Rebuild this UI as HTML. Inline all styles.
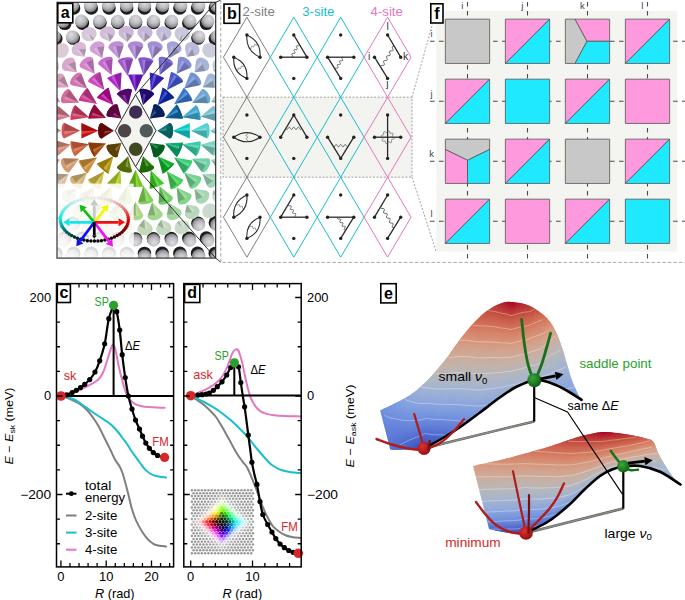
<!DOCTYPE html>
<html><head><meta charset="utf-8"><style>
html,body{margin:0;padding:0;background:#fff;width:685px;height:600px;overflow:hidden}
svg{display:block}
text{font-family:"Liberation Sans",sans-serif}
</style></head><body>
<svg width="685" height="600" viewBox="0 0 685 600">
<defs><clipPath id="clipA"><rect x="57" y="2.3" width="158.7" height="255.8"/></clipPath></defs>
<defs><radialGradient id="gfar" cx="0.5" cy="0.3" r="0.78"><stop offset="0" stop-color="#dedee2"/><stop offset="0.5" stop-color="#b9b9bf"/><stop offset="0.8" stop-color="#858589"/><stop offset="1" stop-color="#303032"/></radialGradient></defs>
<g clip-path="url(#clipA)">
<rect x="57" y="2.3" width="158.7" height="255.8" fill="#fff"/>
<circle cx="47.09" cy="268.68" r="6.7" fill="#1c1c1c"/>
<circle cx="45.68" cy="270.87" r="6.6" fill="url(#gfar)" transform="rotate(-147.32 45.68 270.87)"/>
<circle cx="224.11" cy="268.68" r="6.7" fill="#1c1c1c"/>
<circle cx="225.52" cy="270.87" r="6.6" fill="url(#gfar)" transform="rotate(-212.68 225.52 270.87)"/>
<circle cx="47.09" cy="-7.28" r="6.7" fill="#1c1c1c"/>
<circle cx="45.68" cy="-9.47" r="6.6" fill="url(#gfar)" transform="rotate(-32.68 45.68 -9.47)"/>
<circle cx="224.11" cy="-7.28" r="6.7" fill="#1c1c1c"/>
<circle cx="225.52" cy="-9.47" r="6.6" fill="url(#gfar)" transform="rotate(32.68 225.52 -9.47)"/>
<circle cx="64.79" cy="268.67" r="6.7" fill="#1c1c1c"/>
<circle cx="63.61" cy="270.98" r="6.6" fill="url(#gfar)" transform="rotate(-152.83 63.61 270.98)"/>
<circle cx="206.41" cy="268.67" r="6.7" fill="#1c1c1c"/>
<circle cx="207.59" cy="270.98" r="6.6" fill="url(#gfar)" transform="rotate(-207.17 207.59 270.98)"/>
<circle cx="64.79" cy="-7.27" r="6.7" fill="#1c1c1c"/>
<circle cx="63.61" cy="-9.58" r="6.6" fill="url(#gfar)" transform="rotate(-27.17 63.61 -9.58)"/>
<circle cx="206.41" cy="-7.27" r="6.7" fill="#1c1c1c"/>
<circle cx="207.59" cy="-9.58" r="6.6" fill="url(#gfar)" transform="rotate(27.17 207.59 -9.58)"/>
<circle cx="82.5" cy="-7.26" r="6.7" fill="#1c1c1c"/>
<circle cx="81.56" cy="-9.69" r="6.6" fill="url(#gfar)" transform="rotate(-21.05 81.56 -9.69)"/>
<circle cx="188.7" cy="-7.26" r="6.7" fill="#1c1c1c"/>
<circle cx="189.64" cy="-9.69" r="6.6" fill="url(#gfar)" transform="rotate(21.05 189.64 -9.69)"/>
<circle cx="55.95" cy="253.33" r="6.7" fill="#1c1c1c"/>
<circle cx="54.53" cy="255.51" r="6.6" fill="url(#gfar)" transform="rotate(-147 54.53 255.51)"/>
<circle cx="215.25" cy="253.33" r="6.7" fill="#1c1c1c"/>
<circle cx="216.67" cy="255.51" r="6.6" fill="url(#gfar)" transform="rotate(-213 216.67 255.51)"/>
<circle cx="55.95" cy="8.07" r="6.7" fill="#1c1c1c"/>
<circle cx="54.53" cy="5.89" r="6.6" fill="url(#gfar)" transform="rotate(-33 54.53 5.89)"/>
<circle cx="215.25" cy="8.07" r="6.7" fill="#1c1c1c"/>
<circle cx="216.67" cy="5.89" r="6.6" fill="url(#gfar)" transform="rotate(33 216.67 5.89)"/>
<circle cx="100.2" cy="-7.26" r="6.7" fill="#1c1c1c"/>
<circle cx="99.55" cy="-9.78" r="6.6" fill="url(#gfar)" transform="rotate(-14.39 99.55 -9.78)"/>
<circle cx="171" cy="-7.26" r="6.7" fill="#1c1c1c"/>
<circle cx="171.65" cy="-9.78" r="6.6" fill="url(#gfar)" transform="rotate(14.39 171.65 -9.78)"/>
<circle cx="47.1" cy="238" r="6.7" fill="#1c1c1c"/>
<circle cx="45.45" cy="240" r="6.6" fill="url(#gfar)" transform="rotate(-140.48 45.45 240)"/>
<circle cx="224.1" cy="238" r="6.7" fill="#1c1c1c"/>
<circle cx="225.75" cy="240" r="6.6" fill="url(#gfar)" transform="rotate(-219.52 225.75 240)"/>
<circle cx="47.1" cy="23.4" r="6.7" fill="#1c1c1c"/>
<circle cx="45.45" cy="21.4" r="6.6" fill="url(#gfar)" transform="rotate(-39.52 45.45 21.4)"/>
<circle cx="224.1" cy="23.4" r="6.7" fill="#1c1c1c"/>
<circle cx="225.75" cy="21.4" r="6.6" fill="url(#gfar)" transform="rotate(39.52 225.75 21.4)"/>
<circle cx="117.9" cy="-7.26" r="6.7" fill="#1c1c1c"/>
<circle cx="117.57" cy="-9.83" r="6.6" fill="url(#gfar)" transform="rotate(-7.31 117.57 -9.83)"/>
<circle cx="153.3" cy="-7.26" r="6.7" fill="#1c1c1c"/>
<circle cx="153.63" cy="-9.83" r="6.6" fill="url(#gfar)" transform="rotate(7.31 153.63 -9.83)"/>
<circle cx="135.6" cy="-7.25" r="6.7" fill="#1c1c1c"/>
<circle cx="135.6" cy="-9.85" r="6.6" fill="url(#gfar)" transform="rotate(0 135.6 -9.85)"/>
<circle cx="73.65" cy="253.32" r="6.7" fill="#1c1c1c"/>
<circle cx="72.48" cy="255.65" r="6.6" fill="url(#gfar)" transform="rotate(-153.2 72.48 255.65)"/>
<circle cx="197.55" cy="253.32" r="6.7" fill="#1c1c1c"/>
<circle cx="198.72" cy="255.65" r="6.6" fill="url(#gfar)" transform="rotate(-206.8 198.72 255.65)"/>
<circle cx="73.65" cy="8.08" r="6.7" fill="#1c1c1c"/>
<circle cx="72.48" cy="5.75" r="6.6" fill="url(#gfar)" transform="rotate(-26.8 72.48 5.75)"/>
<circle cx="197.55" cy="8.08" r="6.7" fill="#1c1c1c"/>
<circle cx="198.72" cy="5.75" r="6.6" fill="url(#gfar)" transform="rotate(26.8 198.72 5.75)"/>
<circle cx="91.35" cy="253.32" r="6.7" fill="#1c1c1c"/>
<circle cx="90.47" cy="255.76" r="6.6" fill="url(#gfar)" transform="rotate(-160.16 90.47 255.76)"/>
<circle cx="179.85" cy="253.32" r="6.7" fill="#1c1c1c"/>
<circle cx="180.73" cy="255.76" r="6.6" fill="url(#gfar)" transform="rotate(-199.84 180.73 255.76)"/>
<circle cx="91.35" cy="8.08" r="6.7" fill="#1c1c1c"/>
<circle cx="90.47" cy="5.64" r="6.6" fill="url(#gfar)" transform="rotate(-19.84 90.47 5.64)"/>
<circle cx="179.85" cy="8.08" r="6.7" fill="#1c1c1c"/>
<circle cx="180.73" cy="5.64" r="6.6" fill="url(#gfar)" transform="rotate(19.84 180.73 5.64)"/>
<circle cx="64.81" cy="237.99" r="6.7" fill="#1c1c1c"/>
<circle cx="63.38" cy="240.16" r="6.6" fill="url(#gfar)" transform="rotate(-146.58 63.38 240.16)"/>
<circle cx="206.39" cy="237.99" r="6.7" fill="#1c1c1c"/>
<circle cx="207.82" cy="240.16" r="6.6" fill="url(#gfar)" transform="rotate(-213.42 207.82 240.16)"/>
<circle cx="64.81" cy="23.41" r="6.7" fill="#1c1c1c"/>
<circle cx="63.38" cy="21.24" r="6.6" fill="url(#gfar)" transform="rotate(-33.42 63.38 21.24)"/>
<circle cx="206.39" cy="23.41" r="6.7" fill="#1c1c1c"/>
<circle cx="207.82" cy="21.24" r="6.6" fill="url(#gfar)" transform="rotate(33.42 207.82 21.24)"/>
<circle cx="109.05" cy="253.31" r="6.7" fill="#1c1c1c"/>
<circle cx="108.5" cy="255.85" r="6.6" fill="url(#gfar)" transform="rotate(-167.78 108.5 255.85)"/>
<circle cx="162.15" cy="253.31" r="6.7" fill="#1c1c1c"/>
<circle cx="162.7" cy="255.85" r="6.6" fill="url(#gfar)" transform="rotate(-192.22 162.7 255.85)"/>
<circle cx="109.05" cy="8.09" r="6.7" fill="#1c1c1c"/>
<circle cx="108.5" cy="5.55" r="6.6" fill="url(#gfar)" transform="rotate(-12.22 108.5 5.55)"/>
<circle cx="162.15" cy="8.09" r="6.7" fill="#1c1c1c"/>
<circle cx="162.7" cy="5.55" r="6.6" fill="url(#gfar)" transform="rotate(12.22 162.7 5.55)"/>
<circle cx="126.75" cy="253.36" r="6.7" fill="#1c1c1c"/>
<circle cx="126.57" cy="255.87" r="6.6" fill="url(#gfar)" transform="rotate(-175.87 126.57 255.87)"/>
<circle cx="144.45" cy="253.36" r="6.7" fill="#1c1c1c"/>
<circle cx="144.63" cy="255.87" r="6.6" fill="url(#gfar)" transform="rotate(-184.13 144.63 255.87)"/>
<circle cx="126.75" cy="8.04" r="6.7" fill="#1c1c1c"/>
<circle cx="126.57" cy="5.53" r="6.6" fill="url(#gfar)" transform="rotate(-4.13 126.57 5.53)"/>
<circle cx="144.45" cy="8.04" r="6.7" fill="#1c1c1c"/>
<circle cx="144.63" cy="5.53" r="6.6" fill="url(#gfar)" transform="rotate(4.13 144.63 5.53)"/>
<circle cx="55.88" cy="222.75" r="6.7" fill="#1c1c1c"/>
<circle cx="54.32" cy="224.56" r="6.6" fill="url(#gfar)" transform="rotate(-139.11 54.32 224.56)"/>
<circle cx="215.32" cy="222.75" r="6.7" fill="#1c1c1c"/>
<circle cx="216.88" cy="224.56" r="6.6" fill="url(#gfar)" transform="rotate(-220.89 216.88 224.56)"/>
<circle cx="55.88" cy="38.65" r="6.7" fill="#1c1c1c"/>
<circle cx="54.32" cy="36.84" r="6.6" fill="url(#gfar)" transform="rotate(-40.89 54.32 36.84)"/>
<circle cx="215.32" cy="38.65" r="6.7" fill="#1c1c1c"/>
<circle cx="216.88" cy="36.84" r="6.6" fill="url(#gfar)" transform="rotate(40.89 216.88 36.84)"/>
<circle cx="82.41" cy="238.18" r="6.7" fill="#1c1c1c"/>
<circle cx="81.43" cy="240.17" r="6.6" fill="url(#gfar)" transform="rotate(-153.67 81.43 240.17)"/>
<circle cx="188.79" cy="238.18" r="6.7" fill="#1c1c1c"/>
<circle cx="189.77" cy="240.17" r="6.6" fill="url(#gfar)" transform="rotate(-206.33 189.77 240.17)"/>
<circle cx="82.41" cy="23.22" r="6.7" fill="#1c1c1c"/>
<circle cx="81.43" cy="21.23" r="6.6" fill="url(#gfar)" transform="rotate(-26.33 81.43 21.23)"/>
<circle cx="188.79" cy="23.22" r="6.7" fill="#1c1c1c"/>
<circle cx="189.77" cy="21.23" r="6.6" fill="url(#gfar)" transform="rotate(26.33 189.77 21.23)"/>
<circle cx="46.84" cy="207.57" r="6.7" fill="#1c1c1c"/>
<circle cx="45.34" cy="208.86" r="6.6" fill="url(#gfar)" transform="rotate(-130.89 45.34 208.86)"/>
<circle cx="224.36" cy="207.57" r="6.7" fill="#1c1c1c"/>
<circle cx="225.86" cy="208.86" r="6.6" fill="url(#gfar)" transform="rotate(-229.11 225.86 208.86)"/>
<circle cx="46.84" cy="53.83" r="6.7" fill="#1c1c1c"/>
<circle cx="45.34" cy="52.54" r="6.6" fill="url(#gfar)" transform="rotate(-49.11 45.34 52.54)"/>
<circle cx="224.36" cy="53.83" r="6.7" fill="#1c1c1c"/>
<circle cx="225.86" cy="52.54" r="6.6" fill="url(#gfar)" transform="rotate(49.11 225.86 52.54)"/>
<circle cx="100.02" cy="238.54" r="6.7" fill="#1c1c1c"/>
<circle cx="99.52" cy="240.06" r="6.6" fill="url(#gfar)" transform="rotate(-161.74 99.52 240.06)"/>
<circle cx="171.18" cy="238.54" r="6.7" fill="#1c1c1c"/>
<circle cx="171.68" cy="240.06" r="6.6" fill="url(#gfar)" transform="rotate(-198.26 171.68 240.06)"/>
<circle cx="100.02" cy="22.86" r="6.7" fill="#1c1c1c"/>
<circle cx="99.52" cy="21.34" r="6.6" fill="url(#gfar)" transform="rotate(-18.26 99.52 21.34)"/>
<circle cx="171.18" cy="22.86" r="6.7" fill="#1c1c1c"/>
<circle cx="171.68" cy="21.34" r="6.6" fill="url(#gfar)" transform="rotate(18.26 171.68 21.34)"/>
<circle cx="73.27" cy="223.24" r="6.7" fill="#1c1c1c"/>
<circle cx="72.48" cy="224.4" r="6.6" fill="url(#gfar)" transform="rotate(-146.04 72.48 224.4)"/>
<circle cx="197.93" cy="223.24" r="6.7" fill="#1c1c1c"/>
<circle cx="198.72" cy="224.4" r="6.6" fill="url(#gfar)" transform="rotate(-213.96 198.72 224.4)"/>
<circle cx="73.27" cy="38.16" r="6.7" fill="#1c1c1c"/>
<circle cx="72.48" cy="37" r="6.6" fill="url(#gfar)" transform="rotate(-33.96 72.48 37)"/>
<circle cx="197.93" cy="38.16" r="6.7" fill="#1c1c1c"/>
<circle cx="198.72" cy="37" r="6.6" fill="url(#gfar)" transform="rotate(33.96 198.72 37)"/>
<circle cx="117.77" cy="238.78" r="6.7" fill="#1c1c1c"/>
<circle cx="117.57" cy="239.98" r="6.6" fill="url(#gfar)" transform="rotate(-170.63 117.57 239.98)"/>
<circle cx="153.43" cy="238.78" r="6.7" fill="#1c1c1c"/>
<circle cx="153.63" cy="239.98" r="6.6" fill="url(#gfar)" transform="rotate(-189.37 153.63 239.98)"/>
<circle cx="117.77" cy="22.62" r="6.7" fill="#1c1c1c"/>
<circle cx="117.57" cy="21.42" r="6.6" fill="url(#gfar)" transform="rotate(-9.37 117.57 21.42)"/>
<circle cx="153.43" cy="22.62" r="6.7" fill="#1c1c1c"/>
<circle cx="153.63" cy="21.42" r="6.6" fill="url(#gfar)" transform="rotate(9.37 153.63 21.42)"/>
<circle cx="135.6" cy="238.87" r="6.7" fill="#1c1c1c"/>
<circle cx="135.6" cy="239.95" r="6.6" fill="url(#gfar)" transform="rotate(-180 135.6 239.95)"/>
<circle cx="135.6" cy="22.53" r="6.7" fill="#1c1c1c"/>
<circle cx="135.6" cy="21.45" r="6.6" fill="url(#gfar)" transform="rotate(0 135.6 21.45)"/>
<ellipse cx="61.51" cy="210.91" rx="7.7" ry="7.08" transform="rotate(42.73 61.51 210.91)" fill="#dad7cb"/>
<ellipse cx="209.69" cy="210.91" rx="7.7" ry="7.08" transform="rotate(-42.73 209.69 210.91)" fill="#cbdace"/>
<ellipse cx="61.51" cy="50.49" rx="7.7" ry="7.08" transform="rotate(137.27 61.51 50.49)" fill="#dacbd7"/>
<ellipse cx="209.69" cy="50.49" rx="7.7" ry="7.08" transform="rotate(-137.27 209.69 50.49)" fill="#cbceda"/>
<path d="M94.24,222.57L92.29,220.72L89.62,220.34A7.7,6.94 25.69 1 0 94.24,222.57Z" fill="#d8dac7"/>
<path d="M92.29,220.72L89.62,220.34L89.1,227.35Z" fill="#61625a" opacity="0.35"/>
<path d="M92.29,220.72L92.22,228.86L89.44,227.52Z" fill="#fff" opacity="0.22"/>
<path d="M181.58,220.34L178.91,220.72L176.96,222.57A7.7,6.94 -25.69 1 0 181.58,220.34Z" fill="#c9dac7"/>
<path d="M178.91,220.72L176.96,222.57L182.1,227.35Z" fill="#5a625a" opacity="0.35"/>
<path d="M178.91,220.72L185.23,225.85L182.45,227.19Z" fill="#fff" opacity="0.22"/>
<path d="M89.62,41.06L92.29,40.68L94.24,38.83A7.7,6.94 154.31 1 0 89.62,41.06Z" fill="#d8c7da"/>
<path d="M92.29,40.68L94.24,38.83L89.1,34.05Z" fill="#615a62" opacity="0.35"/>
<path d="M92.29,40.68L85.97,35.55L88.75,34.21Z" fill="#fff" opacity="0.22"/>
<path d="M176.96,38.83L178.91,40.68L181.58,41.06A7.7,6.94 -154.31 1 0 176.96,38.83Z" fill="#c9c7da"/>
<path d="M178.91,40.68L181.58,41.06L182.1,34.05Z" fill="#5a5a62" opacity="0.35"/>
<path d="M178.91,40.68L178.98,32.54L181.76,33.88Z" fill="#fff" opacity="0.22"/>
<path d="M58.67,194.56L57.84,190.56L54.19,188.73A7.7,6.84 52.41 1 0 58.67,194.56Z" fill="#d9d2c5"/>
<path d="M57.84,190.56L54.19,188.73L51.66,195.31Z" fill="#625e59" opacity="0.35"/>
<path d="M57.84,190.56L53.78,198.06L51.9,195.62Z" fill="#fff" opacity="0.22"/>
<path d="M217.01,188.73L213.36,190.56L212.53,194.56A7.7,6.84 -52.41 1 0 217.01,188.73Z" fill="#c5d9cc"/>
<path d="M213.36,190.56L212.53,194.56L219.54,195.31Z" fill="#59625c" opacity="0.35"/>
<path d="M213.36,190.56L221.65,192.57L219.77,195.01Z" fill="#fff" opacity="0.22"/>
<path d="M54.19,72.67L57.84,70.84L58.67,66.84A7.7,6.84 127.59 1 0 54.19,72.67Z" fill="#d9c5d2"/>
<path d="M57.84,70.84L58.67,66.84L51.66,66.09Z" fill="#62595e" opacity="0.35"/>
<path d="M57.84,70.84L49.55,68.83L51.43,66.39Z" fill="#fff" opacity="0.22"/>
<path d="M212.53,66.84L213.36,70.84L217.01,72.67A7.7,6.84 -127.59 1 0 212.53,66.84Z" fill="#c5ccd9"/>
<path d="M213.36,70.84L217.01,72.67L219.54,66.09Z" fill="#595c62" opacity="0.35"/>
<path d="M213.36,70.84L217.42,63.34L219.3,65.78Z" fill="#fff" opacity="0.22"/>
<path d="M49.21,180.16L49.31,175.54L45.46,172.96A7.7,6.8 62.54 1 0 49.21,180.16Z" fill="#d9cdc3"/>
<path d="M49.31,175.54L45.46,172.96L42.21,179.23Z" fill="#625c58" opacity="0.35"/>
<path d="M49.31,175.54L43.81,182.3L42.39,179.57Z" fill="#fff" opacity="0.22"/>
<path d="M225.74,172.96L221.89,175.54L221.99,180.16A7.7,6.8 -62.54 1 0 225.74,172.96Z" fill="#c3d9cf"/>
<path d="M221.89,175.54L221.99,180.16L228.99,179.23Z" fill="#58625d" opacity="0.35"/>
<path d="M221.89,175.54L230.59,176.15L229.17,178.89Z" fill="#fff" opacity="0.22"/>
<path d="M45.46,88.44L49.31,85.86L49.21,81.24A7.7,6.8 117.46 1 0 45.46,88.44Z" fill="#d9c3cd"/>
<path d="M49.31,85.86L49.21,81.24L42.21,82.17Z" fill="#62585c" opacity="0.35"/>
<path d="M49.31,85.86L40.61,85.25L42.03,82.51Z" fill="#fff" opacity="0.22"/>
<path d="M221.99,81.24L221.89,85.86L225.74,88.44A7.7,6.8 -117.46 1 0 221.99,81.24Z" fill="#c3cfd9"/>
<path d="M221.89,85.86L225.74,88.44L228.99,82.17Z" fill="#585d62" opacity="0.35"/>
<path d="M221.89,85.86L227.39,79.1L228.81,81.83Z" fill="#fff" opacity="0.22"/>
<path d="M113.77,225.29L109.87,219.82L103.67,222.37A7.7,6.54 16.1 1 0 113.77,225.29Z" fill="#d2d9bd"/>
<path d="M109.87,219.82L103.67,222.37L107.39,228.42Z" fill="#5f6255" opacity="0.35"/>
<path d="M109.87,219.82L110.72,229.38L107.76,228.53Z" fill="#fff" opacity="0.22"/>
<path d="M167.53,222.37L161.33,219.82L157.43,225.29A7.7,6.54 -16.1 1 0 167.53,222.37Z" fill="#c3d9bd"/>
<path d="M161.33,219.82L157.43,225.29L163.81,228.42Z" fill="#586255" opacity="0.35"/>
<path d="M161.33,219.82L167.14,227.46L164.18,228.32Z" fill="#fff" opacity="0.22"/>
<path d="M103.67,39.03L109.87,41.58L113.77,36.11A7.7,6.54 163.9 1 0 103.67,39.03Z" fill="#d2bdd9"/>
<path d="M109.87,41.58L113.77,36.11L107.39,32.98Z" fill="#5f5562" opacity="0.35"/>
<path d="M109.87,41.58L104.06,33.94L107.02,33.08Z" fill="#fff" opacity="0.22"/>
<path d="M157.43,36.11L161.33,41.58L167.53,39.03A7.7,6.54 -163.9 1 0 157.43,36.11Z" fill="#c3bdd9"/>
<path d="M161.33,41.58L167.53,39.03L163.81,32.98Z" fill="#585562" opacity="0.35"/>
<path d="M161.33,41.58L160.48,32.02L163.44,32.87Z" fill="#fff" opacity="0.22"/>
<path d="M86.07,212.19L84.34,204.68L76.71,205.7A7.7,6.39 34.72 1 0 86.07,212.19Z" fill="#d8d6b9"/>
<path d="M84.34,204.68L76.71,205.7L78.94,212.48Z" fill="#616053" opacity="0.35"/>
<path d="M84.34,204.68L81.79,214.45L79.26,212.7Z" fill="#fff" opacity="0.22"/>
<path d="M194.49,205.7L186.86,204.68L185.13,212.19A7.7,6.39 -34.72 1 0 194.49,205.7Z" fill="#b9d8bb"/>
<path d="M186.86,204.68L185.13,212.19L192.26,212.48Z" fill="#536154" opacity="0.35"/>
<path d="M186.86,204.68L195.11,210.51L192.58,212.26Z" fill="#fff" opacity="0.22"/>
<path d="M76.71,55.7L84.34,56.72L86.07,49.21A7.7,6.39 145.28 1 0 76.71,55.7Z" fill="#d8b9d6"/>
<path d="M84.34,56.72L86.07,49.21L78.94,48.92Z" fill="#615360" opacity="0.35"/>
<path d="M84.34,56.72L76.09,50.89L78.62,49.14Z" fill="#fff" opacity="0.22"/>
<path d="M185.13,49.21L186.86,56.72L194.49,55.7A7.7,6.39 -145.28 1 0 185.13,49.21Z" fill="#b9bbd8"/>
<path d="M186.86,56.72L194.49,55.7L192.26,48.92Z" fill="#535461" opacity="0.35"/>
<path d="M186.86,56.72L189.41,46.95L191.94,48.7Z" fill="#fff" opacity="0.22"/>
<path d="M132.33,225.4L127.07,219.36L120.76,224.28A7.7,6.34 5.5 1 0 132.33,225.4Z" fill="#cbd8b7"/>
<path d="M127.07,219.36L120.76,224.28L126.14,228.98Z" fill="#5b6153" opacity="0.35"/>
<path d="M127.07,219.36L129.59,229.31L126.53,229.01Z" fill="#fff" opacity="0.22"/>
<path d="M150.44,224.28L144.13,219.36L138.87,225.4A7.7,6.34 -5.5 1 0 150.44,224.28Z" fill="#c5d8b7"/>
<path d="M144.13,219.36L138.87,225.4L145.06,228.98Z" fill="#596153" opacity="0.35"/>
<path d="M144.13,219.36L148.51,228.64L145.44,228.94Z" fill="#fff" opacity="0.22"/>
<path d="M120.76,37.12L127.07,42.04L132.33,36A7.7,6.34 174.5 1 0 120.76,37.12Z" fill="#cbb7d8"/>
<path d="M127.07,42.04L132.33,36L126.14,32.42Z" fill="#5b5361" opacity="0.35"/>
<path d="M127.07,42.04L122.69,32.76L125.76,32.46Z" fill="#fff" opacity="0.22"/>
<path d="M138.87,36L144.13,42.04L150.44,37.12A7.7,6.34 -174.5 1 0 138.87,36Z" fill="#c5b7d8"/>
<path d="M144.13,42.04L150.44,37.12L145.06,32.42Z" fill="#595361" opacity="0.35"/>
<path d="M144.13,42.04L141.61,32.09L144.67,32.39Z" fill="#fff" opacity="0.22"/>
<path d="M44.96,152.78L50.79,145.39L42.82,140.39A7.7,6.06 80.17 1 0 44.96,152.78Z" fill="#d8b7b0"/>
<path d="M50.79,145.39L42.82,140.39L40.45,147.18Z" fill="#61524f" opacity="0.35"/>
<path d="M50.79,145.39L41.04,150.59L40.51,147.56Z" fill="#fff" opacity="0.22"/>
<path d="M228.38,140.39L220.41,145.39L226.24,152.78A7.7,6.06 -80.17 1 0 228.38,140.39Z" fill="#b0d8d1"/>
<path d="M220.41,145.39L226.24,152.78L230.75,147.18Z" fill="#4f615e" opacity="0.35"/>
<path d="M220.41,145.39L231.34,143.77L230.82,146.8Z" fill="#fff" opacity="0.22"/>
<path d="M42.82,121.01L50.79,116.01L44.96,108.62A7.7,6.06 99.83 1 0 42.82,121.01Z" fill="#d8b0b7"/>
<path d="M50.79,116.01L44.96,108.62L40.45,114.22Z" fill="#614f52" opacity="0.35"/>
<path d="M50.79,116.01L39.86,117.63L40.38,114.6Z" fill="#fff" opacity="0.22"/>
<path d="M226.24,108.62L220.41,116.01L228.38,121.01A7.7,6.06 -99.83 1 0 226.24,108.62Z" fill="#b0d1d8"/>
<path d="M220.41,116.01L228.38,121.01L230.75,114.22Z" fill="#4f5e61" opacity="0.35"/>
<path d="M220.41,116.01L230.16,110.81L230.69,113.84Z" fill="#fff" opacity="0.22"/>
<path d="M75.31,199.71L76.6,189.09L65.98,190.28A7.7,5.75 45.3 1 0 75.31,199.71Z" fill="#d7cba8"/>
<path d="M76.6,189.09L65.98,190.28L68.57,197.05Z" fill="#615b4c" opacity="0.35"/>
<path d="M76.6,189.09L71,199.51L68.84,197.32Z" fill="#fff" opacity="0.22"/>
<path d="M205.22,190.28L194.6,189.09L195.89,199.71A7.7,5.75 -45.3 1 0 205.22,190.28Z" fill="#a8d7b4"/>
<path d="M194.6,189.09L195.89,199.71L202.63,197.05Z" fill="#4c6151" opacity="0.35"/>
<path d="M194.6,189.09L205.07,194.58L202.91,196.77Z" fill="#fff" opacity="0.22"/>
<path d="M65.98,71.12L76.6,72.31L75.31,61.69A7.7,5.75 134.7 1 0 65.98,71.12Z" fill="#d7a8cb"/>
<path d="M76.6,72.31L75.31,61.69L68.57,64.35Z" fill="#614c5b" opacity="0.35"/>
<path d="M76.6,72.31L66.13,66.82L68.29,64.63Z" fill="#fff" opacity="0.22"/>
<path d="M195.89,61.69L194.6,72.31L205.22,71.12A7.7,5.75 -134.7 1 0 195.89,61.69Z" fill="#a8b4d7"/>
<path d="M194.6,72.31L205.22,71.12L202.63,64.35Z" fill="#4c5161" opacity="0.35"/>
<path d="M194.6,72.31L200.2,61.89L202.36,64.08Z" fill="#fff" opacity="0.22"/>
<path d="M53.91,169.43L60.07,159.77L49.02,156.74A7.7,5.54 68.95 1 0 53.91,169.43Z" fill="#d7b5a2"/>
<path d="M60.07,159.77L49.02,156.74L49.04,164.02Z" fill="#615149" opacity="0.35"/>
<path d="M60.07,159.77L50.29,167.25L49.18,164.38Z" fill="#fff" opacity="0.22"/>
<path d="M222.18,156.74L211.13,159.77L217.29,169.43A7.7,5.54 -68.95 1 0 222.18,156.74Z" fill="#a2d7c4"/>
<path d="M211.13,159.77L217.29,169.43L222.16,164.02Z" fill="#496158" opacity="0.35"/>
<path d="M211.13,159.77L223.4,160.78L222.3,163.66Z" fill="#fff" opacity="0.22"/>
<path d="M49.02,104.66L60.07,101.63L53.91,91.97A7.7,5.54 111.05 1 0 49.02,104.66Z" fill="#d7a2b5"/>
<path d="M60.07,101.63L53.91,91.97L49.04,97.38Z" fill="#614951" opacity="0.35"/>
<path d="M60.07,101.63L47.8,100.62L48.9,97.74Z" fill="#fff" opacity="0.22"/>
<path d="M217.29,91.97L211.13,101.63L222.18,104.66A7.7,5.54 -111.05 1 0 217.29,91.97Z" fill="#a2c4d7"/>
<path d="M211.13,101.63L222.18,104.66L222.16,97.38Z" fill="#495861" opacity="0.35"/>
<path d="M211.13,101.63L220.91,94.15L222.02,97.02Z" fill="#fff" opacity="0.22"/>
<path d="M104.31,214.83L102.1,203.23L91.83,209.07A7.7,5.43 24.79 1 0 104.31,214.83Z" fill="#d2d6a0"/>
<path d="M102.1,203.23L91.83,209.07L97.05,214.17Z" fill="#5e6148" opacity="0.35"/>
<path d="M102.1,203.23L100.19,215.62L97.4,214.33Z" fill="#fff" opacity="0.22"/>
<path d="M179.37,209.07L169.1,203.23L166.89,214.83A7.7,5.43 -24.79 1 0 179.37,209.07Z" fill="#a4d6a0"/>
<path d="M169.1,203.23L166.89,214.83L174.15,214.17Z" fill="#4a6148" opacity="0.35"/>
<path d="M169.1,203.23L177.3,212.72L174.5,214.01Z" fill="#fff" opacity="0.22"/>
<path d="M64.29,185.21L68.6,174.22L56.8,173.69A7.7,5.43 57 1 0 64.29,185.21Z" fill="#d6bea0"/>
<path d="M68.6,174.22L56.8,173.69L58.49,180.78Z" fill="#615548" opacity="0.35"/>
<path d="M68.6,174.22L60.38,183.69L58.7,181.11Z" fill="#fff" opacity="0.22"/>
<path d="M214.4,173.69L202.6,174.22L206.91,185.21A7.7,5.43 -57 1 0 214.4,173.69Z" fill="#a0d6b8"/>
<path d="M202.6,174.22L206.91,185.21L212.71,180.78Z" fill="#486153" opacity="0.35"/>
<path d="M202.6,174.22L214.6,177.88L212.92,180.46Z" fill="#fff" opacity="0.22"/>
<path d="M56.8,87.71L68.6,87.18L64.29,76.19A7.7,5.43 123 1 0 56.8,87.71Z" fill="#d6a0be"/>
<path d="M68.6,87.18L64.29,76.19L58.49,80.62Z" fill="#614855" opacity="0.35"/>
<path d="M68.6,87.18L56.6,83.52L58.28,80.94Z" fill="#fff" opacity="0.22"/>
<path d="M206.91,76.19L202.6,87.18L214.4,87.71A7.7,5.43 -123 1 0 206.91,76.19Z" fill="#a0b8d6"/>
<path d="M202.6,87.18L214.4,87.71L212.71,80.62Z" fill="#485361" opacity="0.35"/>
<path d="M202.6,87.18L210.82,77.71L212.5,80.29Z" fill="#fff" opacity="0.22"/>
<path d="M91.83,52.33L102.1,58.17L104.31,46.57A7.7,5.43 155.21 1 0 91.83,52.33Z" fill="#d2a0d6"/>
<path d="M102.1,58.17L104.31,46.57L97.05,47.23Z" fill="#5e4861" opacity="0.35"/>
<path d="M102.1,58.17L93.9,48.68L96.7,47.39Z" fill="#fff" opacity="0.22"/>
<path d="M166.89,46.57L169.1,58.17L179.37,52.33A7.7,5.43 -155.21 1 0 166.89,46.57Z" fill="#a4a0d6"/>
<path d="M169.1,58.17L179.37,52.33L174.15,47.23Z" fill="#4a4861" opacity="0.35"/>
<path d="M169.1,58.17L171.01,45.78L173.8,47.07Z" fill="#fff" opacity="0.22"/>
<path d="M49.69,137.85L61.04,130.7L49.69,123.55A7.7,4.88 90 1 0 49.69,137.85Z" fill="#d59191"/>
<path d="M61.04,130.7L49.69,123.55L47.88,130.7Z" fill="#604141" opacity="0.35"/>
<path d="M61.04,130.7L47.88,134.16L47.88,131.08Z" fill="#fff" opacity="0.22"/>
<path d="M221.51,123.55L210.16,130.7L221.51,137.85A7.7,4.88 -90 1 0 221.51,123.55Z" fill="#91d5d5"/>
<path d="M210.16,130.7L221.51,137.85L223.32,130.7Z" fill="#416060" opacity="0.35"/>
<path d="M210.16,130.7L223.32,127.23L223.32,130.31Z" fill="#fff" opacity="0.22"/>
<path d="M123.45,215.27L119.07,202.29L109.43,212.03A7.7,4.76 13 1 0 123.45,215.27Z" fill="#c1d58e"/>
<path d="M119.07,202.29L109.43,212.03L116.06,215.3Z" fill="#576040" opacity="0.35"/>
<path d="M119.07,202.29L119.44,216.08L116.44,215.39Z" fill="#fff" opacity="0.22"/>
<path d="M161.77,212.03L152.13,202.29L147.75,215.27A7.7,4.76 -13 1 0 161.77,212.03Z" fill="#a2d58e"/>
<path d="M152.13,202.29L147.75,215.27L155.14,215.3Z" fill="#496040" opacity="0.35"/>
<path d="M152.13,202.29L158.51,214.52L155.51,215.22Z" fill="#fff" opacity="0.22"/>
<path d="M109.43,49.37L119.07,59.11L123.45,46.13A7.7,4.76 167 1 0 109.43,49.37Z" fill="#c18ed5"/>
<path d="M119.07,59.11L123.45,46.13L116.06,46.1Z" fill="#574060" opacity="0.35"/>
<path d="M119.07,59.11L112.69,46.88L115.69,46.18Z" fill="#fff" opacity="0.22"/>
<path d="M147.75,46.13L152.13,59.11L161.77,49.37A7.7,4.76 -167 1 0 147.75,46.13Z" fill="#a28ed5"/>
<path d="M152.13,59.11L161.77,49.37L155.14,46.1Z" fill="#494060" opacity="0.35"/>
<path d="M152.13,59.11L151.76,45.32L154.76,46.01Z" fill="#fff" opacity="0.22"/>
<path d="M142.87,214.21L135.6,201.95L128.33,214.21A7.7,4.53 0 1 0 142.87,214.21Z" fill="#aed588"/>
<path d="M135.6,201.95L128.33,214.21L135.6,215.7Z" fill="#4e603d" opacity="0.35"/>
<path d="M135.6,201.95L139.06,215.7L135.98,215.7Z" fill="#fff" opacity="0.22"/>
<path d="M128.33,47.19L135.6,59.45L142.87,47.19A7.7,4.53 -180 1 0 128.33,47.19Z" fill="#ae88d5"/>
<path d="M135.6,59.45L142.87,47.19L135.6,45.7Z" fill="#4e3d60" opacity="0.35"/>
<path d="M135.6,59.45L132.13,45.7L135.22,45.7Z" fill="#fff" opacity="0.22"/>
<path d="M93.14,202.02L94.56,187.57L81.29,193.47A7.7,4.4 35.82 1 0 93.14,202.02Z" fill="#d4cd84"/>
<path d="M94.56,187.57L81.29,193.47L86.4,198.87Z" fill="#605c3c" opacity="0.35"/>
<path d="M94.56,187.57L89.21,200.9L86.71,199.1Z" fill="#fff" opacity="0.22"/>
<path d="M189.91,193.47L176.64,187.57L178.06,202.02A7.7,4.4 -35.82 1 0 189.91,193.47Z" fill="#84d48c"/>
<path d="M176.64,187.57L178.06,202.02L184.8,198.87Z" fill="#3c603f" opacity="0.35"/>
<path d="M176.64,187.57L187.61,196.85L185.11,198.65Z" fill="#fff" opacity="0.22"/>
<path d="M81.29,67.93L94.56,73.83L93.14,59.38A7.7,4.4 144.18 1 0 81.29,67.93Z" fill="#d484cd"/>
<path d="M94.56,73.83L93.14,59.38L86.4,62.53Z" fill="#603c5c" opacity="0.35"/>
<path d="M94.56,73.83L83.59,64.55L86.09,62.75Z" fill="#fff" opacity="0.22"/>
<path d="M178.06,59.38L176.64,73.83L189.91,67.93A7.7,4.4 -144.18 1 0 178.06,59.38Z" fill="#848cd4"/>
<path d="M176.64,73.83L189.91,67.93L184.8,62.53Z" fill="#3c3f60" opacity="0.35"/>
<path d="M176.64,73.83L181.99,60.5L184.49,62.3Z" fill="#fff" opacity="0.22"/>
<path d="M58.9,154.88L70.45,144.81L55.77,140.41A7.7,4.01 77.78 1 0 58.9,154.88Z" fill="#d38c7a"/>
<path d="M70.45,144.81L55.77,140.41L56.26,147.88Z" fill="#5f3f37" opacity="0.35"/>
<path d="M70.45,144.81L56.99,151.26L56.34,148.25Z" fill="#fff" opacity="0.22"/>
<path d="M215.43,140.41L200.75,144.81L212.3,154.88A7.7,4.01 -77.78 1 0 215.43,140.41Z" fill="#7ad3c1"/>
<path d="M200.75,144.81L212.3,154.88L214.94,147.88Z" fill="#375f57" opacity="0.35"/>
<path d="M200.75,144.81L215.68,144.49L215.02,147.5Z" fill="#fff" opacity="0.22"/>
<path d="M55.77,120.99L70.45,116.59L58.9,106.52A7.7,4.01 102.22 1 0 55.77,120.99Z" fill="#d37a8c"/>
<path d="M70.45,116.59L58.9,106.52L56.26,113.52Z" fill="#5f373f" opacity="0.35"/>
<path d="M70.45,116.59L55.52,116.91L56.18,113.9Z" fill="#fff" opacity="0.22"/>
<path d="M212.3,106.52L200.75,116.59L215.43,120.99A7.7,4.01 -102.22 1 0 212.3,106.52Z" fill="#7ac1d3"/>
<path d="M200.75,116.59L215.43,120.99L214.94,113.52Z" fill="#37575f" opacity="0.35"/>
<path d="M200.75,116.59L214.21,110.14L214.86,113.15Z" fill="#fff" opacity="0.22"/>
<path d="M81.35,187.54L87,172.79L71.59,176.27A7.7,3.73 49.11 1 0 81.35,187.54Z" fill="#d3b473"/>
<path d="M87,172.79L71.59,176.27L75.76,182.52Z" fill="#5f5134" opacity="0.35"/>
<path d="M87,172.79L78.03,185.14L76.01,182.81Z" fill="#fff" opacity="0.22"/>
<path d="M199.61,176.27L184.2,172.79L189.85,187.54A7.7,3.73 -49.11 1 0 199.61,176.27Z" fill="#73d391"/>
<path d="M184.2,172.79L189.85,187.54L195.44,182.52Z" fill="#345f41" opacity="0.35"/>
<path d="M184.2,172.79L197.71,179.9L195.69,182.23Z" fill="#fff" opacity="0.22"/>
<path d="M71.59,85.13L87,88.61L81.35,73.86A7.7,3.73 130.89 1 0 71.59,85.13Z" fill="#d373b4"/>
<path d="M87,88.61L81.35,73.86L75.76,78.88Z" fill="#5f3451" opacity="0.35"/>
<path d="M87,88.61L73.49,81.5L75.51,79.17Z" fill="#fff" opacity="0.22"/>
<path d="M189.85,73.86L184.2,88.61L199.61,85.13A7.7,3.73 -130.89 1 0 189.85,73.86Z" fill="#7391d3"/>
<path d="M184.2,88.61L199.61,85.13L195.44,78.88Z" fill="#34415f" opacity="0.35"/>
<path d="M184.2,88.61L193.17,76.26L195.19,78.59Z" fill="#fff" opacity="0.22"/>
<path d="M69.67,171.67L79.06,158.68L63.04,158.27A7.7,3.59 63.67 1 0 69.67,171.67Z" fill="#d39b6f"/>
<path d="M79.06,158.68L63.04,158.27L65.59,165.35Z" fill="#5f4632" opacity="0.35"/>
<path d="M79.06,158.68L67.12,168.45L65.76,165.69Z" fill="#fff" opacity="0.22"/>
<path d="M208.16,158.27L192.14,158.68L201.53,171.67A7.7,3.59 -63.67 1 0 208.16,158.27Z" fill="#6fd3a7"/>
<path d="M192.14,158.68L201.53,171.67L205.61,165.35Z" fill="#325f4b" opacity="0.35"/>
<path d="M192.14,158.68L207.15,162.24L205.78,165Z" fill="#fff" opacity="0.22"/>
<path d="M63.04,103.13L79.06,102.72L69.67,89.73A7.7,3.59 116.33 1 0 63.04,103.13Z" fill="#d36f9b"/>
<path d="M79.06,102.72L69.67,89.73L65.59,96.05Z" fill="#5f3246" opacity="0.35"/>
<path d="M79.06,102.72L64.05,99.16L65.42,96.4Z" fill="#fff" opacity="0.22"/>
<path d="M201.53,89.73L192.14,102.72L208.16,103.13A7.7,3.59 -116.33 1 0 201.53,89.73Z" fill="#6fa7d3"/>
<path d="M192.14,102.72L208.16,103.13L205.61,96.05Z" fill="#324b5f" opacity="0.35"/>
<path d="M192.14,102.72L204.08,92.95L205.44,95.71Z" fill="#fff" opacity="0.22"/>
<path d="M112.6,202.75L111.51,186.32L98.79,196.77A7.7,3.3 23.41 1 0 112.6,202.75Z" fill="#c6d267"/>
<path d="M111.51,186.32L98.79,196.77L105.41,200.41Z" fill="#595e2f" opacity="0.35"/>
<path d="M111.51,186.32L108.59,201.79L105.77,200.57Z" fill="#fff" opacity="0.22"/>
<path d="M172.41,196.77L159.69,186.32L158.6,202.75A7.7,3.3 -23.41 1 0 172.41,196.77Z" fill="#73d267"/>
<path d="M159.69,186.32L158.6,202.75L165.79,200.41Z" fill="#345e2f" opacity="0.35"/>
<path d="M159.69,186.32L168.97,199.04L166.14,200.26Z" fill="#fff" opacity="0.22"/>
<path d="M98.79,64.63L111.51,75.08L112.6,58.65A7.7,3.3 156.59 1 0 98.79,64.63Z" fill="#c667d2"/>
<path d="M111.51,75.08L112.6,58.65L105.41,60.99Z" fill="#592f5e" opacity="0.35"/>
<path d="M111.51,75.08L102.23,62.36L105.06,61.14Z" fill="#fff" opacity="0.22"/>
<path d="M158.6,58.65L159.69,75.08L172.41,64.63A7.7,3.3 -156.59 1 0 158.6,58.65Z" fill="#7367d2"/>
<path d="M159.69,75.08L172.41,64.63L165.79,60.99Z" fill="#342f5e" opacity="0.35"/>
<path d="M159.69,75.08L162.61,59.61L165.43,60.83Z" fill="#fff" opacity="0.22"/>
<path d="M132.98,201.98L127.68,185.59L117.96,199.81A7.7,2.69 8.21 1 0 132.98,201.98Z" fill="#a5d157"/>
<path d="M127.68,185.59L117.96,199.81L125.4,201.35Z" fill="#4a5e27" opacity="0.35"/>
<path d="M127.68,185.59L128.83,201.85L125.78,201.41Z" fill="#fff" opacity="0.22"/>
<path d="M153.24,199.81L143.52,185.59L138.22,201.98A7.7,2.69 -8.21 1 0 153.24,199.81Z" fill="#83d157"/>
<path d="M143.52,185.59L138.22,201.98L145.8,201.35Z" fill="#3b5e27" opacity="0.35"/>
<path d="M143.52,185.59L149.23,200.86L146.18,201.3Z" fill="#fff" opacity="0.22"/>
<path d="M64.67,138.29L80.14,130.7L64.67,123.11A7.7,2.69 90 1 0 64.67,138.29Z" fill="#d15757"/>
<path d="M80.14,130.7L64.67,123.11L64.22,130.7Z" fill="#5e2727" opacity="0.35"/>
<path d="M80.14,130.7L64.22,134.16L64.22,131.08Z" fill="#fff" opacity="0.22"/>
<path d="M206.53,123.11L191.06,130.7L206.53,138.29A7.7,2.69 -90 1 0 206.53,123.11Z" fill="#57d1d1"/>
<path d="M191.06,130.7L206.53,138.29L206.98,130.7Z" fill="#275e5e" opacity="0.35"/>
<path d="M191.06,130.7L206.98,127.23L206.98,130.31Z" fill="#fff" opacity="0.22"/>
<path d="M117.96,61.59L127.68,75.81L132.98,59.42A7.7,2.69 171.79 1 0 117.96,61.59Z" fill="#a557d1"/>
<path d="M127.68,75.81L132.98,59.42L125.4,60.05Z" fill="#4a275e" opacity="0.35"/>
<path d="M127.68,75.81L121.97,60.54L125.02,60.1Z" fill="#fff" opacity="0.22"/>
<path d="M138.22,59.42L143.52,75.81L153.24,61.59A7.7,2.69 -171.79 1 0 138.22,59.42Z" fill="#8357d1"/>
<path d="M143.52,75.81L153.24,61.59L145.8,60.05Z" fill="#3b275e" opacity="0.35"/>
<path d="M143.52,75.81L142.37,59.55L145.42,59.99Z" fill="#fff" opacity="0.22"/>
<path d="M100.54,188.76L104.29,171.37L88.44,179.45A7.7,2.12 37.59 1 0 100.54,188.76Z" fill="#cfbe48"/>
<path d="M104.29,171.37L88.44,179.45L94.32,184.32Z" fill="#5d5620" opacity="0.35"/>
<path d="M104.29,171.37L97.07,186.44L94.63,184.56Z" fill="#fff" opacity="0.22"/>
<path d="M182.76,179.45L166.91,171.37L170.66,188.76A7.7,2.12 -37.59 1 0 182.76,179.45Z" fill="#48cf59"/>
<path d="M166.91,171.37L170.66,188.76L176.88,184.32Z" fill="#205d28" opacity="0.35"/>
<path d="M166.91,171.37L179.63,182.21L177.18,184.09Z" fill="#fff" opacity="0.22"/>
<path d="M88.44,81.95L104.29,90.03L100.54,72.64A7.7,2.12 142.41 1 0 88.44,81.95Z" fill="#cf48be"/>
<path d="M104.29,90.03L100.54,72.64L94.32,77.08Z" fill="#5d2056" opacity="0.35"/>
<path d="M104.29,90.03L91.57,79.19L94.02,77.31Z" fill="#fff" opacity="0.22"/>
<path d="M170.66,72.64L166.91,90.03L182.76,81.95A7.7,2.12 -142.41 1 0 170.66,72.64Z" fill="#4859cf"/>
<path d="M166.91,90.03L182.76,81.95L176.88,77.08Z" fill="#20285d" opacity="0.35"/>
<path d="M166.91,90.03L174.13,74.96L176.57,76.84Z" fill="#fff" opacity="0.22"/>
<path d="M75.42,156.04L89.06,144.14L71.18,141.33A7.7,1.71 73.9 1 0 75.42,156.04Z" fill="#ce643d"/>
<path d="M89.06,144.14L71.18,141.33L73.13,148.73Z" fill="#5d2d1c" opacity="0.35"/>
<path d="M89.06,144.14L74.09,152.06L73.24,149.1Z" fill="#fff" opacity="0.22"/>
<path d="M200.02,141.33L182.14,144.14L195.78,156.04A7.7,1.71 -73.9 1 0 200.02,141.33Z" fill="#3dcea8"/>
<path d="M182.14,144.14L195.78,156.04L198.07,148.73Z" fill="#1c5d4b" opacity="0.35"/>
<path d="M182.14,144.14L199.03,145.4L198.18,148.36Z" fill="#fff" opacity="0.22"/>
<path d="M71.18,120.07L89.06,117.26L75.42,105.36A7.7,1.71 106.1 1 0 71.18,120.07Z" fill="#ce3d64"/>
<path d="M89.06,117.26L75.42,105.36L73.13,112.67Z" fill="#5d1c2d" opacity="0.35"/>
<path d="M89.06,117.26L72.17,116L73.02,113.04Z" fill="#fff" opacity="0.22"/>
<path d="M195.78,105.36L182.14,117.26L200.02,120.07A7.7,1.71 -106.1 1 0 195.78,105.36Z" fill="#3da8ce"/>
<path d="M182.14,117.26L200.02,120.07L198.07,112.67Z" fill="#1c4b5d" opacity="0.35"/>
<path d="M182.14,117.26L197.11,109.34L197.96,112.3Z" fill="#fff" opacity="0.22"/>
<path d="M87.77,173.17L97,157.44L79.04,160.56A7.7,1.49 55.28 1 0 87.77,173.17Z" fill="#ce8f38"/>
<path d="M97,157.44L79.04,160.56L83.3,166.94Z" fill="#5d4019" opacity="0.35"/>
<path d="M97,157.44L85.27,169.79L83.51,167.25Z" fill="#fff" opacity="0.22"/>
<path d="M192.16,160.56L174.2,157.44L183.43,173.17A7.7,1.49 -55.28 1 0 192.16,160.56Z" fill="#38ce77"/>
<path d="M174.2,157.44L183.43,173.17L187.9,166.94Z" fill="#195d36" opacity="0.35"/>
<path d="M174.2,157.44L189.88,164.09L188.12,166.62Z" fill="#fff" opacity="0.22"/>
<path d="M79.04,100.84L97,103.96L87.77,88.23A7.7,1.49 124.72 1 0 79.04,100.84Z" fill="#ce388f"/>
<path d="M97,103.96L87.77,88.23L83.3,94.46Z" fill="#5d1940" opacity="0.35"/>
<path d="M97,103.96L81.32,97.31L83.08,94.78Z" fill="#fff" opacity="0.22"/>
<path d="M183.43,88.23L174.2,103.96L192.16,100.84A7.7,1.49 -124.72 1 0 183.43,88.23Z" fill="#3877ce"/>
<path d="M174.2,103.96L192.16,100.84L187.9,94.46Z" fill="#19365d" opacity="0.35"/>
<path d="M174.2,103.96L185.93,91.61L187.69,94.15Z" fill="#fff" opacity="0.22"/>
<path d="M121.53,188.66L120.41,170.15L107.17,183.14A7.7,0.79 21.05 1 0 121.53,188.66Z" fill="#b4cd25"/>
<path d="M120.41,170.15L107.17,183.14L114.34,185.94Z" fill="#515c11" opacity="0.35"/>
<path d="M120.41,170.15L117.57,187.18L114.7,186.07Z" fill="#fff" opacity="0.22"/>
<path d="M164.03,183.14L150.79,170.15L149.67,188.66A7.7,0.79 -21.05 1 0 164.03,183.14Z" fill="#3ecd25"/>
<path d="M150.79,170.15L149.67,188.66L156.86,185.94Z" fill="#1c5c11" opacity="0.35"/>
<path d="M150.79,170.15L160.09,184.69L157.22,185.8Z" fill="#fff" opacity="0.22"/>
<path d="M107.17,78.26L120.41,91.25L121.53,72.74A7.7,0.79 158.95 1 0 107.17,78.26Z" fill="#b425cd"/>
<path d="M120.41,91.25L121.53,72.74L114.34,75.46Z" fill="#51115c" opacity="0.35"/>
<path d="M120.41,91.25L111.11,76.71L113.98,75.6Z" fill="#fff" opacity="0.22"/>
<path d="M149.67,72.74L150.79,91.25L164.03,78.26A7.7,0.79 -158.95 1 0 149.67,72.74Z" fill="#3e25cd"/>
<path d="M150.79,91.25L164.03,78.26L156.86,75.46Z" fill="#1c115c" opacity="0.35"/>
<path d="M150.79,91.25L153.63,74.22L156.5,75.33Z" fill="#fff" opacity="0.22"/>
<path d="M143.3,186.63L135.6,169.64L127.9,186.63A7.7,0.27 0 1 0 143.3,186.63Z" fill="#72cb18"/>
<path d="M135.6,169.64L127.9,186.63L135.6,186.63Z" fill="#335c0b" opacity="0.35"/>
<path d="M135.6,169.64L139.06,186.63L135.98,186.63Z" fill="#fff" opacity="0.22"/>
<path d="M127.9,74.77L135.6,91.76L143.3,74.77A7.7,0.27 -180 1 0 127.9,74.77Z" fill="#7218cb"/>
<path d="M135.6,91.76L143.3,74.77L135.6,74.77Z" fill="#330b5c" opacity="0.35"/>
<path d="M135.6,91.76L132.13,74.77L135.22,74.77Z" fill="#fff" opacity="0.22"/>
<path d="M81.4,138.4L98.4,130.7L81.4,123A7.7,0.01 90 1 0 81.4,138.4Z" fill="#cb1010"/>
<path d="M98.4,130.7L81.4,123L81.4,130.7Z" fill="#5b0707" opacity="0.35"/>
<path d="M98.4,130.7L81.4,134.16L81.4,131.08Z" fill="#fff" opacity="0.22"/>
<path d="M189.8,123L172.8,130.7L189.8,138.4A7.7,0.01 -90 1 0 189.8,123Z" fill="#10cbcb"/>
<path d="M172.8,130.7L189.8,138.4L189.8,130.7Z" fill="#075b5b" opacity="0.35"/>
<path d="M172.8,130.7L189.8,127.23L189.8,130.31Z" fill="#fff" opacity="0.22"/>
<path d="M108.67,173.54L113.38,156.36L97.04,163.48A7.7,0.8 40.89 1 0 108.67,173.54Z" fill="#b6970f"/>
<path d="M113.38,156.36L97.04,163.48L102.83,168.54Z" fill="#524407" opacity="0.35"/>
<path d="M113.38,156.36L105.45,170.81L103.12,168.79Z" fill="#fff" opacity="0.22"/>
<ellipse cx="102.83" cy="168.54" rx="7.7" ry="0.8" transform="rotate(40.89 102.83 168.54)" fill="#91790c"/>
<path d="M174.16,163.48L157.82,156.36L162.53,173.54A7.7,0.8 -40.89 1 0 174.16,163.48Z" fill="#0fb62d"/>
<path d="M157.82,156.36L162.53,173.54L168.37,168.54Z" fill="#075214" opacity="0.35"/>
<path d="M157.82,156.36L170.99,166.27L168.66,168.29Z" fill="#fff" opacity="0.22"/>
<ellipse cx="168.37" cy="168.54" rx="7.7" ry="0.8" transform="rotate(-40.89 168.37 168.54)" fill="#0c9124"/>
<path d="M97.04,97.92L113.38,105.04L108.67,87.86A7.7,0.8 139.11 1 0 97.04,97.92Z" fill="#b60f97"/>
<path d="M113.38,105.04L108.67,87.86L102.83,92.86Z" fill="#520744" opacity="0.35"/>
<path d="M113.38,105.04L100.21,95.13L102.54,93.11Z" fill="#fff" opacity="0.22"/>
<ellipse cx="102.83" cy="92.86" rx="7.7" ry="0.8" transform="rotate(139.11 102.83 92.86)" fill="#910c79"/>
<path d="M162.53,87.86L157.82,105.04L174.16,97.92A7.7,0.8 -139.11 1 0 162.53,87.86Z" fill="#0f2db6"/>
<path d="M157.82,105.04L174.16,97.92L168.37,92.86Z" fill="#071452" opacity="0.35"/>
<path d="M157.82,105.04L165.75,90.59L168.08,92.61Z" fill="#fff" opacity="0.22"/>
<ellipse cx="168.37" cy="92.86" rx="7.7" ry="0.8" transform="rotate(-139.11 168.37 92.86)" fill="#0c2491"/>
<path d="M94.87,156.7L106.02,143.51L88.77,142.61A7.7,1.23 66.59 1 0 94.87,156.7Z" fill="#aa4b0e"/>
<path d="M106.02,143.51L88.77,142.61L91.73,149.7Z" fill="#4d2206" opacity="0.35"/>
<path d="M106.02,143.51L93.11,152.88L91.88,150.05Z" fill="#fff" opacity="0.22"/>
<ellipse cx="91.73" cy="149.7" rx="7.7" ry="1.23" transform="rotate(66.59 91.73 149.7)" fill="#883c0b"/>
<path d="M182.43,142.61L165.18,143.51L176.33,156.7A7.7,1.23 -66.59 1 0 182.43,142.61Z" fill="#0eaa6d"/>
<path d="M165.18,143.51L176.33,156.7L179.47,149.7Z" fill="#064d31" opacity="0.35"/>
<path d="M165.18,143.51L180.85,146.52L179.62,149.34Z" fill="#fff" opacity="0.22"/>
<ellipse cx="179.47" cy="149.7" rx="7.7" ry="1.23" transform="rotate(-66.59 179.47 149.7)" fill="#0b8857"/>
<path d="M88.77,118.79L106.02,117.89L94.87,104.7A7.7,1.23 113.41 1 0 88.77,118.79Z" fill="#aa0e4b"/>
<path d="M106.02,117.89L94.87,104.7L91.73,111.7Z" fill="#4d0622" opacity="0.35"/>
<path d="M106.02,117.89L90.35,114.88L91.58,112.06Z" fill="#fff" opacity="0.22"/>
<ellipse cx="91.73" cy="111.7" rx="7.7" ry="1.23" transform="rotate(113.41 91.73 111.7)" fill="#880b3c"/>
<path d="M176.33,104.7L165.18,117.89L182.43,118.79A7.7,1.23 -113.41 1 0 176.33,104.7Z" fill="#0e6daa"/>
<path d="M165.18,117.89L182.43,118.79L179.47,111.7Z" fill="#06314d" opacity="0.35"/>
<path d="M165.18,117.89L178.09,108.52L179.32,111.35Z" fill="#fff" opacity="0.22"/>
<ellipse cx="179.47" cy="111.7" rx="7.7" ry="1.23" transform="rotate(-113.41 179.47 111.7)" fill="#0b5788"/>
<path d="M131.89,170.73L128.21,156.31L117.4,166.55A7.7,2.71 16.1 1 0 131.89,170.73Z" fill="#67830b"/>
<path d="M128.21,156.31L117.4,166.55L124.5,169.17Z" fill="#2f3b05" opacity="0.35"/>
<path d="M128.21,156.31L127.82,170.13L124.87,169.27Z" fill="#fff" opacity="0.22"/>
<ellipse cx="124.5" cy="169.17" rx="7.7" ry="2.71" transform="rotate(16.1 124.5 169.17)" fill="#536909"/>
<path d="M153.8,166.55L142.99,156.31L139.31,170.73A7.7,2.71 -16.1 1 0 153.8,166.55Z" fill="#27830b"/>
<path d="M142.99,156.31L139.31,170.73L146.7,169.17Z" fill="#113b05" opacity="0.35"/>
<path d="M142.99,156.31L150.03,168.21L147.07,169.06Z" fill="#fff" opacity="0.22"/>
<ellipse cx="146.7" cy="169.17" rx="7.7" ry="2.71" transform="rotate(-16.1 146.7 169.17)" fill="#1f6909"/>
<path d="M117.4,94.85L128.21,105.09L131.89,90.67A7.7,2.71 163.9 1 0 117.4,94.85Z" fill="#670b83"/>
<path d="M128.21,105.09L131.89,90.67L124.5,92.23Z" fill="#2f053b" opacity="0.35"/>
<path d="M128.21,105.09L121.17,93.19L124.13,92.34Z" fill="#fff" opacity="0.22"/>
<ellipse cx="124.5" cy="92.23" rx="7.7" ry="2.71" transform="rotate(163.9 124.5 92.23)" fill="#530969"/>
<path d="M139.31,90.67L142.99,105.09L153.8,94.85A7.7,2.71 -163.9 1 0 139.31,90.67Z" fill="#270b83"/>
<path d="M142.99,105.09L153.8,94.85L146.7,92.23Z" fill="#11053b" opacity="0.35"/>
<path d="M142.99,105.09L143.38,91.27L146.33,92.13Z" fill="#fff" opacity="0.22"/>
<ellipse cx="146.7" cy="92.23" rx="7.7" ry="2.71" transform="rotate(-163.9 146.7 92.23)" fill="#1f0969"/>
<path d="M102.19,138.14L113.88,130.7L102.19,123.26A7.7,3.23 90 1 0 102.19,138.14Z" fill="#760a0a"/>
<path d="M113.88,130.7L102.19,123.26L101.36,130.7Z" fill="#350404" opacity="0.35"/>
<path d="M113.88,130.7L101.36,134.16L101.36,131.08Z" fill="#fff" opacity="0.22"/>
<ellipse cx="101.36" cy="130.7" rx="7.7" ry="3.23" transform="rotate(90 101.36 130.7)" fill="#5e0808"/>
<path d="M169.01,123.26L157.32,130.7L169.01,138.14A7.7,3.23 -90 1 0 169.01,123.26Z" fill="#0a7676"/>
<path d="M157.32,130.7L169.01,138.14L169.84,130.7Z" fill="#043535" opacity="0.35"/>
<path d="M157.32,130.7L169.84,127.23L169.84,130.31Z" fill="#fff" opacity="0.22"/>
<ellipse cx="169.84" cy="130.7" rx="7.7" ry="3.23" transform="rotate(-90 169.84 130.7)" fill="#085e5e"/>
<path d="M117.8,155.89L121.42,142.98L108.13,144.72A7.7,3.44 49.11 1 0 117.8,155.89Z" fill="#704f09"/>
<path d="M121.42,142.98L108.13,144.72L112.23,150.94Z" fill="#332404" opacity="0.35"/>
<path d="M121.42,142.98L114.5,153.56L112.48,151.23Z" fill="#fff" opacity="0.22"/>
<ellipse cx="112.23" cy="150.94" rx="7.7" ry="3.44" transform="rotate(49.11 112.23 150.94)" fill="#5a4007"/>
<path d="M163.07,144.72L149.78,142.98L153.4,155.89A7.7,3.44 -49.11 1 0 163.07,144.72Z" fill="#09702a"/>
<path d="M149.78,142.98L153.4,155.89L158.97,150.94Z" fill="#043313" opacity="0.35"/>
<path d="M149.78,142.98L161.24,148.32L159.22,150.65Z" fill="#fff" opacity="0.22"/>
<ellipse cx="158.97" cy="150.94" rx="7.7" ry="3.44" transform="rotate(-49.11 158.97 150.94)" fill="#075a22"/>
<path d="M108.13,116.68L121.42,118.42L117.8,105.51A7.7,3.44 130.89 1 0 108.13,116.68Z" fill="#70094f"/>
<path d="M121.42,118.42L117.8,105.51L112.23,110.46Z" fill="#330424" opacity="0.35"/>
<path d="M121.42,118.42L109.96,113.08L111.98,110.75Z" fill="#fff" opacity="0.22"/>
<ellipse cx="112.23" cy="110.46" rx="7.7" ry="3.44" transform="rotate(130.89 112.23 110.46)" fill="#5a0740"/>
<path d="M153.4,105.51L149.78,118.42L163.07,116.68A7.7,3.44 -130.89 1 0 153.4,105.51Z" fill="#092a70"/>
<path d="M149.78,118.42L163.07,116.68L158.97,110.46Z" fill="#041333" opacity="0.35"/>
<path d="M149.78,118.42L156.7,107.84L158.72,110.17Z" fill="#fff" opacity="0.22"/>
<ellipse cx="158.97" cy="110.46" rx="7.7" ry="3.44" transform="rotate(-130.89 158.97 110.46)" fill="#07225a"/>
<path d="M135.6,94.7L156,130.7L135.6,166.7L115.2,130.7Z" fill="#f3f3ef" stroke="#1a1a1a" stroke-width="0.9"/>
<circle cx="135.7" cy="112.1" r="6.7" fill="#3f2c52"/>
<circle cx="124.6" cy="130.7" r="6.7" fill="#4d4548"/>
<circle cx="146.3" cy="130.7" r="6.7" fill="#4e5a5c"/>
<circle cx="135.7" cy="149.3" r="6.7" fill="#404a22"/>
<path d="M135.6,94.7L215.7,2.3M135.6,166.7L215.7,258.1" stroke="#1a1a1a" stroke-width="0.9" fill="none"/>
<rect x="57" y="183.6" width="76.8" height="75" fill="#fff" opacity="0.84"/>
<circle cx="128.4" cy="219.5" r="1.75" fill="#eb0000"/>
<circle cx="128.21" cy="217.24" r="1.75" fill="#eb1919"/>
<circle cx="127.66" cy="215.01" r="1.75" fill="#eb3131"/>
<circle cx="126.74" cy="212.83" r="1.75" fill="#eb4848"/>
<circle cx="125.46" cy="210.71" r="1.75" fill="#eb5f5f"/>
<circle cx="123.84" cy="208.7" r="1.75" fill="#eb7575"/>
<circle cx="121.91" cy="206.8" r="1.75" fill="#eb8a8a"/>
<circle cx="119.67" cy="205.05" r="1.75" fill="#eb9d9d"/>
<circle cx="117.15" cy="203.45" r="1.75" fill="#ebaeae"/>
<circle cx="114.38" cy="202.03" r="1.75" fill="#ebbebe"/>
<circle cx="111.4" cy="200.79" r="1.75" fill="#ebcbcb"/>
<circle cx="108.23" cy="199.77" r="1.75" fill="#ebd6d6"/>
<circle cx="104.91" cy="198.96" r="1.75" fill="#ebdfdf"/>
<circle cx="101.47" cy="198.37" r="1.75" fill="#ebe5e5"/>
<circle cx="97.95" cy="198.02" r="1.75" fill="#ebe9e9"/>
<circle cx="94.4" cy="197.9" r="1.75" fill="#ebebeb"/>
<circle cx="90.85" cy="198.02" r="1.75" fill="#e9ebeb"/>
<circle cx="87.33" cy="198.37" r="1.75" fill="#e5ebeb"/>
<circle cx="83.89" cy="198.96" r="1.75" fill="#dfebeb"/>
<circle cx="80.57" cy="199.77" r="1.75" fill="#d6ebeb"/>
<circle cx="77.4" cy="200.79" r="1.75" fill="#cbebeb"/>
<circle cx="74.42" cy="202.03" r="1.75" fill="#beebeb"/>
<circle cx="71.65" cy="203.45" r="1.75" fill="#aeebeb"/>
<circle cx="69.13" cy="205.05" r="1.75" fill="#9debeb"/>
<circle cx="66.89" cy="206.8" r="1.75" fill="#8aebeb"/>
<circle cx="64.96" cy="208.7" r="1.75" fill="#75ebeb"/>
<circle cx="63.34" cy="210.71" r="1.75" fill="#5febeb"/>
<circle cx="62.06" cy="212.83" r="1.75" fill="#48ebeb"/>
<circle cx="61.14" cy="215.01" r="1.75" fill="#31ebeb"/>
<circle cx="60.59" cy="217.24" r="1.75" fill="#19ebeb"/>
<circle cx="60.4" cy="219.5" r="1.75" fill="#00ebeb"/>
<circle cx="60.59" cy="221.76" r="1.75" fill="#00d2d2"/>
<circle cx="61.14" cy="223.99" r="1.75" fill="#00baba"/>
<circle cx="62.06" cy="226.17" r="1.75" fill="#00a2a2"/>
<circle cx="63.34" cy="228.29" r="1.75" fill="#008b8b"/>
<circle cx="64.96" cy="230.3" r="1.75" fill="#007575"/>
<circle cx="66.89" cy="232.2" r="1.75" fill="#006161"/>
<circle cx="69.13" cy="233.95" r="1.75" fill="#004e4e"/>
<circle cx="71.65" cy="235.55" r="1.75" fill="#003c3c"/>
<circle cx="74.42" cy="236.97" r="1.75" fill="#002d2d"/>
<circle cx="77.4" cy="238.21" r="1.75" fill="#001f1f"/>
<circle cx="80.57" cy="239.23" r="1.75" fill="#001414"/>
<circle cx="83.89" cy="240.04" r="1.75" fill="#000b0b"/>
<circle cx="87.33" cy="240.63" r="1.75" fill="#000505"/>
<circle cx="90.85" cy="240.98" r="1.75" fill="#000101"/>
<circle cx="94.4" cy="241.1" r="1.75" fill="#000000"/>
<circle cx="97.95" cy="240.98" r="1.75" fill="#010000"/>
<circle cx="101.47" cy="240.63" r="1.75" fill="#050000"/>
<circle cx="104.91" cy="240.04" r="1.75" fill="#0b0000"/>
<circle cx="108.23" cy="239.23" r="1.75" fill="#140000"/>
<circle cx="111.4" cy="238.21" r="1.75" fill="#1f0000"/>
<circle cx="114.38" cy="236.97" r="1.75" fill="#2d0000"/>
<circle cx="117.15" cy="235.55" r="1.75" fill="#3c0000"/>
<circle cx="119.67" cy="233.95" r="1.75" fill="#4e0000"/>
<circle cx="121.91" cy="232.2" r="1.75" fill="#610000"/>
<circle cx="123.84" cy="230.3" r="1.75" fill="#750000"/>
<circle cx="125.46" cy="228.29" r="1.75" fill="#8b0000"/>
<circle cx="126.74" cy="226.17" r="1.75" fill="#a20000"/>
<circle cx="127.66" cy="223.99" r="1.75" fill="#ba0000"/>
<circle cx="128.21" cy="221.76" r="1.75" fill="#d20000"/>
<path d="M94.3,222.3L94.3,205.5" stroke="#c8c8c8" stroke-width="2.7"/>
<path d="M94.3,199L98.3,205.5L90.3,205.5Z" fill="#c8c8c8"/>
<path d="M94.3,222.3L104.32,209.86" stroke="#f5f500" stroke-width="2.7"/>
<path d="M108.4,204.8L107.44,212.37L101.21,207.35Z" fill="#f5f500"/>
<path d="M94.3,222.3L83.78,209.78" stroke="#10c010" stroke-width="2.7"/>
<path d="M79.6,204.8L86.84,207.2L80.72,212.35Z" fill="#10c010"/>
<path d="M94.3,222.3L118.5,222.3" stroke="#f01010" stroke-width="2.7"/>
<path d="M125,222.3L118.5,226.3L118.5,218.3Z" fill="#f01010"/>
<path d="M94.3,222.3L69.5,222.3" stroke="#10e8e8" stroke-width="2.7"/>
<path d="M63,222.3L69.5,218.3L69.5,226.3Z" fill="#10e8e8"/>
<path d="M94.3,222.3L80.21,241.01" stroke="#1010f0" stroke-width="2.7"/>
<path d="M76.3,246.2L77.02,238.6L83.41,243.41Z" fill="#1010f0"/>
<path d="M94.3,222.3L109.06,241.63" stroke="#f010f0" stroke-width="2.7"/>
<path d="M113,246.8L105.88,244.06L112.24,239.21Z" fill="#f010f0"/>
<path d="M94.3,222.3L94.3,235.6" stroke="#000000" stroke-width="2.7"/>
<path d="M94.3,238.6L91.9,235.6L96.7,235.6Z" fill="#000000"/>
</g>
<rect x="57" y="2.3" width="158.7" height="255.8" fill="none" stroke="#222" stroke-width="1.1"/>
<path d="M215.7,2.3L220.8,0M215.7,258.1L220.8,262.2" stroke="#222" stroke-width="0.9" fill="none"/>
<rect x="57.8" y="3.4" width="15" height="19.4" fill="#fff" stroke="#000" stroke-width="1.6"/>
<text x="65.3" y="18.4" font-size="16" fill="#000" text-anchor="middle" font-weight="bold">a</text>
<path d="M220.8,0V262.4H685" stroke="#a8a8a8" stroke-width="1" fill="none" stroke-dasharray="3.5 2"/>
<rect x="223" y="97.2" width="189" height="80" fill="#f3f3ef" stroke="#8a8a8a" stroke-width="0.8" stroke-dasharray="2 1.6"/>
<path d="M412,97.2L432.5,24M412,177.2L436.2,251.6" stroke="#8a8a8a" stroke-width="0.8" stroke-dasharray="2 1.6" fill="none"/>
<path d="M246.9,17.2L270.35,57.2L246.9,97.2L223.45,57.2Z" fill="none" stroke="#808080" stroke-width="1"/>
<path d="M246.9,97.2L270.35,137.2L246.9,177.2L223.45,137.2Z" fill="none" stroke="#808080" stroke-width="1"/>
<path d="M246.9,177.2L270.35,217.2L246.9,257.2L223.45,217.2Z" fill="none" stroke="#808080" stroke-width="1"/>
<path d="M293.8,17.2L317.25,57.2L293.8,97.2L270.35,57.2Z" fill="none" stroke="#17becf" stroke-width="1"/>
<path d="M293.8,97.2L317.25,137.2L293.8,177.2L270.35,137.2Z" fill="none" stroke="#17becf" stroke-width="1"/>
<path d="M293.8,177.2L317.25,217.2L293.8,257.2L270.35,217.2Z" fill="none" stroke="#17becf" stroke-width="1"/>
<path d="M340.7,17.2L364.15,57.2L340.7,97.2L317.25,57.2Z" fill="none" stroke="#17becf" stroke-width="1"/>
<path d="M340.7,97.2L364.15,137.2L340.7,177.2L317.25,137.2Z" fill="none" stroke="#17becf" stroke-width="1"/>
<path d="M340.7,177.2L364.15,217.2L340.7,257.2L317.25,217.2Z" fill="none" stroke="#17becf" stroke-width="1"/>
<path d="M387.6,17.2L411.05,57.2L387.6,97.2L364.15,57.2Z" fill="none" stroke="#e377c2" stroke-width="1"/>
<path d="M387.6,97.2L411.05,137.2L387.6,177.2L364.15,137.2Z" fill="none" stroke="#e377c2" stroke-width="1"/>
<path d="M387.6,177.2L411.05,217.2L387.6,257.2L364.15,217.2Z" fill="none" stroke="#e377c2" stroke-width="1"/>
<path d="M246.9,35Q245.53,50.78 260,57.2Q261.37,41.42 246.9,35" fill="none" stroke="#2a2a2a" stroke-width="1.1"/>
<polyline points="249.69,48.32 250.03,48.47 250.35,48.59 250.63,48.62 250.85,48.57 251,48.4 251.1,48.14 251.16,47.81 251.19,47.43 251.22,47.06 251.28,46.72 251.38,46.46 251.54,46.3 251.76,46.24 252.03,46.28 252.35,46.39 252.7,46.54 253.04,46.7 253.36,46.81 253.64,46.85 253.86,46.79 254.01,46.63 254.11,46.37 254.17,46.03 254.2,45.66 254.24,45.28 254.29,44.95 254.39,44.69 254.55,44.52 254.77,44.46 255.04,44.5 255.36,44.61 255.71,44.77 256.05,44.92 256.37,45.03 256.65,45.07 256.87,45.01 257.02,44.85 257.12,44.59 257.18,44.25 257.21,43.88" fill="none" stroke="#444" stroke-width="0.6"/>
<circle cx="246.9" cy="35" r="1.7" fill="#222"/>
<circle cx="260" cy="57.2" r="1.7" fill="#222"/>
<path d="M233.8,57.2Q232.52,72.64 246.9,78.4Q248.18,62.96 233.8,57.2" fill="none" stroke="#2a2a2a" stroke-width="1.1"/>
<polyline points="236.63,70.1 236.98,70.24 237.3,70.35 237.58,70.38 237.8,70.32 237.95,70.15 238.05,69.89 238.09,69.55 238.12,69.18 238.14,68.8 238.19,68.47 238.29,68.2 238.44,68.04 238.66,67.98 238.94,68.01 239.26,68.11 239.61,68.26 239.95,68.41 240.28,68.51 240.55,68.54 240.77,68.48 240.92,68.31 241.02,68.05 241.07,67.72 241.09,67.34 241.12,66.97 241.17,66.63 241.26,66.37 241.42,66.2 241.63,66.14 241.91,66.17 242.23,66.28 242.58,66.42 242.93,66.57 243.25,66.67 243.53,66.71 243.74,66.64 243.9,66.48 243.99,66.21 244.04,65.88 244.07,65.5" fill="none" stroke="#444" stroke-width="0.6"/>
<circle cx="233.8" cy="57.2" r="1.7" fill="#222"/>
<circle cx="246.9" cy="78.4" r="1.7" fill="#222"/>
<path d="M306.9,57.2L280.7,57.2" stroke="#2a2a2a" stroke-width="1.3" fill="none"/>
<path d="M306.9,57.2L293.8,35" stroke="#2a2a2a" stroke-width="1.3" fill="none"/>
<polyline points="291.18,57.2 291.92,57.19 292.49,57.08 292.8,56.81 292.8,56.36 292.56,55.77 292.2,55.11 291.88,54.47 291.77,53.96 291.94,53.61 292.41,53.44 293.1,53.39 293.86,53.39 294.52,53.33 294.95,53.14 295.08,52.77 294.93,52.23 294.6,51.59 294.25,50.93 294.03,50.35 294.08,49.93 294.43,49.69 295.03,49.6 295.78,49.59 296.5,49.57 297.05,49.44 297.31,49.14 297.27,48.67 297,48.06 296.64,47.4 296.34,46.78 296.27,46.28 296.49,45.96 296.99,45.81 297.7,45.78 298.45,45.78 299.09,45.71 299.48,45.49 299.57,45.09 299.38,44.53 299.04,43.88" fill="none" stroke="#444" stroke-width="0.8"/>
<circle cx="306.9" cy="57.2" r="1.7" fill="#222"/>
<circle cx="280.7" cy="57.2" r="1.7" fill="#222"/>
<circle cx="293.8" cy="35" r="1.7" fill="#222"/>
<circle cx="293.8" cy="78.4" r="1.7" fill="#222"/>
<path d="M327.6,57.2L353.8,57.2" stroke="#2a2a2a" stroke-width="1.3" fill="none"/>
<path d="M327.6,57.2L340.7,78.4" stroke="#2a2a2a" stroke-width="1.3" fill="none"/>
<polyline points="343.32,57.2 342.59,57.19 342.02,57.27 341.71,57.53 341.71,57.96 341.95,58.55 342.3,59.21 342.61,59.84 342.72,60.34 342.54,60.68 342.08,60.83 341.4,60.85 340.65,60.82 339.99,60.85 339.56,61.03 339.43,61.39 339.58,61.92 339.9,62.56 340.25,63.21 340.46,63.78 340.41,64.19 340.06,64.42 339.46,64.48 338.72,64.46 338,64.46 337.46,64.57 337.2,64.84 337.24,65.31 337.5,65.91 337.86,66.57 338.15,67.19 338.22,67.67 338,67.98 337.5,68.1 336.8,68.11 336.05,68.09 335.42,68.14 335.03,68.34 334.94,68.72 335.12,69.27 335.46,69.92" fill="none" stroke="#444" stroke-width="0.8"/>
<circle cx="327.6" cy="57.2" r="1.7" fill="#222"/>
<circle cx="353.8" cy="57.2" r="1.7" fill="#222"/>
<circle cx="340.7" cy="78.4" r="1.7" fill="#222"/>
<circle cx="340.7" cy="35" r="1.7" fill="#222"/>
<path d="M387.6,35L400.7,57.2" stroke="#2a2a2a" stroke-width="1.3" fill="none"/>
<path d="M374.5,57.2L387.6,78.4" stroke="#2a2a2a" stroke-width="1.3" fill="none"/>
<polyline points="394.15,46.1 393.1,46.21 392.4,46.52 392.22,47.15 392.5,48.06 392.94,49.07 393.18,49.95 392.94,50.55 392.18,50.83 391.12,50.93 390.09,51.05 389.44,51.4 389.32,52.07 389.63,53 390.07,54 390.27,54.86 389.97,55.42 389.16,55.67 388.08,55.76 387.08,55.9 386.49,56.28 386.43,56.98 386.77,57.93 387.2,58.93 387.35,59.76 386.99,60.28 386.14,60.51 385.05,60.59 384.08,60.75 383.54,61.16 383.54,61.9 383.91,62.86 384.32,63.85 384.42,64.66 384.01,65.14 383.11,65.34 382.02,65.42 381.08,65.6 380.61,66.05 380.65,66.82 381.05,67.8" fill="none" stroke="#444" stroke-width="0.8"/>
<circle cx="387.6" cy="35" r="1.7" fill="#222"/>
<circle cx="400.7" cy="57.2" r="1.7" fill="#222"/>
<circle cx="374.5" cy="57.2" r="1.7" fill="#222"/>
<circle cx="387.6" cy="78.4" r="1.7" fill="#222"/>
<path d="M233.8,137.2Q246.9,146.4 260,137.2Q246.9,128 233.8,137.2" fill="none" stroke="#2a2a2a" stroke-width="1.1"/>
<polyline points="246.9,141.57 247.21,141.35 247.47,141.13 247.64,140.91 247.7,140.7 247.64,140.48 247.47,140.26 247.21,140.04 246.9,139.82 246.59,139.6 246.33,139.38 246.16,139.17 246.1,138.95 246.16,138.73 246.33,138.51 246.59,138.29 246.9,138.07 247.21,137.86 247.47,137.64 247.64,137.42 247.7,137.2 247.64,136.98 247.47,136.76 247.21,136.54 246.9,136.33 246.59,136.11 246.33,135.89 246.16,135.67 246.1,135.45 246.16,135.23 246.33,135.01 246.59,134.8 246.9,134.58 247.21,134.36 247.47,134.14 247.64,133.92 247.7,133.7 247.64,133.49 247.47,133.27 247.21,133.05 246.9,132.83" fill="none" stroke="#444" stroke-width="0.6"/>
<circle cx="233.8" cy="137.2" r="1.7" fill="#222"/>
<circle cx="260" cy="137.2" r="1.7" fill="#222"/>
<circle cx="246.9" cy="115" r="1.7" fill="#222"/>
<circle cx="246.9" cy="158.4" r="1.7" fill="#222"/>
<path d="M293.8,115L280.7,137.2" stroke="#2a2a2a" stroke-width="1.3" fill="none"/>
<path d="M293.8,115L306.9,137.2" stroke="#2a2a2a" stroke-width="1.3" fill="none"/>
<polyline points="285.94,128.32 286.33,128.95 286.73,129.39 287.12,129.52 287.51,129.29 287.9,128.78 288.3,128.13 288.69,127.54 289.08,127.18 289.48,127.15 289.87,127.47 290.26,128.04 290.66,128.69 291.05,129.23 291.44,129.51 291.84,129.43 292.23,129.03 292.62,128.41 293.01,127.78 293.41,127.3 293.8,127.12 294.19,127.3 294.59,127.78 294.98,128.41 295.37,129.03 295.76,129.43 296.16,129.51 296.55,129.23 296.94,128.69 297.34,128.04 297.73,127.47 298.12,127.15 298.52,127.18 298.91,127.54 299.3,128.13 299.7,128.78 300.09,129.29 300.48,129.52 300.87,129.39 301.27,128.95 301.66,128.32" fill="none" stroke="#444" stroke-width="0.8"/>
<circle cx="293.8" cy="115" r="1.7" fill="#222"/>
<circle cx="280.7" cy="137.2" r="1.7" fill="#222"/>
<circle cx="306.9" cy="137.2" r="1.7" fill="#222"/>
<circle cx="293.8" cy="158.4" r="1.7" fill="#222"/>
<path d="M340.7,158.4L327.6,137.2" stroke="#2a2a2a" stroke-width="1.3" fill="none"/>
<path d="M340.7,158.4L353.8,137.2" stroke="#2a2a2a" stroke-width="1.3" fill="none"/>
<polyline points="332.84,145.68 333.23,146.31 333.63,146.75 334.02,146.88 334.41,146.65 334.8,146.14 335.2,145.49 335.59,144.9 335.98,144.54 336.38,144.51 336.77,144.83 337.16,145.4 337.56,146.05 337.95,146.59 338.34,146.87 338.74,146.79 339.13,146.39 339.52,145.77 339.91,145.14 340.31,144.66 340.7,144.48 341.09,144.66 341.49,145.14 341.88,145.77 342.27,146.39 342.66,146.79 343.06,146.87 343.45,146.59 343.84,146.05 344.24,145.4 344.63,144.83 345.02,144.51 345.42,144.54 345.81,144.9 346.2,145.49 346.6,146.14 346.99,146.65 347.38,146.88 347.77,146.75 348.17,146.31 348.56,145.68" fill="none" stroke="#444" stroke-width="0.8"/>
<circle cx="340.7" cy="158.4" r="1.7" fill="#222"/>
<circle cx="327.6" cy="137.2" r="1.7" fill="#222"/>
<circle cx="353.8" cy="137.2" r="1.7" fill="#222"/>
<circle cx="340.7" cy="115" r="1.7" fill="#222"/>
<path d="M387.6,115L387.6,158.4" stroke="#2a2a2a" stroke-width="1.3" fill="none"/>
<path d="M374.5,137.2L400.7,137.2" stroke="#2a2a2a" stroke-width="1.3" fill="none"/>
<circle cx="387.6" cy="115" r="1.7" fill="#222"/>
<circle cx="374.5" cy="137.2" r="1.7" fill="#222"/>
<circle cx="400.7" cy="137.2" r="1.7" fill="#222"/>
<circle cx="387.6" cy="158.4" r="1.7" fill="#222"/>
<polyline points="393.2,137.2 393.56,137.51 393.83,137.86 393.98,138.21 393.95,138.55 393.76,138.85 393.43,139.09 393,139.27 392.54,139.4 392.12,139.5 391.77,139.61 391.55,139.76 391.44,139.99 391.43,140.3 391.49,140.7 391.56,141.16 391.59,141.63 391.55,142.07 391.39,142.42 391.14,142.65 390.79,142.72 390.38,142.66 389.95,142.49 389.54,142.25 389.17,142.02 388.85,141.86 388.58,141.8 388.34,141.89 388.12,142.1 387.87,142.43 387.6,142.8 387.29,143.16 386.94,143.43 386.59,143.58 386.25,143.55 385.95,143.36 385.71,143.03 385.53,142.6 385.4,142.14 385.3,141.72 385.19,141.37 385.04,141.15 384.81,141.04 384.5,141.03 384.1,141.09 383.64,141.16 383.17,141.19 382.73,141.15 382.38,140.99 382.15,140.74 382.08,140.39 382.14,139.98 382.31,139.55 382.55,139.14 382.78,138.77 382.94,138.45 383,138.18 382.91,137.94 382.7,137.72 382.37,137.47 382,137.2 381.64,136.89 381.37,136.54 381.22,136.19 381.25,135.85 381.44,135.55 381.77,135.31 382.2,135.13 382.66,135 383.08,134.9 383.43,134.79 383.65,134.64 383.76,134.41 383.77,134.1 383.71,133.7 383.64,133.24 383.61,132.77 383.65,132.33 383.81,131.98 384.06,131.75 384.41,131.68 384.82,131.74 385.25,131.91 385.66,132.15 386.03,132.38 386.35,132.54 386.62,132.6 386.86,132.51 387.08,132.3 387.33,131.97 387.6,131.6 387.91,131.24 388.26,130.97 388.61,130.82 388.95,130.85 389.25,131.04 389.49,131.37 389.67,131.8 389.8,132.26 389.9,132.68 390.01,133.03 390.16,133.25 390.39,133.36 390.7,133.37 391.1,133.31 391.56,133.24 392.03,133.21 392.47,133.25 392.82,133.41 393.05,133.66 393.12,134.01 393.06,134.42 392.89,134.85 392.65,135.26 392.42,135.63 392.26,135.95 392.2,136.22 392.29,136.46 392.5,136.68 392.83,136.93 393.2,137.2" fill="none" stroke="#555" stroke-width="0.7"/>
<path d="M246.9,195Q232.43,201.42 233.8,217.2Q248.27,210.78 246.9,195" fill="none" stroke="#2a2a2a" stroke-width="1.1"/>
<polyline points="236.59,203.88 236.62,204.25 236.68,204.59 236.78,204.85 236.93,205.01 237.15,205.07 237.43,205.03 237.75,204.92 238.09,204.77 238.44,204.61 238.76,204.5 239.03,204.46 239.25,204.52 239.41,204.69 239.51,204.95 239.56,205.28 239.6,205.66 239.63,206.03 239.69,206.37 239.79,206.63 239.94,206.79 240.16,206.85 240.44,206.81 240.76,206.7 241.1,206.54 241.45,206.39 241.77,206.28 242.04,206.24 242.26,206.3 242.42,206.46 242.52,206.72 242.58,207.06 242.61,207.43 242.64,207.81 242.7,208.14 242.8,208.4 242.95,208.57 243.17,208.62 243.45,208.59 243.77,208.47 244.11,208.32" fill="none" stroke="#444" stroke-width="0.6"/>
<circle cx="246.9" cy="195" r="1.7" fill="#222"/>
<circle cx="233.8" cy="217.2" r="1.7" fill="#222"/>
<path d="M260,217.2Q245.62,222.96 246.9,238.4Q261.28,232.64 260,217.2" fill="none" stroke="#2a2a2a" stroke-width="1.1"/>
<polyline points="249.73,225.5 249.76,225.88 249.81,226.21 249.9,226.48 250.06,226.64 250.27,226.71 250.55,226.67 250.87,226.57 251.22,226.42 251.57,226.28 251.89,226.17 252.17,226.14 252.38,226.2 252.54,226.37 252.63,226.63 252.68,226.97 252.71,227.34 252.73,227.72 252.78,228.05 252.88,228.31 253.03,228.48 253.25,228.54 253.52,228.51 253.85,228.41 254.19,228.26 254.54,228.11 254.86,228.01 255.14,227.98 255.36,228.04 255.51,228.2 255.61,228.47 255.66,228.8 255.68,229.18 255.71,229.55 255.75,229.89 255.85,230.15 256,230.32 256.22,230.38 256.5,230.35 256.82,230.24 257.17,230.1" fill="none" stroke="#444" stroke-width="0.6"/>
<circle cx="260" cy="217.2" r="1.7" fill="#222"/>
<circle cx="246.9" cy="238.4" r="1.7" fill="#222"/>
<path d="M280.7,217.2L293.8,195" stroke="#2a2a2a" stroke-width="1.3" fill="none"/>
<path d="M280.7,217.2L306.9,217.2" stroke="#2a2a2a" stroke-width="1.3" fill="none"/>
<polyline points="288.56,203.88 288.22,204.53 288.03,205.09 288.12,205.49 288.51,205.71 289.15,205.78 289.9,205.78 290.61,205.81 291.11,205.96 291.33,206.28 291.26,206.78 290.96,207.4 290.6,208.06 290.33,208.67 290.29,209.14 290.55,209.44 291.1,209.57 291.82,209.59 292.57,209.6 293.17,209.69 293.52,209.93 293.57,210.35 293.35,210.93 293,211.59 292.67,212.23 292.52,212.77 292.65,213.14 293.08,213.33 293.74,213.39 294.5,213.39 295.19,213.44 295.66,213.61 295.83,213.96 295.72,214.47 295.4,215.11 295.04,215.77 294.8,216.36 294.8,216.81 295.11,217.08 295.68,217.19 296.42,217.2" fill="none" stroke="#444" stroke-width="0.8"/>
<circle cx="280.7" cy="217.2" r="1.7" fill="#222"/>
<circle cx="293.8" cy="195" r="1.7" fill="#222"/>
<circle cx="306.9" cy="217.2" r="1.7" fill="#222"/>
<circle cx="293.8" cy="238.4" r="1.7" fill="#222"/>
<path d="M353.8,217.2L327.6,217.2" stroke="#2a2a2a" stroke-width="1.3" fill="none"/>
<path d="M353.8,217.2L340.7,238.4" stroke="#2a2a2a" stroke-width="1.3" fill="none"/>
<polyline points="338.08,217.2 337.74,217.85 337.56,218.4 337.65,218.78 338.04,218.98 338.67,219.03 339.42,219.01 340.12,219.02 340.62,219.14 340.84,219.45 340.77,219.93 340.48,220.55 340.12,221.21 339.86,221.81 339.82,222.28 340.08,222.55 340.62,222.66 341.34,222.66 342.08,222.64 342.68,222.7 343.03,222.93 343.08,223.34 342.87,223.91 342.52,224.56 342.2,225.2 342.05,225.73 342.18,226.09 342.61,226.27 343.27,226.3 344.02,226.27 344.7,226.29 345.16,226.44 345.34,226.78 345.23,227.28 344.92,227.91 344.57,228.57 344.33,229.16 344.33,229.59 344.64,229.85 345.21,229.93 345.94,229.92" fill="none" stroke="#444" stroke-width="0.8"/>
<circle cx="353.8" cy="217.2" r="1.7" fill="#222"/>
<circle cx="327.6" cy="217.2" r="1.7" fill="#222"/>
<circle cx="340.7" cy="238.4" r="1.7" fill="#222"/>
<circle cx="340.7" cy="195" r="1.7" fill="#222"/>
<path d="M387.6,195L374.5,217.2" stroke="#2a2a2a" stroke-width="1.3" fill="none"/>
<path d="M400.7,217.2L387.6,238.4" stroke="#2a2a2a" stroke-width="1.3" fill="none"/>
<polyline points="381.05,206.1 380.65,207.08 380.61,207.85 381.08,208.3 382.02,208.48 383.11,208.56 384.01,208.76 384.42,209.24 384.32,210.05 383.91,211.04 383.54,212 383.54,212.74 384.08,213.15 385.05,213.31 386.14,213.39 386.99,213.62 387.35,214.14 387.2,214.97 386.77,215.97 386.43,216.92 386.49,217.62 387.08,218 388.08,218.14 389.16,218.23 389.97,218.48 390.27,219.04 390.07,219.9 389.63,220.9 389.32,221.83 389.44,222.5 390.09,222.85 391.12,222.97 392.18,223.07 392.94,223.35 393.18,223.95 392.94,224.83 392.5,225.84 392.22,226.75 392.4,227.38 393.1,227.69 394.15,227.8" fill="none" stroke="#444" stroke-width="0.8"/>
<circle cx="387.6" cy="195" r="1.7" fill="#222"/>
<circle cx="374.5" cy="217.2" r="1.7" fill="#222"/>
<circle cx="400.7" cy="217.2" r="1.7" fill="#222"/>
<circle cx="387.6" cy="238.4" r="1.7" fill="#222"/>
<text x="387.6" y="30.3" font-size="10.5" fill="#333" text-anchor="middle">l</text>
<text x="369.2" y="60.3" font-size="10.5" fill="#333" text-anchor="middle">i</text>
<text x="405.5" y="60.3" font-size="10.5" fill="#333" text-anchor="middle">k</text>
<text x="387.4" y="87.3" font-size="10.5" fill="#333" text-anchor="middle">j</text>
<text x="242.6" y="15.6" font-size="12.19" fill="#808080" textLength="32.24" lengthAdjust="spacingAndGlyphs">2-site</text>
<text x="302.2" y="15.6" font-size="12.19" fill="#17becf" textLength="32.24" lengthAdjust="spacingAndGlyphs">3-site</text>
<text x="370.6" y="15.6" font-size="12.19" fill="#e377c2" textLength="32.24" lengthAdjust="spacingAndGlyphs">4-site</text>
<rect x="224" y="4.1" width="15.6" height="19.2" fill="#fff" stroke="#000" stroke-width="1.6"/>
<text x="231.8" y="18.9" font-size="16" fill="#000" text-anchor="middle" font-weight="bold">b</text>
<rect x="436.2" y="10.8" width="241.1" height="240.8" fill="#f4f4f0"/>
<path d="M467.5,2V262M527.5,2V262M587.5,2V262M647.5,2V262M430,41.3H685M430,101.3H685M430,161.3H685M430,221.3H685" stroke="#4a4a4a" stroke-width="1.1" fill="none" stroke-dasharray="4.6 4.4"/>
<rect x="445.35" y="19.15" width="44.3" height="44.3" fill="#c8c8c8" stroke="#555" stroke-width="0.8" stroke-linejoin="round"/>
<path d="M505.35,19.15H549.65L505.35,63.45Z" fill="#ff99dd" stroke="#555" stroke-width="0.8" stroke-linejoin="round"/>
<path d="M505.35,63.45H549.65V19.15Z" fill="#1ee9ff" stroke="#555" stroke-width="0.8" stroke-linejoin="round"/>
<path d="M565.35,19.15H575.05L587,41.3L575.05,63.45H565.35Z" fill="#c8c8c8" stroke="#555" stroke-width="0.8" stroke-linejoin="round"/>
<path d="M575.05,19.15H609.65V41.3H587Z" fill="#ff99dd" stroke="#555" stroke-width="0.8" stroke-linejoin="round"/>
<path d="M587,41.3H609.65V63.45H575.05Z" fill="#1ee9ff" stroke="#555" stroke-width="0.8" stroke-linejoin="round"/>
<path d="M625.35,19.15H669.65L625.35,63.45Z" fill="#ff99dd" stroke="#555" stroke-width="0.8" stroke-linejoin="round"/>
<path d="M625.35,63.45H669.65V19.15Z" fill="#1ee9ff" stroke="#555" stroke-width="0.8" stroke-linejoin="round"/>
<path d="M445.35,79.15H489.65L445.35,123.45Z" fill="#ff99dd" stroke="#555" stroke-width="0.8" stroke-linejoin="round"/>
<path d="M445.35,123.45H489.65V79.15Z" fill="#1ee9ff" stroke="#555" stroke-width="0.8" stroke-linejoin="round"/>
<rect x="505.35" y="79.15" width="44.3" height="44.3" fill="#1ee9ff" stroke="#555" stroke-width="0.8" stroke-linejoin="round"/>
<path d="M565.35,79.15H609.65L565.35,123.45Z" fill="#ff99dd" stroke="#555" stroke-width="0.8" stroke-linejoin="round"/>
<path d="M565.35,123.45H609.65V79.15Z" fill="#1ee9ff" stroke="#555" stroke-width="0.8" stroke-linejoin="round"/>
<rect x="625.35" y="79.15" width="44.3" height="44.3" fill="#ff99dd" stroke="#555" stroke-width="0.8" stroke-linejoin="round"/>
<path d="M445.35,139.15H489.65V149.45L467.5,160.3L445.35,149.45Z" fill="#c8c8c8" stroke="#555" stroke-width="0.8" stroke-linejoin="round"/>
<path d="M445.35,149.45L467.5,160.3V183.45H445.35Z" fill="#ff99dd" stroke="#555" stroke-width="0.8" stroke-linejoin="round"/>
<path d="M467.5,160.3L489.65,149.45V183.45H467.5Z" fill="#1ee9ff" stroke="#555" stroke-width="0.8" stroke-linejoin="round"/>
<path d="M505.35,139.15H549.65L505.35,183.45Z" fill="#ff99dd" stroke="#555" stroke-width="0.8" stroke-linejoin="round"/>
<path d="M505.35,183.45H549.65V139.15Z" fill="#1ee9ff" stroke="#555" stroke-width="0.8" stroke-linejoin="round"/>
<rect x="565.35" y="139.15" width="44.3" height="44.3" fill="#c8c8c8" stroke="#555" stroke-width="0.8" stroke-linejoin="round"/>
<path d="M625.35,139.15H669.65L625.35,183.45Z" fill="#ff99dd" stroke="#555" stroke-width="0.8" stroke-linejoin="round"/>
<path d="M625.35,183.45H669.65V139.15Z" fill="#1ee9ff" stroke="#555" stroke-width="0.8" stroke-linejoin="round"/>
<path d="M445.35,199.15H489.65L445.35,243.45Z" fill="#ff99dd" stroke="#555" stroke-width="0.8" stroke-linejoin="round"/>
<path d="M445.35,243.45H489.65V199.15Z" fill="#1ee9ff" stroke="#555" stroke-width="0.8" stroke-linejoin="round"/>
<rect x="505.35" y="199.15" width="44.3" height="44.3" fill="#ff99dd" stroke="#555" stroke-width="0.8" stroke-linejoin="round"/>
<path d="M565.35,199.15H609.65L565.35,243.45Z" fill="#ff99dd" stroke="#555" stroke-width="0.8" stroke-linejoin="round"/>
<path d="M565.35,243.45H609.65V199.15Z" fill="#1ee9ff" stroke="#555" stroke-width="0.8" stroke-linejoin="round"/>
<rect x="625.35" y="199.15" width="44.3" height="44.3" fill="#1ee9ff" stroke="#555" stroke-width="0.8" stroke-linejoin="round"/>
<text x="462.3" y="9.2" font-size="9.5" fill="#444" text-anchor="middle">i</text>
<text x="431.6" y="37.1" font-size="9.5" fill="#444" text-anchor="middle">i</text>
<text x="522.3" y="9.2" font-size="9.5" fill="#444" text-anchor="middle">j</text>
<text x="431.6" y="97.1" font-size="9.5" fill="#444" text-anchor="middle">j</text>
<text x="582.3" y="9.2" font-size="9.5" fill="#444" text-anchor="middle">k</text>
<text x="431.6" y="157.1" font-size="9.5" fill="#444" text-anchor="middle">k</text>
<text x="642.3" y="9.2" font-size="9.5" fill="#444" text-anchor="middle">l</text>
<text x="431.6" y="217.1" font-size="9.5" fill="#444" text-anchor="middle">l</text>
<rect x="430.8" y="3.8" width="12.2" height="19.2" fill="#fff" stroke="#000" stroke-width="1.6"/>
<text x="436.9" y="18.6" font-size="16" fill="#000" text-anchor="middle" font-weight="bold">f</text>
<rect x="56.5" y="283.6" width="117.1" height="283.3" fill="#fff"/>
<path d="M61,396 C62.5,396.5 67,397.75 70,399 C73,400.25 76.17,401.67 79,403.5 C81.83,405.33 84.5,407.42 87,410 C89.5,412.58 92,416.17 94,419 C96,421.83 97.5,424.33 99,427 C100.5,429.67 101.67,432.33 103,435 C104.33,437.67 105.75,440.5 107,443 C108.25,445.5 109.17,447.25 110.5,450 C111.83,452.75 113.52,456.83 115,459.5 C116.48,462.17 118.15,463.75 119.4,466 C120.65,468.25 121.5,470.17 122.5,473 C123.5,475.83 124.4,479.33 125.4,483 C126.4,486.67 127.5,491 128.5,495 C129.5,499 130.32,503.17 131.4,507 C132.48,510.83 133.73,514.77 135,518 C136.27,521.23 137.67,523.9 139,526.4 C140.33,528.9 141.5,530.82 143,533 C144.5,535.18 146.33,537.75 148,539.5 C149.67,541.25 151.5,542.53 153,543.5 C154.5,544.47 154.83,544.8 157,545.3 C159.17,545.8 164.5,546.3 166,546.5" stroke="#7f7f7f" stroke-width="2" fill="none" stroke-linecap="round"/>
<path d="M61,396 C63,396.5 69.5,397.58 73,399 C76.5,400.42 79,402.5 82,404.5 C85,406.5 88,408.92 91,411 C94,413.08 97,415 100,417 C103,419 106.67,421.25 109,423 C111.33,424.75 112.5,426 114,427.5 C115.5,429 116.58,430.25 118,432 C119.42,433.75 121,436 122.5,438 C124,440 125.5,441.83 127,444 C128.5,446.17 130,448.77 131.5,451 C133,453.23 134.5,455.32 136,457.4 C137.5,459.48 139,461.5 140.5,463.5 C142,465.5 143.42,467.73 145,469.4 C146.58,471.07 148,472.35 150,473.5 C152,474.65 154.33,475.63 157,476.3 C159.67,476.97 164.5,477.3 166,477.5" stroke="#17becf" stroke-width="2" fill="none" stroke-linecap="round"/>
<path d="M61,395.5 C62.5,395.13 66.83,394.25 70,393.3 C73.17,392.35 76.72,391.18 80,389.8 C83.28,388.42 87.2,386.3 89.7,385 C92.2,383.7 93.33,383.17 95,382 C96.67,380.83 98.28,379.75 99.7,378 C101.12,376.25 102.4,373.95 103.5,371.5 C104.6,369.05 105.42,366.05 106.3,363.3 C107.18,360.55 107.98,357.55 108.8,355 C109.62,352.45 110.5,349.72 111.2,348 C111.9,346.28 112.28,344.37 113,344.7 C113.72,345.03 114.53,346.33 115.5,350 C116.47,353.67 117.55,361.15 118.8,366.7 C120.05,372.25 121.75,378.83 123,383.3 C124.25,387.77 125.13,390.8 126.3,393.5 C127.47,396.2 128.67,397.82 130,399.5 C131.33,401.18 132.47,402.52 134.3,403.6 C136.13,404.68 138.67,405.42 141,406 C143.33,406.58 144.37,406.8 148.3,407.1 C152.23,407.4 161.88,407.68 164.6,407.8" stroke="#e377c2" stroke-width="2" fill="none" stroke-linecap="round"/>
<path d="M61,396H173.6M113.6,305V396" stroke="#000" stroke-width="2" fill="none"/>
<path d="M61,396 C61.92,395.8 64.63,395.38 66.5,394.8 C68.37,394.22 70.57,393.25 72.2,392.5 C73.83,391.75 74.92,391.12 76.3,390.3 C77.68,389.48 79.1,388.6 80.5,387.6 C81.9,386.6 83.17,385.63 84.7,384.3 C86.23,382.97 87.98,381.65 89.7,379.6 C91.42,377.55 93.33,375.13 95,372 C96.67,368.87 98.08,365.5 99.7,360.8 C101.32,356.1 103.18,350.82 104.7,343.8 C106.22,336.78 107.32,325.17 108.8,318.7 C110.28,312.23 112.8,307.28 113.6,305 M113.6,305 C114.12,306.12 115.68,307.53 116.7,311.7 C117.72,315.87 118.78,322.83 119.7,330 C120.62,337.17 121.28,346.78 122.2,354.7 C123.12,362.62 124.17,370.62 125.2,377.5 C126.23,384.38 127.27,390.75 128.4,396 C129.53,401.25 130.82,405 132,409 C133.18,413 134.25,416.67 135.5,420 C136.75,423.33 138.33,426.3 139.5,429 C140.67,431.7 141.45,433.87 142.5,436.2 C143.55,438.53 144.65,440.98 145.8,443 C146.95,445.02 148.15,446.7 149.4,448.3 C150.65,449.9 151.95,451.42 153.3,452.6 C154.65,453.78 155.65,454.6 157.5,455.4 C159.35,456.2 163.25,457.07 164.4,457.4" stroke="#000" stroke-width="2.2" fill="none" stroke-linejoin="round"/>
<circle cx="66.5" cy="394.8" r="2.6" fill="#000"/>
<circle cx="72.2" cy="392.5" r="2.6" fill="#000"/>
<circle cx="76.3" cy="390.3" r="2.6" fill="#000"/>
<circle cx="80.5" cy="387.6" r="2.6" fill="#000"/>
<circle cx="84.7" cy="384.3" r="2.6" fill="#000"/>
<circle cx="89.7" cy="379.6" r="2.6" fill="#000"/>
<circle cx="95" cy="372" r="2.6" fill="#000"/>
<circle cx="99.7" cy="360.8" r="2.6" fill="#000"/>
<circle cx="104.7" cy="343.8" r="2.6" fill="#000"/>
<circle cx="108.8" cy="318.7" r="2.6" fill="#000"/>
<circle cx="116.7" cy="311.7" r="2.6" fill="#000"/>
<circle cx="119.7" cy="330" r="2.6" fill="#000"/>
<circle cx="122.2" cy="354.7" r="2.6" fill="#000"/>
<circle cx="125.2" cy="377.5" r="2.6" fill="#000"/>
<circle cx="128.4" cy="396" r="2.6" fill="#000"/>
<circle cx="132" cy="409" r="2.6" fill="#000"/>
<circle cx="135.5" cy="420" r="2.6" fill="#000"/>
<circle cx="139.5" cy="429" r="2.6" fill="#000"/>
<circle cx="142.5" cy="436.2" r="2.6" fill="#000"/>
<circle cx="145.8" cy="443" r="2.6" fill="#000"/>
<circle cx="149.4" cy="448.3" r="2.6" fill="#000"/>
<circle cx="153.3" cy="452.6" r="2.6" fill="#000"/>
<circle cx="157.5" cy="455.4" r="2.6" fill="#000"/>
<circle cx="61" cy="396" r="4.8" fill="#d62728"/>
<circle cx="164.6" cy="457.4" r="4.6" fill="#d62728"/>
<circle cx="113.6" cy="305.3" r="4.6" fill="#2ca02c"/>
<rect x="56.5" y="283.6" width="117.1" height="283.3" fill="none" stroke="#000" stroke-width="1.5"/>
<path d="M56.5,297.5h6M173.6,297.5h-6M56.5,396h6M173.6,396h-6M56.5,494.5h6M173.6,494.5h-6M56.5,322.12h3.5M173.6,322.12h-3.5M56.5,346.75h3.5M173.6,346.75h-3.5M56.5,371.38h3.5M173.6,371.38h-3.5M56.5,420.62h3.5M173.6,420.62h-3.5M56.5,445.25h3.5M173.6,445.25h-3.5M56.5,469.88h3.5M173.6,469.88h-3.5M56.5,519.12h3.5M173.6,519.12h-3.5M56.5,543.75h3.5M173.6,543.75h-3.5" stroke="#000" stroke-width="1.3" fill="none"/>
<path d="M60.9,566.9v-6.5M60.9,283.6v6.5M106.2,566.9v-6.5M106.2,283.6v6.5M151.5,566.9v-6.5M151.5,283.6v6.5M69.96,566.9v-3.8M69.96,283.6v3.8M79.02,566.9v-3.8M79.02,283.6v3.8M88.08,566.9v-3.8M88.08,283.6v3.8M97.14,566.9v-3.8M97.14,283.6v3.8M115.26,566.9v-3.8M115.26,283.6v3.8M124.32,566.9v-3.8M124.32,283.6v3.8M133.38,566.9v-3.8M133.38,283.6v3.8M142.44,566.9v-3.8M142.44,283.6v3.8M160.56,566.9v-3.8M160.56,283.6v3.8M169.62,566.9v-3.8M169.62,283.6v3.8" stroke="#000" stroke-width="1.3" fill="none"/>
<rect x="57.3" y="284.4" width="13.1" height="18.1" fill="#fff" stroke="#000" stroke-width="1.6"/>
<text x="63.85" y="298.1" font-size="16" fill="#000" text-anchor="middle" font-weight="bold">c</text>
<text x="94.6" y="306" font-size="12.19" fill="#2ca02c" textLength="14.23" lengthAdjust="spacingAndGlyphs">SP</text>
<text x="63.8" y="380" font-size="12.19" fill="#d62728" textLength="12.65" lengthAdjust="spacingAndGlyphs">sk</text>
<text x="152.3" y="445.5" font-size="12.19" fill="#d62728" textLength="16.54" lengthAdjust="spacingAndGlyphs">FM</text>
<text x="125" y="350" font-size="12.19" fill="#000" textLength="15.13" lengthAdjust="spacingAndGlyphs">&#916;<tspan font-style="italic">E</tspan></text>
<text x="51.2" y="302.3" font-size="11.98" fill="#000" text-anchor="end" textLength="21.57" lengthAdjust="spacingAndGlyphs">200</text>
<text x="51.2" y="400.3" font-size="11.98" fill="#000" text-anchor="end" textLength="7.19" lengthAdjust="spacingAndGlyphs">0</text>
<text x="51.2" y="498.5" font-size="11.98" fill="#000" text-anchor="end" textLength="31.04" lengthAdjust="spacingAndGlyphs">&#8722;200</text>
<text x="60.9" y="581" font-size="11.98" fill="#000" text-anchor="middle" textLength="7.19" lengthAdjust="spacingAndGlyphs">0</text>
<text x="106.2" y="581" font-size="11.98" fill="#000" text-anchor="middle" textLength="14.38" lengthAdjust="spacingAndGlyphs">10</text>
<text x="151.5" y="581" font-size="11.98" fill="#000" text-anchor="middle" textLength="14.38" lengthAdjust="spacingAndGlyphs">20</text>
<text x="94.9" y="598.2" font-size="12.19" fill="#000" textLength="39.7" lengthAdjust="spacingAndGlyphs"><tspan font-style="italic">R</tspan> (rad)</text>
<path d="M66,493.7h10.5" stroke="#000" stroke-width="2"/><circle cx="71.3" cy="493.7" r="2.4" fill="#000"/>
<text x="85" y="489.5" font-size="12.19" fill="#000" textLength="26.3" lengthAdjust="spacingAndGlyphs">total</text>
<text x="85" y="502.3" font-size="12.19" fill="#000" textLength="40.07" lengthAdjust="spacingAndGlyphs">energy</text>
<path d="M66,515.5h10.5" stroke="#7f7f7f" stroke-width="2"/>
<text x="85" y="519.7" font-size="12.19" fill="#000" textLength="32.24" lengthAdjust="spacingAndGlyphs">2-site</text>
<path d="M66,532.6h10.5" stroke="#17becf" stroke-width="2"/>
<text x="85" y="536.8" font-size="12.19" fill="#000" textLength="32.24" lengthAdjust="spacingAndGlyphs">3-site</text>
<path d="M66,549.7h10.5" stroke="#e377c2" stroke-width="2"/>
<text x="85" y="553.9" font-size="12.19" fill="#000" textLength="32.24" lengthAdjust="spacingAndGlyphs">4-site</text>
<text transform="translate(12.5,426) rotate(-90)" font-size="11.5" text-anchor="middle" textLength="77" lengthAdjust="spacingAndGlyphs"><tspan font-style="italic">E</tspan> &#8722; <tspan font-style="italic">E</tspan><tspan font-size="8" dy="2.5">sk</tspan><tspan dy="-2.5"> (meV)</tspan></text>
<rect x="183.8" y="283.6" width="117.4" height="283.3" fill="#fff"/>
<rect x="190.3" y="488.7" width="64.5" height="63.3" fill="#fff"/>
<g><circle cx="191.9" cy="490.3" r="1.25" fill="#999999"/><circle cx="195.2" cy="490.3" r="1.25" fill="#999999"/><circle cx="198.5" cy="490.3" r="1.25" fill="#999999"/><circle cx="201.8" cy="490.3" r="1.25" fill="#999999"/><circle cx="205.1" cy="490.3" r="1.25" fill="#999999"/><circle cx="208.4" cy="490.3" r="1.25" fill="#999999"/><circle cx="211.7" cy="490.3" r="1.25" fill="#9a9a9a"/><circle cx="215" cy="490.3" r="1.25" fill="#9a9a9a"/><circle cx="218.3" cy="490.3" r="1.25" fill="#9c9c9c"/><circle cx="221.6" cy="490.3" r="1.25" fill="#a0a0a0"/><circle cx="224.9" cy="490.3" r="1.25" fill="#9d9d9d"/><circle cx="228.2" cy="490.3" r="1.25" fill="#9b9b9b"/><circle cx="231.5" cy="490.3" r="1.25" fill="#9a9a9a"/><circle cx="234.8" cy="490.3" r="1.25" fill="#999999"/><circle cx="238.1" cy="490.3" r="1.25" fill="#999999"/><circle cx="241.4" cy="490.3" r="1.25" fill="#999999"/><circle cx="244.7" cy="490.3" r="1.25" fill="#999999"/><circle cx="248" cy="490.3" r="1.25" fill="#999999"/><circle cx="251.3" cy="490.3" r="1.25" fill="#999999"/><circle cx="193.55" cy="493.16" r="1.25" fill="#999999"/><circle cx="196.85" cy="493.16" r="1.25" fill="#999999"/><circle cx="200.15" cy="493.16" r="1.25" fill="#999999"/><circle cx="203.45" cy="493.16" r="1.25" fill="#999999"/><circle cx="206.75" cy="493.16" r="1.25" fill="#999999"/><circle cx="210.05" cy="493.16" r="1.25" fill="#9a9a9a"/><circle cx="213.35" cy="493.16" r="1.25" fill="#9b9b9b"/><circle cx="216.65" cy="493.16" r="1.25" fill="#9e9e9e"/><circle cx="219.95" cy="493.16" r="1.25" fill="#a3a3a2"/><circle cx="223.25" cy="493.16" r="1.25" fill="#a5a5a4"/><circle cx="226.55" cy="493.16" r="1.25" fill="#9e9f9e"/><circle cx="229.85" cy="493.16" r="1.25" fill="#9c9c9c"/><circle cx="233.15" cy="493.16" r="1.25" fill="#9a9a9a"/><circle cx="236.45" cy="493.16" r="1.25" fill="#9a9a9a"/><circle cx="239.75" cy="493.16" r="1.25" fill="#999999"/><circle cx="243.05" cy="493.16" r="1.25" fill="#999999"/><circle cx="246.35" cy="493.16" r="1.25" fill="#999999"/><circle cx="249.65" cy="493.16" r="1.25" fill="#999999"/><circle cx="252.95" cy="493.16" r="1.25" fill="#999999"/><circle cx="191.9" cy="496.02" r="1.25" fill="#999999"/><circle cx="195.2" cy="496.02" r="1.25" fill="#999999"/><circle cx="198.5" cy="496.02" r="1.25" fill="#999999"/><circle cx="201.8" cy="496.02" r="1.25" fill="#999999"/><circle cx="205.1" cy="496.02" r="1.25" fill="#9a9a9a"/><circle cx="208.4" cy="496.02" r="1.25" fill="#9a9a9a"/><circle cx="211.7" cy="496.02" r="1.25" fill="#9c9c9c"/><circle cx="215" cy="496.02" r="1.25" fill="#9fa09f"/><circle cx="218.3" cy="496.02" r="1.25" fill="#a7a7a6"/><circle cx="221.6" cy="496.02" r="1.25" fill="#b5b7b3"/><circle cx="224.9" cy="496.02" r="1.25" fill="#a9aaa9"/><circle cx="228.2" cy="496.02" r="1.25" fill="#a1a1a1"/><circle cx="231.5" cy="496.02" r="1.25" fill="#9d9d9d"/><circle cx="234.8" cy="496.02" r="1.25" fill="#9b9b9b"/><circle cx="238.1" cy="496.02" r="1.25" fill="#9a9a9a"/><circle cx="241.4" cy="496.02" r="1.25" fill="#999999"/><circle cx="244.7" cy="496.02" r="1.25" fill="#999999"/><circle cx="248" cy="496.02" r="1.25" fill="#999999"/><circle cx="251.3" cy="496.02" r="1.25" fill="#999999"/><circle cx="193.55" cy="498.87" r="1.25" fill="#999999"/><circle cx="196.85" cy="498.87" r="1.25" fill="#999999"/><circle cx="200.15" cy="498.87" r="1.25" fill="#999999"/><circle cx="203.45" cy="498.87" r="1.25" fill="#9a9a9a"/><circle cx="206.75" cy="498.87" r="1.25" fill="#9b9b9b"/><circle cx="210.05" cy="498.87" r="1.25" fill="#9d9d9d"/><circle cx="213.35" cy="498.87" r="1.25" fill="#a2a2a2"/><circle cx="216.65" cy="498.87" r="1.25" fill="#acadab"/><circle cx="219.95" cy="498.87" r="1.25" fill="#c0c3bb"/><circle cx="223.25" cy="498.87" r="1.25" fill="#c5ccbf"/><circle cx="226.55" cy="498.87" r="1.25" fill="#afb1ae"/><circle cx="229.85" cy="498.87" r="1.25" fill="#a4a4a4"/><circle cx="233.15" cy="498.87" r="1.25" fill="#9e9e9e"/><circle cx="236.45" cy="498.87" r="1.25" fill="#9b9b9b"/><circle cx="239.75" cy="498.87" r="1.25" fill="#9a9a9a"/><circle cx="243.05" cy="498.87" r="1.25" fill="#9a9a9a"/><circle cx="246.35" cy="498.87" r="1.25" fill="#999999"/><circle cx="249.65" cy="498.87" r="1.25" fill="#999999"/><circle cx="252.95" cy="498.87" r="1.25" fill="#999999"/><circle cx="191.9" cy="501.73" r="1.25" fill="#999999"/><circle cx="195.2" cy="501.73" r="1.25" fill="#999999"/><circle cx="198.5" cy="501.73" r="1.25" fill="#9a9a9a"/><circle cx="201.8" cy="501.73" r="1.25" fill="#9a9a9a"/><circle cx="205.1" cy="501.73" r="1.25" fill="#9c9c9c"/><circle cx="208.4" cy="501.73" r="1.25" fill="#9f9f9f"/><circle cx="211.7" cy="501.73" r="1.25" fill="#a6a6a5"/><circle cx="215" cy="501.73" r="1.25" fill="#b4b5b1"/><circle cx="218.3" cy="501.73" r="1.26" fill="#cfd4c3"/><circle cx="221.6" cy="501.73" r="1.37" fill="#e2ffc3"/><circle cx="224.9" cy="501.73" r="1.28" fill="#d0e0c7"/><circle cx="228.2" cy="501.73" r="1.25" fill="#b6bbb5"/><circle cx="231.5" cy="501.73" r="1.25" fill="#a8a9a8"/><circle cx="234.8" cy="501.73" r="1.25" fill="#a0a0a0"/><circle cx="238.1" cy="501.73" r="1.25" fill="#9c9c9c"/><circle cx="241.4" cy="501.73" r="1.25" fill="#9b9b9b"/><circle cx="244.7" cy="501.73" r="1.25" fill="#9a9a9a"/><circle cx="248" cy="501.73" r="1.25" fill="#999999"/><circle cx="251.3" cy="501.73" r="1.25" fill="#999999"/><circle cx="193.55" cy="504.59" r="1.25" fill="#999999"/><circle cx="196.85" cy="504.59" r="1.25" fill="#9a9a9a"/><circle cx="200.15" cy="504.59" r="1.25" fill="#9b9b9b"/><circle cx="203.45" cy="504.59" r="1.25" fill="#9d9d9d"/><circle cx="206.75" cy="504.59" r="1.25" fill="#a2a2a1"/><circle cx="210.05" cy="504.59" r="1.25" fill="#acacaa"/><circle cx="213.35" cy="504.59" r="1.25" fill="#c0c1b9"/><circle cx="216.65" cy="504.59" r="1.31" fill="#e4ebca"/><circle cx="219.95" cy="504.59" r="1.45" fill="#dfffad"/><circle cx="223.25" cy="504.59" r="1.5" fill="#c9ffa0"/><circle cx="226.55" cy="504.59" r="1.33" fill="#d8fbcc"/><circle cx="229.85" cy="504.59" r="1.25" fill="#bfc9bd"/><circle cx="233.15" cy="504.59" r="1.25" fill="#adafad"/><circle cx="236.45" cy="504.59" r="1.25" fill="#a3a3a3"/><circle cx="239.75" cy="504.59" r="1.25" fill="#9e9e9e"/><circle cx="243.05" cy="504.59" r="1.25" fill="#9b9b9b"/><circle cx="246.35" cy="504.59" r="1.25" fill="#9a9a9a"/><circle cx="249.65" cy="504.59" r="1.25" fill="#999999"/><circle cx="252.95" cy="504.59" r="1.25" fill="#999999"/><circle cx="191.9" cy="507.45" r="1.25" fill="#9a9a9a"/><circle cx="195.2" cy="507.45" r="1.25" fill="#9a9a9a"/><circle cx="198.5" cy="507.45" r="1.25" fill="#9c9c9c"/><circle cx="201.8" cy="507.45" r="1.25" fill="#9f9f9f"/><circle cx="205.1" cy="507.45" r="1.25" fill="#a5a5a5"/><circle cx="208.4" cy="507.45" r="1.25" fill="#b3b3b0"/><circle cx="211.7" cy="507.45" r="1.26" fill="#d1d0c1"/><circle cx="215" cy="507.45" r="1.36" fill="#faffc6"/><circle cx="218.3" cy="507.45" r="1.54" fill="#e2ff92"/><circle cx="221.6" cy="507.45" r="1.7" fill="#a5ff42"/><circle cx="224.9" cy="507.45" r="1.6" fill="#a9ff81"/><circle cx="228.2" cy="507.45" r="1.4" fill="#c5ffbc"/><circle cx="231.5" cy="507.45" r="1.28" fill="#c6dbc7"/><circle cx="234.8" cy="507.45" r="1.25" fill="#b4b9b5"/><circle cx="238.1" cy="507.45" r="1.25" fill="#a7a8a7"/><circle cx="241.4" cy="507.45" r="1.25" fill="#a0a0a0"/><circle cx="244.7" cy="507.45" r="1.25" fill="#9c9c9c"/><circle cx="248" cy="507.45" r="1.25" fill="#9a9a9a"/><circle cx="251.3" cy="507.45" r="1.25" fill="#9a9a9a"/><circle cx="193.55" cy="510.3" r="1.25" fill="#9b9b9b"/><circle cx="196.85" cy="510.3" r="1.25" fill="#9d9d9d"/><circle cx="200.15" cy="510.3" r="1.25" fill="#a1a1a1"/><circle cx="203.45" cy="510.3" r="1.25" fill="#abaaa9"/><circle cx="206.75" cy="510.3" r="1.25" fill="#bebcb7"/><circle cx="210.05" cy="510.3" r="1.3" fill="#e7dfc9"/><circle cx="213.35" cy="510.3" r="1.43" fill="#fff8b2"/><circle cx="216.65" cy="510.3" r="1.66" fill="#f0ff71"/><circle cx="219.95" cy="510.3" r="1.7" fill="#b0ff16"/><circle cx="223.25" cy="510.3" r="1.7" fill="#66fe00"/><circle cx="226.55" cy="510.3" r="1.7" fill="#77ff5d"/><circle cx="229.85" cy="510.3" r="1.48" fill="#a5ffa9"/><circle cx="233.15" cy="510.3" r="1.32" fill="#ccf5d4"/><circle cx="236.45" cy="510.3" r="1.25" fill="#bcc6bf"/><circle cx="239.75" cy="510.3" r="1.25" fill="#acaead"/><circle cx="243.05" cy="510.3" r="1.25" fill="#a2a3a3"/><circle cx="246.35" cy="510.3" r="1.25" fill="#9d9e9e"/><circle cx="249.65" cy="510.3" r="1.25" fill="#9b9b9b"/><circle cx="252.95" cy="510.3" r="1.25" fill="#9a9a9a"/><circle cx="191.9" cy="513.16" r="1.25" fill="#9b9b9b"/><circle cx="195.2" cy="513.16" r="1.25" fill="#9e9e9e"/><circle cx="198.5" cy="513.16" r="1.25" fill="#a5a4a4"/><circle cx="201.8" cy="513.16" r="1.25" fill="#b2b0af"/><circle cx="205.1" cy="513.16" r="1.25" fill="#cdc6c0"/><circle cx="208.4" cy="513.16" r="1.35" fill="#ffe8ca"/><circle cx="211.7" cy="513.16" r="1.52" fill="#ffe098"/><circle cx="215" cy="513.16" r="1.7" fill="#ffea4a"/><circle cx="218.3" cy="513.16" r="1.7" fill="#c8e800"/><circle cx="221.6" cy="513.16" r="1.7" fill="#4d8e00"/><circle cx="224.9" cy="513.16" r="1.7" fill="#2cd100"/><circle cx="228.2" cy="513.16" r="1.7" fill="#33ff40"/><circle cx="231.5" cy="513.16" r="1.58" fill="#87ffa6"/><circle cx="234.8" cy="513.16" r="1.38" fill="#c0ffd9"/><circle cx="238.1" cy="513.16" r="1.27" fill="#c4d7ce"/><circle cx="241.4" cy="513.16" r="1.25" fill="#b2b7b5"/><circle cx="244.7" cy="513.16" r="1.25" fill="#a6a7a7"/><circle cx="248" cy="513.16" r="1.25" fill="#9f9f9f"/><circle cx="251.3" cy="513.16" r="1.25" fill="#9c9c9c"/><circle cx="193.55" cy="516.02" r="1.25" fill="#a1a0a0"/><circle cx="196.85" cy="516.02" r="1.25" fill="#a9a8a8"/><circle cx="200.15" cy="516.02" r="1.25" fill="#bcb8b6"/><circle cx="203.45" cy="516.02" r="1.29" fill="#e2d0c8"/><circle cx="206.75" cy="516.02" r="1.42" fill="#ffd2b6"/><circle cx="210.05" cy="516.02" r="1.64" fill="#ffb877"/><circle cx="213.35" cy="516.02" r="1.7" fill="#ffa81f"/><circle cx="216.65" cy="516.02" r="1.7" fill="#bd9f00"/><circle cx="219.95" cy="516.02" r="1.7" fill="#566d00"/><circle cx="223.25" cy="516.02" r="1.7" fill="#1e5e00"/><circle cx="226.55" cy="516.02" r="1.7" fill="#00a70e"/><circle cx="229.85" cy="516.02" r="1.7" fill="#07ff5c"/><circle cx="233.15" cy="516.02" r="1.7" fill="#64ffb1"/><circle cx="236.45" cy="516.02" r="1.46" fill="#aaffdd"/><circle cx="239.75" cy="516.02" r="1.31" fill="#cbf0e3"/><circle cx="243.05" cy="516.02" r="1.25" fill="#bac3c0"/><circle cx="246.35" cy="516.02" r="1.25" fill="#abadac"/><circle cx="249.65" cy="516.02" r="1.25" fill="#a2a2a2"/><circle cx="252.95" cy="516.02" r="1.25" fill="#9d9d9d"/><circle cx="191.9" cy="518.88" r="1.25" fill="#a4a3a3"/><circle cx="195.2" cy="518.88" r="1.25" fill="#b0aeae"/><circle cx="198.5" cy="518.88" r="1.25" fill="#cac0be"/><circle cx="201.8" cy="518.88" r="1.34" fill="#fed4cc"/><circle cx="205.1" cy="518.88" r="1.51" fill="#ffb19d"/><circle cx="208.4" cy="518.88" r="1.7" fill="#ff7d52"/><circle cx="211.7" cy="518.88" r="1.7" fill="#f14e00"/><circle cx="215" cy="518.88" r="1.7" fill="#954400"/><circle cx="218.3" cy="518.88" r="1.7" fill="#513c00"/><circle cx="221.6" cy="518.88" r="1.7" fill="#192900"/><circle cx="224.9" cy="518.88" r="1.7" fill="#00450a"/><circle cx="228.2" cy="518.88" r="1.7" fill="#008240"/><circle cx="231.5" cy="518.88" r="1.7" fill="#00d98e"/><circle cx="234.8" cy="518.88" r="1.7" fill="#3bffcc"/><circle cx="238.1" cy="518.88" r="1.56" fill="#8dffe7"/><circle cx="241.4" cy="518.88" r="1.37" fill="#c3fff4"/><circle cx="244.7" cy="518.88" r="1.26" fill="#c3d4d1"/><circle cx="248" cy="518.88" r="1.25" fill="#b1b5b4"/><circle cx="251.3" cy="518.88" r="1.25" fill="#a5a6a6"/><circle cx="193.55" cy="521.74" r="1.25" fill="#bab5b5"/><circle cx="196.85" cy="521.74" r="1.28" fill="#dec7c7"/><circle cx="200.15" cy="521.74" r="1.4" fill="#ffbcba"/><circle cx="203.45" cy="521.74" r="1.62" fill="#ff837e"/><circle cx="206.75" cy="521.74" r="1.7" fill="#ff3127"/><circle cx="210.05" cy="521.74" r="1.7" fill="#c50c00"/><circle cx="213.35" cy="521.74" r="1.7" fill="#730a00"/><circle cx="216.65" cy="521.74" r="1.7" fill="#3c0800"/><circle cx="219.95" cy="521.74" r="1.7" fill="#1e0a00"/><circle cx="223.25" cy="521.74" r="1.7" fill="#00190c"/><circle cx="226.55" cy="521.74" r="1.7" fill="#00332b"/><circle cx="229.85" cy="521.74" r="1.7" fill="#00635a"/><circle cx="233.15" cy="521.74" r="1.7" fill="#00afa3"/><circle cx="236.45" cy="521.74" r="1.7" fill="#0ffff3"/><circle cx="239.75" cy="521.74" r="1.68" fill="#6bfff9"/><circle cx="243.05" cy="521.74" r="1.45" fill="#aefffc"/><circle cx="246.35" cy="521.74" r="1.3" fill="#caebea"/><circle cx="249.65" cy="521.74" r="1.25" fill="#b9c0c0"/><circle cx="252.95" cy="521.74" r="1.25" fill="#aaacab"/><circle cx="191.9" cy="524.59" r="1.25" fill="#a9a8a8"/><circle cx="195.2" cy="524.59" r="1.25" fill="#bbb5b6"/><circle cx="198.5" cy="524.59" r="1.29" fill="#e0c7c9"/><circle cx="201.8" cy="524.59" r="1.41" fill="#ffb8bf"/><circle cx="205.1" cy="524.59" r="1.63" fill="#ff7a8a"/><circle cx="208.4" cy="524.59" r="1.7" fill="#ff2242"/><circle cx="211.7" cy="524.59" r="1.7" fill="#c00025"/><circle cx="215" cy="524.59" r="1.7" fill="#6f001f"/><circle cx="218.3" cy="524.59" r="1.7" fill="#3a001c"/><circle cx="221.6" cy="524.59" r="1.7" fill="#13001c"/><circle cx="224.9" cy="524.59" r="1.7" fill="#001431"/><circle cx="228.2" cy="524.59" r="1.7" fill="#00425f"/><circle cx="231.5" cy="524.59" r="1.7" fill="#0087aa"/><circle cx="234.8" cy="524.59" r="1.7" fill="#0ad9ff"/><circle cx="238.1" cy="524.59" r="1.7" fill="#67ecff"/><circle cx="241.4" cy="524.59" r="1.46" fill="#abf6ff"/><circle cx="244.7" cy="524.59" r="1.31" fill="#cbebee"/><circle cx="248" cy="524.59" r="1.25" fill="#bac1c2"/><circle cx="251.3" cy="524.59" r="1.25" fill="#aaacac"/><circle cx="193.55" cy="527.45" r="1.25" fill="#a4a4a4"/><circle cx="196.85" cy="527.45" r="1.25" fill="#b1aeaf"/><circle cx="200.15" cy="527.45" r="1.25" fill="#ccbfc2"/><circle cx="203.45" cy="527.45" r="1.34" fill="#ffcbd8"/><circle cx="206.75" cy="527.45" r="1.52" fill="#ff9ab8"/><circle cx="210.05" cy="527.45" r="1.7" fill="#ff4d90"/><circle cx="213.35" cy="527.45" r="1.7" fill="#eb0075"/><circle cx="216.65" cy="527.45" r="1.7" fill="#900067"/><circle cx="219.95" cy="527.45" r="1.7" fill="#45004f"/><circle cx="223.25" cy="527.45" r="1.7" fill="#120043"/><circle cx="226.55" cy="527.45" r="1.7" fill="#001a7e"/><circle cx="229.85" cy="527.45" r="1.7" fill="#0062d4"/><circle cx="233.15" cy="527.45" r="1.7" fill="#36afff"/><circle cx="236.45" cy="527.45" r="1.57" fill="#8adaff"/><circle cx="239.75" cy="527.45" r="1.38" fill="#c1efff"/><circle cx="243.05" cy="527.45" r="1.27" fill="#c4d2d6"/><circle cx="246.35" cy="527.45" r="1.25" fill="#b2b5b6"/><circle cx="249.65" cy="527.45" r="1.25" fill="#a6a6a7"/><circle cx="252.95" cy="527.45" r="1.25" fill="#9f9f9f"/><circle cx="191.9" cy="530.31" r="1.25" fill="#9d9d9d"/><circle cx="195.2" cy="530.31" r="1.25" fill="#a1a1a1"/><circle cx="198.5" cy="530.31" r="1.25" fill="#aaa9a9"/><circle cx="201.8" cy="530.31" r="1.25" fill="#bdb7b9"/><circle cx="205.1" cy="530.31" r="1.29" fill="#e5c9d4"/><circle cx="208.4" cy="530.31" r="1.43" fill="#ffb3d9"/><circle cx="211.7" cy="530.31" r="1.65" fill="#ff73ca"/><circle cx="215" cy="530.31" r="1.7" fill="#ff19d2"/><circle cx="218.3" cy="530.31" r="1.7" fill="#aa00b8"/><circle cx="221.6" cy="530.31" r="1.7" fill="#3a0069"/><circle cx="224.9" cy="530.31" r="1.7" fill="#1a00a2"/><circle cx="228.2" cy="530.31" r="1.7" fill="#0225ff"/><circle cx="231.5" cy="530.31" r="1.7" fill="#5f96ff"/><circle cx="234.8" cy="530.31" r="1.47" fill="#a6d1ff"/><circle cx="238.1" cy="530.31" r="1.32" fill="#cbe2f3"/><circle cx="241.4" cy="530.31" r="1.25" fill="#bbc1c5"/><circle cx="244.7" cy="530.31" r="1.25" fill="#acadae"/><circle cx="248" cy="530.31" r="1.25" fill="#a2a2a3"/><circle cx="251.3" cy="530.31" r="1.25" fill="#9d9d9d"/><circle cx="193.55" cy="533.17" r="1.25" fill="#9c9c9c"/><circle cx="196.85" cy="533.17" r="1.25" fill="#9f9e9f"/><circle cx="200.15" cy="533.17" r="1.25" fill="#a5a4a5"/><circle cx="203.45" cy="533.17" r="1.25" fill="#b3b0b1"/><circle cx="206.75" cy="533.17" r="1.26" fill="#cfc1c9"/><circle cx="210.05" cy="533.17" r="1.36" fill="#ffc7ee"/><circle cx="213.35" cy="533.17" r="1.54" fill="#ff94ef"/><circle cx="216.65" cy="533.17" r="1.7" fill="#f545ff"/><circle cx="219.95" cy="533.17" r="1.7" fill="#9b00e3"/><circle cx="223.25" cy="533.17" r="1.7" fill="#4f00cc"/><circle cx="226.55" cy="533.17" r="1.7" fill="#462eff"/><circle cx="229.85" cy="533.17" r="1.6" fill="#8391ff"/><circle cx="233.15" cy="533.17" r="1.39" fill="#bdcfff"/><circle cx="236.45" cy="533.17" r="1.27" fill="#c5cdda"/><circle cx="239.75" cy="533.17" r="1.25" fill="#b3b6b8"/><circle cx="243.05" cy="533.17" r="1.25" fill="#a7a7a8"/><circle cx="246.35" cy="533.17" r="1.25" fill="#a0a0a0"/><circle cx="249.65" cy="533.17" r="1.25" fill="#9c9c9c"/><circle cx="252.95" cy="533.17" r="1.25" fill="#9a9a9a"/><circle cx="191.9" cy="536.02" r="1.25" fill="#9a9a9a"/><circle cx="195.2" cy="536.02" r="1.25" fill="#9b9b9b"/><circle cx="198.5" cy="536.02" r="1.25" fill="#9d9d9d"/><circle cx="201.8" cy="536.02" r="1.25" fill="#a2a1a1"/><circle cx="205.1" cy="536.02" r="1.25" fill="#abaaab"/><circle cx="208.4" cy="536.02" r="1.25" fill="#c0b8be"/><circle cx="211.7" cy="536.02" r="1.3" fill="#eacae6"/><circle cx="215" cy="536.02" r="1.44" fill="#fbafff"/><circle cx="218.3" cy="536.02" r="1.68" fill="#db6cff"/><circle cx="221.6" cy="536.02" r="1.7" fill="#8f11ff"/><circle cx="224.9" cy="536.02" r="1.7" fill="#8a58ff"/><circle cx="228.2" cy="536.02" r="1.49" fill="#aaa2ff"/><circle cx="231.5" cy="536.02" r="1.33" fill="#ccd0f9"/><circle cx="234.8" cy="536.02" r="1.25" fill="#bdbfc7"/><circle cx="238.1" cy="536.02" r="1.25" fill="#adadaf"/><circle cx="241.4" cy="536.02" r="1.25" fill="#a3a3a3"/><circle cx="244.7" cy="536.02" r="1.25" fill="#9e9e9e"/><circle cx="248" cy="536.02" r="1.25" fill="#9b9b9b"/><circle cx="251.3" cy="536.02" r="1.25" fill="#9a9a9a"/><circle cx="193.55" cy="538.88" r="1.25" fill="#9a9a9a"/><circle cx="196.85" cy="538.88" r="1.25" fill="#9a9a9a"/><circle cx="200.15" cy="538.88" r="1.25" fill="#9c9c9c"/><circle cx="203.45" cy="538.88" r="1.25" fill="#9f9f9f"/><circle cx="206.75" cy="538.88" r="1.25" fill="#a6a5a6"/><circle cx="210.05" cy="538.88" r="1.25" fill="#b5b1b4"/><circle cx="213.35" cy="538.88" r="1.26" fill="#d2c2d3"/><circle cx="216.65" cy="538.88" r="1.37" fill="#f3c4ff"/><circle cx="219.95" cy="538.88" r="1.56" fill="#d48eff"/><circle cx="223.25" cy="538.88" r="1.62" fill="#b57dff"/><circle cx="226.55" cy="538.88" r="1.41" fill="#cabaff"/><circle cx="229.85" cy="538.88" r="1.28" fill="#c8c7de"/><circle cx="233.15" cy="538.88" r="1.25" fill="#b5b5ba"/><circle cx="236.45" cy="538.88" r="1.25" fill="#a7a8a9"/><circle cx="239.75" cy="538.88" r="1.25" fill="#a0a0a0"/><circle cx="243.05" cy="538.88" r="1.25" fill="#9c9c9c"/><circle cx="246.35" cy="538.88" r="1.25" fill="#9b9b9b"/><circle cx="249.65" cy="538.88" r="1.25" fill="#9a9a9a"/><circle cx="252.95" cy="538.88" r="1.25" fill="#999999"/><circle cx="191.9" cy="541.74" r="1.25" fill="#999999"/><circle cx="195.2" cy="541.74" r="1.25" fill="#999999"/><circle cx="198.5" cy="541.74" r="1.25" fill="#9a9a9a"/><circle cx="201.8" cy="541.74" r="1.25" fill="#9b9b9b"/><circle cx="205.1" cy="541.74" r="1.25" fill="#9d9d9d"/><circle cx="208.4" cy="541.74" r="1.25" fill="#a2a2a2"/><circle cx="211.7" cy="541.74" r="1.25" fill="#acabad"/><circle cx="215" cy="541.74" r="1.25" fill="#c1bac2"/><circle cx="218.3" cy="541.74" r="1.31" fill="#e3cbef"/><circle cx="221.6" cy="541.74" r="1.46" fill="#d6aaff"/><circle cx="224.9" cy="541.74" r="1.34" fill="#deccff"/><circle cx="228.2" cy="541.74" r="1.25" fill="#c1beca"/><circle cx="231.5" cy="541.74" r="1.25" fill="#aeaeb0"/><circle cx="234.8" cy="541.74" r="1.25" fill="#a3a3a4"/><circle cx="238.1" cy="541.74" r="1.25" fill="#9e9e9e"/><circle cx="241.4" cy="541.74" r="1.25" fill="#9b9b9b"/><circle cx="244.7" cy="541.74" r="1.25" fill="#9a9a9a"/><circle cx="248" cy="541.74" r="1.25" fill="#999999"/><circle cx="251.3" cy="541.74" r="1.25" fill="#999999"/><circle cx="193.55" cy="544.6" r="1.25" fill="#999999"/><circle cx="196.85" cy="544.6" r="1.25" fill="#999999"/><circle cx="200.15" cy="544.6" r="1.25" fill="#9a9a9a"/><circle cx="203.45" cy="544.6" r="1.25" fill="#9a9a9a"/><circle cx="206.75" cy="544.6" r="1.25" fill="#9c9c9c"/><circle cx="210.05" cy="544.6" r="1.25" fill="#9f9f9f"/><circle cx="213.35" cy="544.6" r="1.25" fill="#a7a6a7"/><circle cx="216.65" cy="544.6" r="1.25" fill="#b5b2b6"/><circle cx="219.95" cy="544.6" r="1.27" fill="#cfc4d7"/><circle cx="223.25" cy="544.6" r="1.29" fill="#d4c8e2"/><circle cx="226.55" cy="544.6" r="1.25" fill="#b8b6bc"/><circle cx="229.85" cy="544.6" r="1.25" fill="#a8a8aa"/><circle cx="233.15" cy="544.6" r="1.25" fill="#a0a0a1"/><circle cx="236.45" cy="544.6" r="1.25" fill="#9d9d9d"/><circle cx="239.75" cy="544.6" r="1.25" fill="#9b9b9b"/><circle cx="243.05" cy="544.6" r="1.25" fill="#9a9a9a"/><circle cx="246.35" cy="544.6" r="1.25" fill="#999999"/><circle cx="249.65" cy="544.6" r="1.25" fill="#999999"/><circle cx="252.95" cy="544.6" r="1.25" fill="#999999"/><circle cx="191.9" cy="547.46" r="1.25" fill="#999999"/><circle cx="195.2" cy="547.46" r="1.25" fill="#999999"/><circle cx="198.5" cy="547.46" r="1.25" fill="#999999"/><circle cx="201.8" cy="547.46" r="1.25" fill="#999999"/><circle cx="205.1" cy="547.46" r="1.25" fill="#9a9a9a"/><circle cx="208.4" cy="547.46" r="1.25" fill="#9b9b9b"/><circle cx="211.7" cy="547.46" r="1.25" fill="#9d9d9d"/><circle cx="215" cy="547.46" r="1.25" fill="#a3a2a3"/><circle cx="218.3" cy="547.46" r="1.25" fill="#adacae"/><circle cx="221.6" cy="547.46" r="1.25" fill="#c0bcc5"/><circle cx="224.9" cy="547.46" r="1.25" fill="#b0afb2"/><circle cx="228.2" cy="547.46" r="1.25" fill="#a4a4a5"/><circle cx="231.5" cy="547.46" r="1.25" fill="#9e9e9e"/><circle cx="234.8" cy="547.46" r="1.25" fill="#9b9b9c"/><circle cx="238.1" cy="547.46" r="1.25" fill="#9a9a9a"/><circle cx="241.4" cy="547.46" r="1.25" fill="#9a9a9a"/><circle cx="244.7" cy="547.46" r="1.25" fill="#999999"/><circle cx="248" cy="547.46" r="1.25" fill="#999999"/><circle cx="251.3" cy="547.46" r="1.25" fill="#999999"/><circle cx="193.55" cy="550.31" r="1.25" fill="#999999"/><circle cx="196.85" cy="550.31" r="1.25" fill="#999999"/><circle cx="200.15" cy="550.31" r="1.25" fill="#999999"/><circle cx="203.45" cy="550.31" r="1.25" fill="#999999"/><circle cx="206.75" cy="550.31" r="1.25" fill="#9a9a9a"/><circle cx="210.05" cy="550.31" r="1.25" fill="#9a9a9a"/><circle cx="213.35" cy="550.31" r="1.25" fill="#9c9c9c"/><circle cx="216.65" cy="550.31" r="1.25" fill="#a0a0a0"/><circle cx="219.95" cy="550.31" r="1.25" fill="#a7a7a8"/><circle cx="223.25" cy="550.31" r="1.25" fill="#aaa9ab"/><circle cx="226.55" cy="550.31" r="1.25" fill="#a1a1a1"/><circle cx="229.85" cy="550.31" r="1.25" fill="#9d9d9d"/><circle cx="233.15" cy="550.31" r="1.25" fill="#9b9b9b"/><circle cx="236.45" cy="550.31" r="1.25" fill="#9a9a9a"/><circle cx="239.75" cy="550.31" r="1.25" fill="#999999"/><circle cx="243.05" cy="550.31" r="1.25" fill="#999999"/><circle cx="246.35" cy="550.31" r="1.25" fill="#999999"/><circle cx="249.65" cy="550.31" r="1.25" fill="#999999"/><circle cx="252.95" cy="550.31" r="1.25" fill="#999999"/><circle cx="191.9" cy="553.17" r="1.25" fill="#999999"/><circle cx="195.2" cy="553.17" r="1.25" fill="#999999"/><circle cx="198.5" cy="553.17" r="1.25" fill="#999999"/><circle cx="201.8" cy="553.17" r="1.25" fill="#999999"/><circle cx="205.1" cy="553.17" r="1.25" fill="#999999"/><circle cx="208.4" cy="553.17" r="1.25" fill="#999999"/><circle cx="211.7" cy="553.17" r="1.25" fill="#9a9a9a"/><circle cx="215" cy="553.17" r="1.25" fill="#9b9b9b"/><circle cx="218.3" cy="553.17" r="1.25" fill="#9e9e9e"/><circle cx="221.6" cy="553.17" r="1.25" fill="#a3a3a3"/><circle cx="224.9" cy="553.17" r="1.25" fill="#9f9f9f"/><circle cx="228.2" cy="553.17" r="1.25" fill="#9c9c9c"/><circle cx="231.5" cy="553.17" r="1.25" fill="#9a9a9a"/><circle cx="234.8" cy="553.17" r="1.25" fill="#9a9a9a"/><circle cx="238.1" cy="553.17" r="1.25" fill="#999999"/><circle cx="241.4" cy="553.17" r="1.25" fill="#999999"/><circle cx="244.7" cy="553.17" r="1.25" fill="#999999"/><circle cx="248" cy="553.17" r="1.25" fill="#999999"/><circle cx="251.3" cy="553.17" r="1.25" fill="#999999"/></g>
<path d="M190.7,396 C191.75,396.67 194.78,398.5 197,400 C199.22,401.5 201.83,403.25 204,405 C206.17,406.75 208,408.5 210,410.5 C212,412.5 214.17,414.58 216,417 C217.83,419.42 219.5,422.5 221,425 C222.5,427.5 223.58,429.5 225,432 C226.42,434.5 228,437.25 229.5,440 C231,442.75 232.67,446.08 234,448.5 C235.33,450.92 236.33,452.67 237.5,454.5 C238.67,456.33 239.83,457.92 241,459.5 C242.17,461.08 243.43,462.58 244.5,464 C245.57,465.42 246.32,466 247.4,468 C248.48,470 249.73,473 251,476 C252.27,479 253.58,482.33 255,486 C256.42,489.67 258,494 259.5,498 C261,502 262.5,506.5 264,510 C265.5,513.5 267,516.27 268.5,519 C270,521.73 271.25,524.32 273,526.4 C274.75,528.48 277,530.07 279,531.5 C281,532.93 282.83,534.08 285,535 C287.17,535.92 289.42,536.5 292,537 C294.58,537.5 299.08,537.83 300.5,538" stroke="#7f7f7f" stroke-width="2" fill="none" stroke-linecap="round"/>
<path d="M190.7,396 C191.75,396.45 194.78,397.7 197,398.7 C199.22,399.7 201.58,400.75 204,402 C206.42,403.25 209,404.7 211.5,406.2 C214,407.7 216.5,409.25 219,411 C221.5,412.75 224,414.7 226.5,416.7 C229,418.7 231.75,420.95 234,423 C236.25,425.05 238,427 240,429 C242,431 244,432.75 246,435 C248,437.25 250,440 252,442.5 C254,445 256,447.58 258,450 C260,452.42 262,454.77 264,457 C266,459.23 268,461.65 270,463.4 C272,465.15 274,466.35 276,467.5 C278,468.65 279.5,469.52 282,470.3 C284.5,471.08 287.92,471.75 291,472.2 C294.08,472.65 298.92,472.87 300.5,473" stroke="#17becf" stroke-width="2" fill="none" stroke-linecap="round"/>
<path d="M190.7,395.7 C191.92,395.22 195.45,393.87 198,392.8 C200.55,391.73 203.5,390.55 206,389.3 C208.5,388.05 210.78,386.85 213,385.3 C215.22,383.75 217.55,381.8 219.3,380 C221.05,378.2 222.17,376.72 223.5,374.5 C224.83,372.28 226.22,369.2 227.3,366.7 C228.38,364.2 229.18,361.7 230,359.5 C230.82,357.3 231.42,355.08 232.2,353.5 C232.98,351.92 233.73,350.58 234.7,350 C235.67,349.42 237,348.78 238,350 C239,351.22 239.92,354.8 240.7,357.3 C241.48,359.8 242.03,362.1 242.7,365 C243.37,367.9 244.03,371.62 244.7,374.7 C245.37,377.78 246.03,380.7 246.7,383.5 C247.37,386.3 247.98,389 248.7,391.5 C249.42,394 250.12,396.42 251,398.5 C251.88,400.58 253,402.37 254,404 C255,405.63 255.88,407.08 257,408.3 C258.12,409.52 259.2,410.42 260.7,411.3 C262.2,412.18 263.78,412.95 266,413.6 C268.22,414.25 270.83,414.8 274,415.2 C277.17,415.6 280.58,415.8 285,416 C289.42,416.2 297.92,416.33 300.5,416.4" stroke="#e377c2" stroke-width="2" fill="none" stroke-linecap="round"/>
<path d="M190.7,395.5H301.2M234.3,363V395.5" stroke="#000" stroke-width="2" fill="none"/>
<path d="M190.7,395.7 C191.25,395.67 192.78,395.6 194,395.5 C195.22,395.4 196.67,395.23 198,395.1 C199.33,394.97 200.67,394.88 202,394.7 C203.33,394.52 204.78,394.28 206,394 C207.22,393.72 208.08,393.62 209.3,393 C210.52,392.38 211.97,391.35 213.3,390.3 C214.63,389.25 215.85,388.12 217.3,386.7 C218.75,385.28 220.43,383.75 222,381.8 C223.57,379.85 225.25,377.38 226.7,375 C228.15,372.62 229.43,369.55 230.7,367.5 C231.97,365.45 233.7,363.5 234.3,362.7 M234.3,362.7 C235,363.38 237.42,363.5 238.5,366.8 C239.58,370.1 240.13,377.97 240.8,382.5 C241.47,387.03 241.87,389.95 242.5,394 C243.13,398.05 243.93,402.3 244.6,406.8 C245.27,411.3 245.88,416.3 246.5,421 C247.12,425.7 247.7,430.42 248.3,435 C248.9,439.58 249.5,443.95 250.1,448.5 C250.7,453.05 251.2,458.05 251.9,462.3 C252.6,466.55 253.47,470.32 254.3,474 C255.13,477.68 255.95,479.82 256.9,484.4 C257.85,488.98 259.02,496.48 260,501.5 C260.98,506.52 261.52,510.67 262.8,514.5 C264.08,518.33 266.17,521.57 267.7,524.5 C269.23,527.43 270.65,529.75 272,532.1 C273.35,534.45 274.45,536.62 275.8,538.6 C277.15,540.58 278.67,542.48 280.1,544 C281.53,545.52 282.95,546.62 284.4,547.7 C285.85,548.78 287.35,549.73 288.8,550.5 C290.25,551.27 291.55,551.85 293.1,552.3 C294.65,552.75 297.27,553.05 298.1,553.2" stroke="#000" stroke-width="2.2" fill="none" stroke-linejoin="round"/>
<circle cx="198" cy="395.1" r="2.6" fill="#000"/>
<circle cx="202" cy="394.7" r="2.6" fill="#000"/>
<circle cx="206" cy="394" r="2.6" fill="#000"/>
<circle cx="209.3" cy="393" r="2.6" fill="#000"/>
<circle cx="213.3" cy="390.3" r="2.6" fill="#000"/>
<circle cx="217.3" cy="386.7" r="2.6" fill="#000"/>
<circle cx="222" cy="381.8" r="2.6" fill="#000"/>
<circle cx="226.7" cy="375" r="2.6" fill="#000"/>
<circle cx="230.7" cy="367.5" r="2.6" fill="#000"/>
<circle cx="238.5" cy="366.8" r="2.6" fill="#000"/>
<circle cx="240.8" cy="382.5" r="2.6" fill="#000"/>
<circle cx="244.6" cy="406.8" r="2.6" fill="#000"/>
<circle cx="248.3" cy="435" r="2.6" fill="#000"/>
<circle cx="251.9" cy="462.3" r="2.6" fill="#000"/>
<circle cx="256.9" cy="484.4" r="2.6" fill="#000"/>
<circle cx="260" cy="501.5" r="2.6" fill="#000"/>
<circle cx="262.8" cy="514.5" r="2.6" fill="#000"/>
<circle cx="267.7" cy="524.5" r="2.6" fill="#000"/>
<circle cx="272" cy="532.1" r="2.6" fill="#000"/>
<circle cx="275.8" cy="538.6" r="2.6" fill="#000"/>
<circle cx="280.1" cy="544" r="2.6" fill="#000"/>
<circle cx="284.4" cy="547.7" r="2.6" fill="#000"/>
<circle cx="288.8" cy="550.5" r="2.6" fill="#000"/>
<circle cx="293.1" cy="552.3" r="2.6" fill="#000"/>
<circle cx="190.7" cy="395.7" r="4.8" fill="#d62728"/>
<circle cx="298.3" cy="553.3" r="4.8" fill="#d62728"/>
<circle cx="234.4" cy="362.8" r="4.6" fill="#2ca02c"/>
<rect x="183.8" y="283.6" width="117.4" height="283.3" fill="none" stroke="#000" stroke-width="1.5"/>
<path d="M183.8,297.5h6M301.2,297.5h-6M183.8,396h6M301.2,396h-6M183.8,494.5h6M301.2,494.5h-6M183.8,322.12h3.5M301.2,322.12h-3.5M183.8,346.75h3.5M301.2,346.75h-3.5M183.8,371.38h3.5M301.2,371.38h-3.5M183.8,420.62h3.5M301.2,420.62h-3.5M183.8,445.25h3.5M301.2,445.25h-3.5M183.8,469.88h3.5M301.2,469.88h-3.5M183.8,519.12h3.5M301.2,519.12h-3.5M183.8,543.75h3.5M301.2,543.75h-3.5" stroke="#000" stroke-width="1.3" fill="none"/>
<path d="M190.7,566.9v-6.5M190.7,283.6v6.5M252.5,566.9v-6.5M252.5,283.6v6.5M203.06,566.9v-3.8M203.06,283.6v3.8M215.42,566.9v-3.8M215.42,283.6v3.8M227.78,566.9v-3.8M227.78,283.6v3.8M240.14,566.9v-3.8M240.14,283.6v3.8M264.86,566.9v-3.8M264.86,283.6v3.8M277.22,566.9v-3.8M277.22,283.6v3.8M289.58,566.9v-3.8M289.58,283.6v3.8" stroke="#000" stroke-width="1.3" fill="none"/>
<rect x="184.6" y="284.4" width="15.2" height="18.1" fill="#fff" stroke="#000" stroke-width="1.6"/>
<text x="192.2" y="298.1" font-size="16" fill="#000" text-anchor="middle" font-weight="bold">d</text>
<text x="214.6" y="359.5" font-size="12.19" fill="#2ca02c" textLength="14.23" lengthAdjust="spacingAndGlyphs">SP</text>
<text x="193.2" y="379.3" font-size="12.19" fill="#d62728" textLength="19.7" lengthAdjust="spacingAndGlyphs">ask</text>
<text x="281.3" y="531" font-size="12.19" fill="#d62728" textLength="16.54" lengthAdjust="spacingAndGlyphs">FM</text>
<text x="250.5" y="373.5" font-size="12.19" fill="#000" textLength="15.13" lengthAdjust="spacingAndGlyphs">&#916;<tspan font-style="italic">E</tspan></text>
<text x="307" y="302.3" font-size="11.98" fill="#000" textLength="21.57" lengthAdjust="spacingAndGlyphs">200</text>
<text x="307" y="400.3" font-size="11.98" fill="#000" textLength="7.19" lengthAdjust="spacingAndGlyphs">0</text>
<text x="307" y="498.5" font-size="11.98" fill="#000" textLength="31.04" lengthAdjust="spacingAndGlyphs">&#8722;200</text>
<text x="190.7" y="581" font-size="11.98" fill="#000" text-anchor="middle" textLength="7.19" lengthAdjust="spacingAndGlyphs">0</text>
<text x="252.5" y="581" font-size="11.98" fill="#000" text-anchor="middle" textLength="14.38" lengthAdjust="spacingAndGlyphs">10</text>
<text x="222.5" y="598.2" font-size="12.19" fill="#000" textLength="39.7" lengthAdjust="spacingAndGlyphs"><tspan font-style="italic">R</tspan> (rad)</text>
<text transform="translate(353.5,426) rotate(-90)" font-size="11.5" text-anchor="middle" textLength="83" lengthAdjust="spacingAndGlyphs"><tspan font-style="italic">E</tspan> &#8722; <tspan font-style="italic">E</tspan><tspan font-size="8" dy="2.5">ask</tspan><tspan dy="-2.5"> (meV)</tspan></text>
<rect x="380.8" y="283.7" width="15.4" height="19.2" fill="#fff" stroke="#000" stroke-width="1.6"/>
<text x="388.5" y="298.5" font-size="16" fill="#000" text-anchor="middle" font-weight="bold">e</text>
<defs><linearGradient id="gu0" gradientUnits="userSpaceOnUse" x1="391.16" y1="449.79" x2="381.54" y2="409.74"><stop offset="0" stop-color="#5572d1"/><stop offset="0.17" stop-color="#5a77d4"/><stop offset="0.33" stop-color="#5e7cd7"/><stop offset="0.5" stop-color="#6381d9"/><stop offset="0.67" stop-color="#6786db"/><stop offset="0.83" stop-color="#6c8bdd"/><stop offset="1" stop-color="#708fde"/></linearGradient><linearGradient id="gu1" gradientUnits="userSpaceOnUse" x1="393.2" y1="449.77" x2="385.04" y2="408.14"><stop offset="0" stop-color="#536fd0"/><stop offset="0.17" stop-color="#5976d4"/><stop offset="0.33" stop-color="#5e7cd7"/><stop offset="0.5" stop-color="#6483da"/><stop offset="0.67" stop-color="#6989dc"/><stop offset="0.83" stop-color="#6f8ede"/><stop offset="1" stop-color="#7594df"/></linearGradient><linearGradient id="gu2" gradientUnits="userSpaceOnUse" x1="395.78" y1="449.74" x2="389.41" y2="406.12"><stop offset="0" stop-color="#506bcd"/><stop offset="0.17" stop-color="#5673d2"/><stop offset="0.33" stop-color="#5d7bd6"/><stop offset="0.5" stop-color="#6482da"/><stop offset="0.67" stop-color="#6c8bdd"/><stop offset="0.83" stop-color="#7292de"/><stop offset="1" stop-color="#7998df"/></linearGradient><linearGradient id="gu3" gradientUnits="userSpaceOnUse" x1="398.71" y1="449.71" x2="393.91" y2="403.94"><stop offset="0" stop-color="#4e68cc"/><stop offset="0.17" stop-color="#5572d1"/><stop offset="0.33" stop-color="#5d7bd6"/><stop offset="0.5" stop-color="#6584da"/><stop offset="0.67" stop-color="#6d8cdd"/><stop offset="0.83" stop-color="#7695df"/><stop offset="1" stop-color="#7d9cdf"/></linearGradient><linearGradient id="gu4" gradientUnits="userSpaceOnUse" x1="401.77" y1="449.66" x2="398.24" y2="401.74"><stop offset="0" stop-color="#4a63c9"/><stop offset="0.17" stop-color="#5470d1"/><stop offset="0.33" stop-color="#5d7bd6"/><stop offset="0.5" stop-color="#6685da"/><stop offset="0.67" stop-color="#708fde"/><stop offset="0.83" stop-color="#7998df"/><stop offset="1" stop-color="#83a0df"/></linearGradient><linearGradient id="gu5" gradientUnits="userSpaceOnUse" x1="404.79" y1="449.58" x2="402.57" y2="399.48"><stop offset="0" stop-color="#4861c7"/><stop offset="0.17" stop-color="#526dcf"/><stop offset="0.33" stop-color="#5d7bd6"/><stop offset="0.5" stop-color="#6887db"/><stop offset="0.67" stop-color="#7393df"/><stop offset="0.83" stop-color="#7d9cdf"/><stop offset="1" stop-color="#88a4de"/></linearGradient><linearGradient id="gu6" gradientUnits="userSpaceOnUse" x1="407.6" y1="449.49" x2="406.91" y2="397.07"><stop offset="0" stop-color="#455cc3"/><stop offset="0.17" stop-color="#516cce"/><stop offset="0.33" stop-color="#5d7bd6"/><stop offset="0.5" stop-color="#6989dc"/><stop offset="0.67" stop-color="#7695df"/><stop offset="0.83" stop-color="#829fdf"/><stop offset="1" stop-color="#8ea8dd"/></linearGradient><linearGradient id="gu7" gradientUnits="userSpaceOnUse" x1="410.28" y1="449.47" x2="411.1" y2="394.42"><stop offset="0" stop-color="#4359c1"/><stop offset="0.17" stop-color="#506bcd"/><stop offset="0.33" stop-color="#5e7cd7"/><stop offset="0.5" stop-color="#6c8bdd"/><stop offset="0.67" stop-color="#7998df"/><stop offset="0.83" stop-color="#87a4de"/><stop offset="1" stop-color="#94acda"/></linearGradient><linearGradient id="gu8" gradientUnits="userSpaceOnUse" x1="412.93" y1="449.51" x2="415.11" y2="391.47"><stop offset="0" stop-color="#4055be"/><stop offset="0.17" stop-color="#4f69cc"/><stop offset="0.33" stop-color="#5e7cd7"/><stop offset="0.5" stop-color="#6e8ddd"/><stop offset="0.67" stop-color="#7d9cdf"/><stop offset="0.83" stop-color="#8ca7dd"/><stop offset="1" stop-color="#9ab0d7"/></linearGradient><linearGradient id="gu9" gradientUnits="userSpaceOnUse" x1="415.6" y1="449.5" x2="419" y2="388.24"><stop offset="0" stop-color="#3e52bc"/><stop offset="0.17" stop-color="#4e68cb"/><stop offset="0.33" stop-color="#5f7ed8"/><stop offset="0.5" stop-color="#708fde"/><stop offset="0.67" stop-color="#819edf"/><stop offset="0.83" stop-color="#91aadb"/><stop offset="1" stop-color="#a1b3d2"/></linearGradient><linearGradient id="gu10" gradientUnits="userSpaceOnUse" x1="418.3" y1="449.37" x2="422.68" y2="384.93"><stop offset="0" stop-color="#3c4fb9"/><stop offset="0.17" stop-color="#4c66ca"/><stop offset="0.33" stop-color="#5f7dd7"/><stop offset="0.5" stop-color="#7292de"/><stop offset="0.67" stop-color="#85a2df"/><stop offset="0.83" stop-color="#97aed9"/><stop offset="1" stop-color="#a6b5ce"/></linearGradient><linearGradient id="gu11" gradientUnits="userSpaceOnUse" x1="421.06" y1="449" x2="426.04" y2="381.73"><stop offset="0" stop-color="#394ab5"/><stop offset="0.17" stop-color="#4b65c9"/><stop offset="0.33" stop-color="#607fd8"/><stop offset="0.5" stop-color="#7594df"/><stop offset="0.67" stop-color="#88a4de"/><stop offset="0.83" stop-color="#9cb1d6"/><stop offset="1" stop-color="#acb7c8"/></linearGradient><linearGradient id="gu12" gradientUnits="userSpaceOnUse" x1="423.88" y1="448.29" x2="429.01" y2="378.74"><stop offset="0" stop-color="#3848b4"/><stop offset="0.17" stop-color="#4b65c9"/><stop offset="0.33" stop-color="#6180d9"/><stop offset="0.5" stop-color="#7796df"/><stop offset="0.67" stop-color="#8da8dd"/><stop offset="0.83" stop-color="#a0b2d3"/><stop offset="1" stop-color="#b0b7c3"/></linearGradient><linearGradient id="gu13" gradientUnits="userSpaceOnUse" x1="426.8" y1="447.21" x2="431.65" y2="375.86"><stop offset="0" stop-color="#3a4bb7"/><stop offset="0.17" stop-color="#4f69cc"/><stop offset="0.33" stop-color="#6584da"/><stop offset="0.5" stop-color="#7b9adf"/><stop offset="0.67" stop-color="#91aadb"/><stop offset="0.83" stop-color="#a4b4d0"/><stop offset="1" stop-color="#b4b7bc"/></linearGradient><linearGradient id="gu14" gradientUnits="userSpaceOnUse" x1="429.79" y1="445.79" x2="434.17" y2="372.97"><stop offset="0" stop-color="#3d50ba"/><stop offset="0.17" stop-color="#526dcf"/><stop offset="0.33" stop-color="#6989dc"/><stop offset="0.5" stop-color="#809edf"/><stop offset="0.67" stop-color="#95adda"/><stop offset="0.83" stop-color="#a9b6cb"/><stop offset="1" stop-color="#b8b7b7"/></linearGradient><linearGradient id="gu15" gradientUnits="userSpaceOnUse" x1="432.84" y1="444.13" x2="436.75" y2="369.98"><stop offset="0" stop-color="#4055be"/><stop offset="0.17" stop-color="#5673d2"/><stop offset="0.33" stop-color="#6e8ddd"/><stop offset="0.5" stop-color="#84a1df"/><stop offset="0.67" stop-color="#9ab0d7"/><stop offset="0.83" stop-color="#adb7c7"/><stop offset="1" stop-color="#beb5b0"/></linearGradient><linearGradient id="gu16" gradientUnits="userSpaceOnUse" x1="435.91" y1="442.32" x2="439.4" y2="366.89"><stop offset="0" stop-color="#4359c1"/><stop offset="0.17" stop-color="#5a77d4"/><stop offset="0.33" stop-color="#7292de"/><stop offset="0.5" stop-color="#89a5de"/><stop offset="0.67" stop-color="#9fb2d4"/><stop offset="0.83" stop-color="#b1b7c2"/><stop offset="1" stop-color="#c3b4ab"/></linearGradient><linearGradient id="gu17" gradientUnits="userSpaceOnUse" x1="438.99" y1="440.44" x2="442.07" y2="363.73"><stop offset="0" stop-color="#475fc6"/><stop offset="0.17" stop-color="#5e7cd7"/><stop offset="0.33" stop-color="#7796df"/><stop offset="0.5" stop-color="#8ea8dd"/><stop offset="0.67" stop-color="#a2b3d1"/><stop offset="0.83" stop-color="#b4b7bc"/><stop offset="1" stop-color="#c7b1a6"/></linearGradient><linearGradient id="gu18" gradientUnits="userSpaceOnUse" x1="442.03" y1="438.59" x2="444.73" y2="360.45"><stop offset="0" stop-color="#4a64c9"/><stop offset="0.17" stop-color="#6381d9"/><stop offset="0.33" stop-color="#7a99df"/><stop offset="0.5" stop-color="#92abdb"/><stop offset="0.67" stop-color="#a7b5cd"/><stop offset="0.83" stop-color="#b8b7b7"/><stop offset="1" stop-color="#cbae9f"/></linearGradient><linearGradient id="gu19" gradientUnits="userSpaceOnUse" x1="445.05" y1="436.77" x2="447.39" y2="356.99"><stop offset="0" stop-color="#4e68cb"/><stop offset="0.17" stop-color="#6786db"/><stop offset="0.33" stop-color="#809edf"/><stop offset="0.5" stop-color="#97aed9"/><stop offset="0.67" stop-color="#abb6c9"/><stop offset="0.83" stop-color="#bdb6b2"/><stop offset="1" stop-color="#ceab99"/></linearGradient><linearGradient id="gu20" gradientUnits="userSpaceOnUse" x1="448.04" y1="434.94" x2="450.04" y2="353.31"><stop offset="0" stop-color="#526dcf"/><stop offset="0.17" stop-color="#6c8bdd"/><stop offset="0.33" stop-color="#84a1df"/><stop offset="0.5" stop-color="#9bb0d6"/><stop offset="0.67" stop-color="#afb7c4"/><stop offset="0.83" stop-color="#c2b4ac"/><stop offset="1" stop-color="#d1a793"/></linearGradient><linearGradient id="gu21" gradientUnits="userSpaceOnUse" x1="451.04" y1="433.06" x2="452.7" y2="349.51"><stop offset="0" stop-color="#5673d2"/><stop offset="0.17" stop-color="#6f8edd"/><stop offset="0.33" stop-color="#88a4de"/><stop offset="0.5" stop-color="#a0b2d3"/><stop offset="0.67" stop-color="#b2b7c0"/><stop offset="0.83" stop-color="#c6b2a7"/><stop offset="1" stop-color="#d4a28c"/></linearGradient><linearGradient id="gu22" gradientUnits="userSpaceOnUse" x1="454.02" y1="431.14" x2="455.37" y2="345.75"><stop offset="0" stop-color="#5b78d5"/><stop offset="0.17" stop-color="#7393de"/><stop offset="0.33" stop-color="#8da7dd"/><stop offset="0.5" stop-color="#a3b4d0"/><stop offset="0.67" stop-color="#b5b7ba"/><stop offset="0.83" stop-color="#caafa1"/><stop offset="1" stop-color="#d59e86"/></linearGradient><linearGradient id="gu23" gradientUnits="userSpaceOnUse" x1="456.99" y1="429.19" x2="458.04" y2="342.12"><stop offset="0" stop-color="#5e7cd7"/><stop offset="0.17" stop-color="#7897df"/><stop offset="0.33" stop-color="#92abdb"/><stop offset="0.5" stop-color="#a8b5cc"/><stop offset="0.67" stop-color="#bab6b5"/><stop offset="0.83" stop-color="#cdac9b"/><stop offset="1" stop-color="#d7997f"/></linearGradient><linearGradient id="gu24" gradientUnits="userSpaceOnUse" x1="459.95" y1="427.19" x2="460.73" y2="338.58"><stop offset="0" stop-color="#6381d9"/><stop offset="0.17" stop-color="#7c9bdf"/><stop offset="0.33" stop-color="#96add9"/><stop offset="0.5" stop-color="#abb6c9"/><stop offset="0.67" stop-color="#bfb5af"/><stop offset="0.83" stop-color="#d0a995"/><stop offset="1" stop-color="#d79278"/></linearGradient><linearGradient id="gu25" gradientUnits="userSpaceOnUse" x1="462.9" y1="425.16" x2="463.42" y2="335.12"><stop offset="0" stop-color="#6786db"/><stop offset="0.17" stop-color="#819edf"/><stop offset="0.33" stop-color="#9ab0d7"/><stop offset="0.5" stop-color="#afb7c4"/><stop offset="0.67" stop-color="#c3b4ab"/><stop offset="0.83" stop-color="#d3a58f"/><stop offset="1" stop-color="#d78c71"/></linearGradient><linearGradient id="gu26" gradientUnits="userSpaceOnUse" x1="465.83" y1="423.08" x2="466.1" y2="331.8"><stop offset="0" stop-color="#6a8adc"/><stop offset="0.17" stop-color="#85a2df"/><stop offset="0.33" stop-color="#9eb2d5"/><stop offset="0.5" stop-color="#b2b7c0"/><stop offset="0.67" stop-color="#c7b1a6"/><stop offset="0.83" stop-color="#d5a189"/><stop offset="1" stop-color="#d7866b"/></linearGradient><linearGradient id="gu27" gradientUnits="userSpaceOnUse" x1="468.74" y1="420.95" x2="468.75" y2="328.63"><stop offset="0" stop-color="#6f8edd"/><stop offset="0.17" stop-color="#89a5de"/><stop offset="0.33" stop-color="#a1b3d2"/><stop offset="0.5" stop-color="#b6b7ba"/><stop offset="0.67" stop-color="#cbafa0"/><stop offset="0.83" stop-color="#d69c83"/><stop offset="1" stop-color="#d57e64"/></linearGradient><linearGradient id="gu28" gradientUnits="userSpaceOnUse" x1="471.64" y1="418.79" x2="471.34" y2="325.61"><stop offset="0" stop-color="#7393df"/><stop offset="0.17" stop-color="#8ea8dd"/><stop offset="0.33" stop-color="#a6b5ce"/><stop offset="0.5" stop-color="#b9b7b6"/><stop offset="0.67" stop-color="#ceac9a"/><stop offset="0.83" stop-color="#d7977d"/><stop offset="1" stop-color="#d4775d"/></linearGradient><linearGradient id="gu29" gradientUnits="userSpaceOnUse" x1="474.55" y1="416.61" x2="473.97" y2="322.71"><stop offset="0" stop-color="#7796df"/><stop offset="0.17" stop-color="#92abdb"/><stop offset="0.33" stop-color="#a9b6ca"/><stop offset="0.5" stop-color="#beb5b1"/><stop offset="0.67" stop-color="#d1a894"/><stop offset="0.83" stop-color="#d79177"/><stop offset="1" stop-color="#d27057"/></linearGradient><linearGradient id="gu30" gradientUnits="userSpaceOnUse" x1="477.47" y1="414.41" x2="476.75" y2="319.87"><stop offset="0" stop-color="#7b9adf"/><stop offset="0.17" stop-color="#96add9"/><stop offset="0.33" stop-color="#adb7c7"/><stop offset="0.5" stop-color="#c2b4ac"/><stop offset="0.67" stop-color="#d3a58f"/><stop offset="0.83" stop-color="#d78b70"/><stop offset="1" stop-color="#cf6650"/></linearGradient><linearGradient id="gu31" gradientUnits="userSpaceOnUse" x1="480.41" y1="412.19" x2="479.74" y2="317.03"><stop offset="0" stop-color="#7f9ddf"/><stop offset="0.17" stop-color="#9ab0d7"/><stop offset="0.33" stop-color="#b0b7c3"/><stop offset="0.5" stop-color="#c5b2a8"/><stop offset="0.67" stop-color="#d5a189"/><stop offset="0.83" stop-color="#d7856a"/><stop offset="1" stop-color="#cc604b"/></linearGradient><linearGradient id="gu32" gradientUnits="userSpaceOnUse" x1="483.39" y1="409.92" x2="482.91" y2="314.23"><stop offset="0" stop-color="#829fdf"/><stop offset="0.17" stop-color="#9db1d5"/><stop offset="0.33" stop-color="#b3b7bf"/><stop offset="0.5" stop-color="#c8b0a4"/><stop offset="0.67" stop-color="#d69d84"/><stop offset="0.83" stop-color="#d68065"/><stop offset="1" stop-color="#c95745"/></linearGradient><linearGradient id="gu33" gradientUnits="userSpaceOnUse" x1="486.39" y1="407.6" x2="486.16" y2="311.58"><stop offset="0" stop-color="#85a2df"/><stop offset="0.17" stop-color="#a0b2d3"/><stop offset="0.33" stop-color="#b5b7bb"/><stop offset="0.5" stop-color="#cbae9f"/><stop offset="0.67" stop-color="#d7997f"/><stop offset="0.83" stop-color="#d4795f"/><stop offset="1" stop-color="#c44e40"/></linearGradient><linearGradient id="gu34" gradientUnits="userSpaceOnUse" x1="489.41" y1="405.27" x2="489.4" y2="309.24"><stop offset="0" stop-color="#88a4de"/><stop offset="0.17" stop-color="#a2b4d1"/><stop offset="0.33" stop-color="#b7b7b8"/><stop offset="0.5" stop-color="#ceab9a"/><stop offset="0.67" stop-color="#d7947a"/><stop offset="0.83" stop-color="#d3735a"/><stop offset="1" stop-color="#c1473b"/></linearGradient><linearGradient id="gu35" gradientUnits="userSpaceOnUse" x1="492.42" y1="402.96" x2="492.66" y2="307.22"><stop offset="0" stop-color="#8ca7dd"/><stop offset="0.17" stop-color="#a5b5cf"/><stop offset="0.33" stop-color="#bbb6b4"/><stop offset="0.5" stop-color="#d0a997"/><stop offset="0.67" stop-color="#d79075"/><stop offset="0.83" stop-color="#d16d55"/><stop offset="1" stop-color="#bd3f37"/></linearGradient><linearGradient id="gu36" gradientUnits="userSpaceOnUse" x1="495.38" y1="400.72" x2="495.93" y2="305.49"><stop offset="0" stop-color="#8fa9dc"/><stop offset="0.17" stop-color="#a8b5cc"/><stop offset="0.33" stop-color="#beb5b1"/><stop offset="0.5" stop-color="#d2a692"/><stop offset="0.67" stop-color="#d78c71"/><stop offset="0.83" stop-color="#cf6750"/><stop offset="1" stop-color="#b93633"/></linearGradient><linearGradient id="gu37" gradientUnits="userSpaceOnUse" x1="498.3" y1="398.59" x2="499.13" y2="304.06"><stop offset="0" stop-color="#91aadb"/><stop offset="0.17" stop-color="#aab6c9"/><stop offset="0.33" stop-color="#c1b4ad"/><stop offset="0.5" stop-color="#d3a48e"/><stop offset="0.67" stop-color="#d7886c"/><stop offset="0.83" stop-color="#cc604b"/><stop offset="1" stop-color="#b52c2f"/></linearGradient><linearGradient id="gu38" gradientUnits="userSpaceOnUse" x1="501.14" y1="396.57" x2="502.11" y2="302.99"><stop offset="0" stop-color="#94acda"/><stop offset="0.17" stop-color="#adb7c7"/><stop offset="0.33" stop-color="#c3b3aa"/><stop offset="0.5" stop-color="#d4a18a"/><stop offset="0.67" stop-color="#d68469"/><stop offset="0.83" stop-color="#ca5b48"/><stop offset="1" stop-color="#b0212a"/></linearGradient><linearGradient id="gu39" gradientUnits="userSpaceOnUse" x1="503.9" y1="394.6" x2="504.71" y2="302.28"><stop offset="0" stop-color="#96add9"/><stop offset="0.17" stop-color="#aeb7c5"/><stop offset="0.33" stop-color="#c5b2a8"/><stop offset="0.5" stop-color="#d5a088"/><stop offset="0.67" stop-color="#d68166"/><stop offset="0.83" stop-color="#c95745"/><stop offset="1" stop-color="#ae1928"/></linearGradient><linearGradient id="gu40" gradientUnits="userSpaceOnUse" x1="506.63" y1="392.7" x2="507.13" y2="301.9"><stop offset="0" stop-color="#98afd8"/><stop offset="0.17" stop-color="#b0b7c3"/><stop offset="0.33" stop-color="#c7b1a6"/><stop offset="0.5" stop-color="#d59e86"/><stop offset="0.67" stop-color="#d57e64"/><stop offset="0.83" stop-color="#c75443"/><stop offset="1" stop-color="#ab1027"/></linearGradient><linearGradient id="gu41" gradientUnits="userSpaceOnUse" x1="509.34" y1="390.89" x2="509.88" y2="301.87"><stop offset="0" stop-color="#9ab0d7"/><stop offset="0.17" stop-color="#b1b7c1"/><stop offset="0.33" stop-color="#c8b0a3"/><stop offset="0.5" stop-color="#d69c83"/><stop offset="0.67" stop-color="#d57c61"/><stop offset="0.83" stop-color="#c55041"/><stop offset="1" stop-color="#a90825"/></linearGradient><linearGradient id="gu42" gradientUnits="userSpaceOnUse" x1="512.07" y1="389.19" x2="513.41" y2="302.16"><stop offset="0" stop-color="#9cb1d6"/><stop offset="0.17" stop-color="#b3b7bf"/><stop offset="0.33" stop-color="#c9b0a2"/><stop offset="0.5" stop-color="#d69b82"/><stop offset="0.67" stop-color="#d57c61"/><stop offset="0.83" stop-color="#c55041"/><stop offset="1" stop-color="#a80825"/></linearGradient><linearGradient id="gu43" gradientUnits="userSpaceOnUse" x1="514.85" y1="387.62" x2="517.8" y2="302.74"><stop offset="0" stop-color="#9eb2d5"/><stop offset="0.17" stop-color="#b3b7bd"/><stop offset="0.33" stop-color="#c9b0a2"/><stop offset="0.5" stop-color="#d69c83"/><stop offset="0.67" stop-color="#d57d62"/><stop offset="0.83" stop-color="#c85644"/><stop offset="1" stop-color="#ae1928"/></linearGradient><linearGradient id="gu44" gradientUnits="userSpaceOnUse" x1="517.73" y1="386.16" x2="522.69" y2="303.68"><stop offset="0" stop-color="#9fb2d4"/><stop offset="0.17" stop-color="#b3b7bd"/><stop offset="0.33" stop-color="#c9b0a2"/><stop offset="0.5" stop-color="#d69d84"/><stop offset="0.67" stop-color="#d68065"/><stop offset="0.83" stop-color="#ca5b48"/><stop offset="1" stop-color="#b2282c"/></linearGradient><linearGradient id="gu45" gradientUnits="userSpaceOnUse" x1="520.71" y1="384.76" x2="527.6" y2="305.13"><stop offset="0" stop-color="#a0b2d3"/><stop offset="0.17" stop-color="#b3b7bd"/><stop offset="0.33" stop-color="#c8b0a3"/><stop offset="0.5" stop-color="#d59f87"/><stop offset="0.67" stop-color="#d68469"/><stop offset="0.83" stop-color="#cc604b"/><stop offset="1" stop-color="#b73131"/></linearGradient><linearGradient id="gu46" gradientUnits="userSpaceOnUse" x1="523.76" y1="383.46" x2="532.32" y2="307.26"><stop offset="0" stop-color="#a1b3d2"/><stop offset="0.17" stop-color="#b3b7bd"/><stop offset="0.33" stop-color="#c7b2a6"/><stop offset="0.5" stop-color="#d4a28b"/><stop offset="0.67" stop-color="#d7896e"/><stop offset="0.83" stop-color="#cf6851"/><stop offset="1" stop-color="#be4138"/></linearGradient><linearGradient id="gu47" gradientUnits="userSpaceOnUse" x1="526.8" y1="382.29" x2="536.95" y2="310.08"><stop offset="0" stop-color="#a2b3d2"/><stop offset="0.17" stop-color="#b3b7bf"/><stop offset="0.33" stop-color="#c5b2a8"/><stop offset="0.5" stop-color="#d3a58f"/><stop offset="0.67" stop-color="#d79075"/><stop offset="0.83" stop-color="#d3745b"/><stop offset="1" stop-color="#c65242"/></linearGradient><linearGradient id="gu48" gradientUnits="userSpaceOnUse" x1="529.76" y1="381.32" x2="541.43" y2="313.38"><stop offset="0" stop-color="#a2b4d1"/><stop offset="0.17" stop-color="#b2b7c0"/><stop offset="0.33" stop-color="#c3b4ab"/><stop offset="0.5" stop-color="#d1a894"/><stop offset="0.67" stop-color="#d7977d"/><stop offset="0.83" stop-color="#d68065"/><stop offset="1" stop-color="#cd624c"/></linearGradient><linearGradient id="gu49" gradientUnits="userSpaceOnUse" x1="532.57" y1="380.58" x2="545.42" y2="316.84"><stop offset="0" stop-color="#a2b3d1"/><stop offset="0.17" stop-color="#b1b7c1"/><stop offset="0.33" stop-color="#c1b4ad"/><stop offset="0.5" stop-color="#ceac9a"/><stop offset="0.67" stop-color="#d69d84"/><stop offset="0.83" stop-color="#d7896e"/><stop offset="1" stop-color="#d27159"/></linearGradient><linearGradient id="gu50" gradientUnits="userSpaceOnUse" x1="535.16" y1="380.12" x2="548.71" y2="320.29"><stop offset="0" stop-color="#a2b4d1"/><stop offset="0.17" stop-color="#b0b7c3"/><stop offset="0.33" stop-color="#bdb6b2"/><stop offset="0.5" stop-color="#cbafa0"/><stop offset="0.67" stop-color="#d3a38d"/><stop offset="0.83" stop-color="#d7957a"/><stop offset="1" stop-color="#d68166"/></linearGradient><linearGradient id="gu51" gradientUnits="userSpaceOnUse" x1="537.51" y1="379.96" x2="551.36" y2="323.81"><stop offset="0" stop-color="#a2b3d2"/><stop offset="0.17" stop-color="#adb7c6"/><stop offset="0.33" stop-color="#b8b7b7"/><stop offset="0.5" stop-color="#c5b2a8"/><stop offset="0.67" stop-color="#cfaa98"/><stop offset="0.83" stop-color="#d59f87"/><stop offset="1" stop-color="#d79075"/></linearGradient><linearGradient id="gu52" gradientUnits="userSpaceOnUse" x1="539.66" y1="380.04" x2="553.59" y2="327.48"><stop offset="0" stop-color="#a0b2d3"/><stop offset="0.17" stop-color="#aab6c9"/><stop offset="0.33" stop-color="#b4b7bc"/><stop offset="0.5" stop-color="#bfb5b0"/><stop offset="0.67" stop-color="#caafa1"/><stop offset="0.83" stop-color="#d1a793"/><stop offset="1" stop-color="#d69d84"/></linearGradient><linearGradient id="gu53" gradientUnits="userSpaceOnUse" x1="541.72" y1="380.33" x2="555.66" y2="331.37"><stop offset="0" stop-color="#9eb2d5"/><stop offset="0.17" stop-color="#a8b5cc"/><stop offset="0.33" stop-color="#b1b7c2"/><stop offset="0.5" stop-color="#b9b7b6"/><stop offset="0.67" stop-color="#c3b4ab"/><stop offset="0.83" stop-color="#cbae9f"/><stop offset="1" stop-color="#d2a692"/></linearGradient><linearGradient id="gu54" gradientUnits="userSpaceOnUse" x1="543.75" y1="380.78" x2="557.6" y2="335.53"><stop offset="0" stop-color="#9db1d5"/><stop offset="0.17" stop-color="#a5b5cf"/><stop offset="0.33" stop-color="#aeb7c6"/><stop offset="0.5" stop-color="#b4b7bc"/><stop offset="0.67" stop-color="#bdb6b2"/><stop offset="0.83" stop-color="#c5b2a8"/><stop offset="1" stop-color="#cdad9d"/></linearGradient><linearGradient id="gu55" gradientUnits="userSpaceOnUse" x1="545.87" y1="381.37" x2="559.36" y2="339.95"><stop offset="0" stop-color="#9bb0d6"/><stop offset="0.17" stop-color="#a3b4d0"/><stop offset="0.33" stop-color="#aab6ca"/><stop offset="0.5" stop-color="#b0b7c2"/><stop offset="0.67" stop-color="#b7b7b8"/><stop offset="0.83" stop-color="#bfb5b0"/><stop offset="1" stop-color="#c7b1a6"/></linearGradient><linearGradient id="gu56" gradientUnits="userSpaceOnUse" x1="548.13" y1="382.05" x2="560.97" y2="344.48"><stop offset="0" stop-color="#99afd7"/><stop offset="0.17" stop-color="#a1b3d2"/><stop offset="0.33" stop-color="#a7b5cd"/><stop offset="0.5" stop-color="#adb7c7"/><stop offset="0.67" stop-color="#b3b7bf"/><stop offset="0.83" stop-color="#b8b7b7"/><stop offset="1" stop-color="#c0b5ae"/></linearGradient><linearGradient id="gu57" gradientUnits="userSpaceOnUse" x1="550.53" y1="382.85" x2="562.49" y2="348.99"><stop offset="0" stop-color="#97aed9"/><stop offset="0.17" stop-color="#9eb2d5"/><stop offset="0.33" stop-color="#a3b4d0"/><stop offset="0.5" stop-color="#a8b6cb"/><stop offset="0.67" stop-color="#aeb7c5"/><stop offset="0.83" stop-color="#b3b7be"/><stop offset="1" stop-color="#b8b7b7"/></linearGradient><linearGradient id="gu58" gradientUnits="userSpaceOnUse" x1="553.03" y1="383.8" x2="563.9" y2="353.46"><stop offset="0" stop-color="#95adda"/><stop offset="0.17" stop-color="#9aafd7"/><stop offset="0.33" stop-color="#a0b2d3"/><stop offset="0.5" stop-color="#a5b5cf"/><stop offset="0.67" stop-color="#a9b6ca"/><stop offset="0.83" stop-color="#aeb7c5"/><stop offset="1" stop-color="#b3b7bf"/></linearGradient><linearGradient id="gu59" gradientUnits="userSpaceOnUse" x1="555.59" y1="384.88" x2="565.19" y2="357.93"><stop offset="0" stop-color="#92abdb"/><stop offset="0.17" stop-color="#97aed9"/><stop offset="0.33" stop-color="#9cb1d6"/><stop offset="0.5" stop-color="#a1b3d2"/><stop offset="0.67" stop-color="#a5b5cf"/><stop offset="0.83" stop-color="#a9b6ca"/><stop offset="1" stop-color="#adb7c6"/></linearGradient><linearGradient id="gu60" gradientUnits="userSpaceOnUse" x1="558.19" y1="386.08" x2="566.45" y2="362.36"><stop offset="0" stop-color="#90aadc"/><stop offset="0.17" stop-color="#94acda"/><stop offset="0.33" stop-color="#98aed8"/><stop offset="0.5" stop-color="#9db1d5"/><stop offset="0.67" stop-color="#a1b3d2"/><stop offset="0.83" stop-color="#a4b4cf"/><stop offset="1" stop-color="#a8b5cc"/></linearGradient><linearGradient id="gu61" gradientUnits="userSpaceOnUse" x1="560.81" y1="387.36" x2="567.7" y2="366.69"><stop offset="0" stop-color="#8da7dd"/><stop offset="0.17" stop-color="#91aadb"/><stop offset="0.33" stop-color="#95adda"/><stop offset="0.5" stop-color="#98aed8"/><stop offset="0.67" stop-color="#9cb1d6"/><stop offset="0.83" stop-color="#a0b2d3"/><stop offset="1" stop-color="#a2b4d1"/></linearGradient><linearGradient id="gu62" gradientUnits="userSpaceOnUse" x1="563.42" y1="388.7" x2="568.93" y2="370.89"><stop offset="0" stop-color="#8ba6dd"/><stop offset="0.17" stop-color="#8ea8dd"/><stop offset="0.33" stop-color="#91aadb"/><stop offset="0.5" stop-color="#94acda"/><stop offset="0.67" stop-color="#97aed9"/><stop offset="0.83" stop-color="#9bb0d6"/><stop offset="1" stop-color="#9eb2d5"/></linearGradient><linearGradient id="gu63" gradientUnits="userSpaceOnUse" x1="566.15" y1="390.21" x2="570.14" y2="375.02"><stop offset="0" stop-color="#88a4de"/><stop offset="0.17" stop-color="#8aa6dd"/><stop offset="0.33" stop-color="#8ea8dd"/><stop offset="0.5" stop-color="#91aadb"/><stop offset="0.67" stop-color="#93abdb"/><stop offset="0.83" stop-color="#96add9"/><stop offset="1" stop-color="#98aed8"/></linearGradient><linearGradient id="gu64" gradientUnits="userSpaceOnUse" x1="569.08" y1="391.96" x2="571.49" y2="379.18"><stop offset="0" stop-color="#86a3de"/><stop offset="0.17" stop-color="#88a4de"/><stop offset="0.33" stop-color="#8ba6dd"/><stop offset="0.5" stop-color="#8da7dd"/><stop offset="0.67" stop-color="#8fa9dc"/><stop offset="0.83" stop-color="#91aadb"/><stop offset="1" stop-color="#93acdb"/></linearGradient><linearGradient id="gu65" gradientUnits="userSpaceOnUse" x1="572.1" y1="393.84" x2="573.2" y2="383.63"><stop offset="0" stop-color="#84a1df"/><stop offset="0.17" stop-color="#85a2df"/><stop offset="0.33" stop-color="#87a4de"/><stop offset="0.5" stop-color="#88a4de"/><stop offset="0.67" stop-color="#8ba6dd"/><stop offset="0.83" stop-color="#8ca7dd"/><stop offset="1" stop-color="#8ea8dd"/></linearGradient><linearGradient id="gu66" gradientUnits="userSpaceOnUse" x1="574.99" y1="395.69" x2="575.37" y2="388.58"><stop offset="0" stop-color="#829fdf"/><stop offset="0.17" stop-color="#83a0df"/><stop offset="0.33" stop-color="#84a1df"/><stop offset="0.5" stop-color="#85a2df"/><stop offset="0.67" stop-color="#86a3de"/><stop offset="0.83" stop-color="#87a4de"/><stop offset="1" stop-color="#88a4de"/></linearGradient><linearGradient id="gu67" gradientUnits="userSpaceOnUse" x1="577.54" y1="397.35" x2="577.7" y2="393.54"><stop offset="0" stop-color="#809edf"/><stop offset="0.17" stop-color="#809ddf"/><stop offset="0.33" stop-color="#819edf"/><stop offset="0.5" stop-color="#829fdf"/><stop offset="0.67" stop-color="#829fdf"/><stop offset="0.83" stop-color="#83a0df"/><stop offset="1" stop-color="#84a1df"/></linearGradient><linearGradient id="gu68" gradientUnits="userSpaceOnUse" x1="579.55" y1="398.66" x2="579.61" y2="397.55"><stop offset="0" stop-color="#7d9cdf"/><stop offset="0.17" stop-color="#7d9cdf"/><stop offset="0.33" stop-color="#7d9cdf"/><stop offset="0.5" stop-color="#7d9cdf"/><stop offset="0.67" stop-color="#7d9cdf"/><stop offset="0.83" stop-color="#7f9ddf"/><stop offset="1" stop-color="#7f9ddf"/></linearGradient></defs>
<path d="M390.3,449.8L392.02,449.78L394.38,449.76L387.1,407.2L382.97,409.09L380.1,410.4Z" fill="url(#gu0)"/>
<path d="M392.02,449.78L394.38,449.76L397.18,449.73L391.72,405.03L387.1,407.2L382.97,409.09Z" fill="url(#gu1)"/>
<path d="M394.38,449.76L397.18,449.73L400.23,449.69L396.09,402.84L391.72,405.03L387.1,407.2Z" fill="url(#gu2)"/>
<path d="M397.18,449.73L400.23,449.69L403.32,449.62L400.38,400.65L396.09,402.84L391.72,405.03Z" fill="url(#gu3)"/>
<path d="M400.23,449.69L403.32,449.62L406.25,449.53L404.76,398.32L400.38,400.65L396.09,402.84Z" fill="url(#gu4)"/>
<path d="M403.32,449.62L406.25,449.53L408.95,449.46L409.06,395.81L404.76,398.32L400.38,400.65Z" fill="url(#gu5)"/>
<path d="M406.25,449.53L408.95,449.46L411.6,449.48L413.13,393.04L409.06,395.81L404.76,398.32Z" fill="url(#gu6)"/>
<path d="M408.95,449.46L411.6,449.48L414.26,449.53L417.09,389.91L413.13,393.04L409.06,395.81Z" fill="url(#gu7)"/>
<path d="M411.6,449.48L414.26,449.53L416.94,449.48L420.9,386.58L417.09,389.91L413.13,393.04Z" fill="url(#gu8)"/>
<path d="M414.26,449.53L416.94,449.48L419.66,449.25L424.45,383.27L420.9,386.58L417.09,389.91Z" fill="url(#gu9)"/>
<path d="M416.94,449.48L419.66,449.25L422.45,448.74L427.63,380.19L424.45,383.27L420.9,386.58Z" fill="url(#gu10)"/>
<path d="M419.66,449.25L422.45,448.74L425.32,447.84L430.39,377.29L427.63,380.19L424.45,383.27Z" fill="url(#gu11)"/>
<path d="M422.45,448.74L425.32,447.84L428.28,446.57L432.91,374.43L430.39,377.29L427.63,380.19Z" fill="url(#gu12)"/>
<path d="M425.32,447.84L428.28,446.57L431.3,445.01L435.43,371.51L432.91,374.43L430.39,377.29Z" fill="url(#gu13)"/>
<path d="M428.28,446.57L431.3,445.01L434.37,443.25L438.07,368.45L435.43,371.51L432.91,374.43Z" fill="url(#gu14)"/>
<path d="M431.3,445.01L434.37,443.25L437.46,441.38L440.73,365.34L438.07,368.45L435.43,371.51Z" fill="url(#gu15)"/>
<path d="M434.37,443.25L437.46,441.38L440.52,439.49L443.4,362.13L440.73,365.34L438.07,368.45Z" fill="url(#gu16)"/>
<path d="M437.46,441.38L440.52,439.49L443.55,437.68L446.06,358.78L443.4,362.13L440.73,365.34Z" fill="url(#gu17)"/>
<path d="M440.52,439.49L443.55,437.68L446.55,435.87L448.72,355.2L446.06,358.78L443.4,362.13Z" fill="url(#gu18)"/>
<path d="M443.55,437.68L446.55,435.87L449.54,434.01L451.37,351.43L448.72,355.2L446.06,358.78Z" fill="url(#gu19)"/>
<path d="M446.55,435.87L449.54,434.01L452.53,432.11L454.03,347.6L451.37,351.43L448.72,355.2Z" fill="url(#gu20)"/>
<path d="M449.54,434.01L452.53,432.11L455.51,430.17L456.7,343.9L454.03,347.6L451.37,351.43Z" fill="url(#gu21)"/>
<path d="M452.53,432.11L455.51,430.17L458.48,428.2L459.38,340.33L456.7,343.9L454.03,347.6Z" fill="url(#gu22)"/>
<path d="M455.51,430.17L458.48,428.2L461.43,426.18L462.07,336.82L459.38,340.33L456.7,343.9Z" fill="url(#gu23)"/>
<path d="M458.48,428.2L461.43,426.18L464.37,424.13L464.77,333.42L462.07,336.82L459.38,340.33Z" fill="url(#gu24)"/>
<path d="M461.43,426.18L464.37,424.13L467.29,422.02L467.44,330.17L464.77,333.42L462.07,336.82Z" fill="url(#gu25)"/>
<path d="M464.37,424.13L467.29,422.02L470.19,419.88L470.05,327.09L467.44,330.17L464.77,333.42Z" fill="url(#gu26)"/>
<path d="M467.29,422.02L470.19,419.88L473.09,417.7L472.63,324.14L470.05,327.09L467.44,330.17Z" fill="url(#gu27)"/>
<path d="M470.19,419.88L473.09,417.7L476,415.51L475.31,321.28L472.63,324.14L470.05,327.09Z" fill="url(#gu28)"/>
<path d="M473.09,417.7L476,415.51L478.93,413.3L478.19,318.46L475.31,321.28L472.63,324.14Z" fill="url(#gu29)"/>
<path d="M476,415.51L478.93,413.3L481.89,411.07L481.29,315.61L478.19,318.46L475.31,321.28Z" fill="url(#gu30)"/>
<path d="M478.93,413.3L481.89,411.07L484.88,408.77L484.53,312.84L481.29,315.61L478.19,318.46Z" fill="url(#gu31)"/>
<path d="M481.89,411.07L484.88,408.77L487.9,406.43L487.79,310.32L484.53,312.84L481.29,315.61Z" fill="url(#gu32)"/>
<path d="M484.88,408.77L487.9,406.43L490.92,404.1L491.01,308.17L487.79,310.32L484.53,312.84Z" fill="url(#gu33)"/>
<path d="M487.9,406.43L490.92,404.1L493.91,401.82L494.3,306.28L491.01,308.17L487.79,310.32Z" fill="url(#gu34)"/>
<path d="M490.92,404.1L493.91,401.82L496.86,399.63L497.57,304.69L494.3,306.28L491.01,308.17Z" fill="url(#gu35)"/>
<path d="M493.91,401.82L496.86,399.63L499.74,397.56L500.7,303.44L497.57,304.69L494.3,306.28Z" fill="url(#gu36)"/>
<path d="M496.86,399.63L499.74,397.56L502.53,395.57L503.51,302.55L500.7,303.44L497.57,304.69Z" fill="url(#gu37)"/>
<path d="M499.74,397.56L502.53,395.57L505.27,393.63L505.91,302L503.51,302.55L500.7,303.44Z" fill="url(#gu38)"/>
<path d="M502.53,395.57L505.27,393.63L507.98,391.77L508.36,301.8L505.91,302L503.51,302.55Z" fill="url(#gu39)"/>
<path d="M505.27,393.63L507.98,391.77L510.7,390.01L511.4,301.94L508.36,301.8L505.91,302Z" fill="url(#gu40)"/>
<path d="M507.98,391.77L510.7,390.01L513.45,388.37L515.42,302.38L511.4,301.94L508.36,301.8Z" fill="url(#gu41)"/>
<path d="M510.7,390.01L513.45,388.37L516.26,386.87L520.19,303.1L515.42,302.38L511.4,301.94Z" fill="url(#gu42)"/>
<path d="M513.45,388.37L516.26,386.87L519.19,385.44L525.2,304.26L520.19,303.1L515.42,302.38Z" fill="url(#gu43)"/>
<path d="M516.26,386.87L519.19,385.44L522.23,384.08L530,306L525.2,304.26L520.19,303.1Z" fill="url(#gu44)"/>
<path d="M519.19,385.44L522.23,384.08L525.29,382.83L534.64,308.51L530,306L525.2,304.26Z" fill="url(#gu45)"/>
<path d="M522.23,384.08L525.29,382.83L528.31,381.75L539.27,311.65L534.64,308.51L530,306Z" fill="url(#gu46)"/>
<path d="M525.29,382.83L528.31,381.75L531.22,380.88L543.59,315.11L539.27,311.65L534.64,308.51Z" fill="url(#gu47)"/>
<path d="M528.31,381.75L531.22,380.88L533.93,380.28L547.25,318.57L543.59,315.11L539.27,311.65Z" fill="url(#gu48)"/>
<path d="M531.22,380.88L533.93,380.28L536.39,379.97L550.17,322.02L547.25,318.57L543.59,315.11Z" fill="url(#gu49)"/>
<path d="M533.93,380.28L536.39,379.97L538.62,379.94L552.55,325.6L550.17,322.02L547.25,318.57Z" fill="url(#gu50)"/>
<path d="M536.39,379.97L538.62,379.94L540.7,380.13L554.64,329.36L552.55,325.6L550.17,322.02Z" fill="url(#gu51)"/>
<path d="M538.62,379.94L540.7,380.13L542.73,380.52L556.67,333.37L554.64,329.36L552.55,325.6Z" fill="url(#gu52)"/>
<path d="M540.7,380.13L542.73,380.52L544.78,381.05L558.53,337.69L556.67,333.37L554.64,329.36Z" fill="url(#gu53)"/>
<path d="M542.73,380.52L544.78,381.05L546.95,381.69L560.2,342.21L558.53,337.69L556.67,333.37Z" fill="url(#gu54)"/>
<path d="M544.78,381.05L546.95,381.69L549.3,382.41L561.75,346.76L560.2,342.21L558.53,337.69Z" fill="url(#gu55)"/>
<path d="M546.95,381.69L549.3,382.41L551.76,383.29L563.23,351.22L561.75,346.76L560.2,342.21Z" fill="url(#gu56)"/>
<path d="M549.3,382.41L551.76,383.29L554.3,384.31L564.57,355.7L563.23,351.22L561.75,346.76Z" fill="url(#gu57)"/>
<path d="M551.76,383.29L554.3,384.31L556.89,385.46L565.82,360.16L564.57,355.7L563.23,351.22Z" fill="url(#gu58)"/>
<path d="M554.3,384.31L556.89,385.46L559.5,386.7L567.07,364.56L565.82,360.16L564.57,355.7Z" fill="url(#gu59)"/>
<path d="M556.89,385.46L559.5,386.7L562.11,388.01L568.33,368.83L567.07,364.56L565.82,360.16Z" fill="url(#gu60)"/>
<path d="M559.5,386.7L562.11,388.01L564.72,389.39L569.52,372.96L568.33,368.83L567.07,364.56Z" fill="url(#gu61)"/>
<path d="M562.11,388.01L564.72,389.39L567.57,391.03L570.76,377.07L569.52,372.96L568.33,368.83Z" fill="url(#gu62)"/>
<path d="M564.72,389.39L567.57,391.03L570.6,392.89L572.22,381.28L570.76,377.07L569.52,372.96Z" fill="url(#gu63)"/>
<path d="M567.57,391.03L570.6,392.89L573.6,394.79L574.17,385.98L572.22,381.28L570.76,377.07Z" fill="url(#gu64)"/>
<path d="M570.6,392.89L573.6,394.79L576.37,396.59L576.56,391.17L574.17,385.98L572.22,381.28Z" fill="url(#gu65)"/>
<path d="M573.6,394.79L576.37,396.59L578.7,398.11L578.83,395.91L576.56,391.17L574.17,385.98Z" fill="url(#gu66)"/>
<path d="M576.37,396.59L578.7,398.11L580.4,399.2L580.4,399.2L578.83,395.91L576.56,391.17Z" fill="url(#gu67)"/>
<path d="M578.7,398.11L580.4,399.2L580.4,399.2L580.4,399.2L580.4,399.2L578.83,395.91Z" fill="url(#gu68)"/>
<path d="M396.88,447.23 C397.37,446.86 398.8,445.65 399.81,444.98 C400.82,444.31 401.9,443.76 402.93,443.2 C403.97,442.64 405.02,442.13 406.02,441.64 C407.03,441.14 407.99,440.66 408.96,440.23 C409.94,439.8 410.91,439.41 411.89,439.03 C412.86,438.65 413.84,438.33 414.81,437.97 C415.79,437.6 416.76,437.24 417.74,436.84 C418.71,436.45 419.69,436.06 420.65,435.61 C421.62,435.16 422.6,434.49 423.55,434.14 C424.5,433.8 425.42,433.56 426.34,433.56 C427.26,433.57 428.15,434 429.07,434.16 C430,434.32 430.94,434.44 431.89,434.53 C432.85,434.62 433.82,434.66 434.8,434.71 C435.77,434.75 436.76,434.76 437.74,434.79 C438.72,434.81 439.71,434.81 440.69,434.84 C441.68,434.88 442.65,434.91 443.63,435.01 C444.61,435.1 446.07,435.33 446.56,435.39" fill="none" stroke="#fff" stroke-opacity="0.55" stroke-width="0.6"/>
<path d="M384.32,415.14 C385.07,415.52 387.34,416.85 388.85,417.42 C390.35,417.98 391.92,418.22 393.37,418.52 C394.81,418.81 396.17,418.94 397.54,419.2 C398.9,419.47 400.24,419.9 401.55,420.12 C402.86,420.34 404.16,420.45 405.41,420.53 C406.65,420.61 407.84,420.58 409.01,420.58 C410.17,420.58 411.28,420.56 412.39,420.54 C413.49,420.52 414.57,420.54 415.64,420.48 C416.71,420.41 417.76,420.28 418.79,420.14 C419.82,419.99 420.83,419.84 421.82,419.6 C422.8,419.37 423.78,418.95 424.72,418.75 C425.65,418.55 426.54,418.38 427.43,418.41 C428.32,418.44 429.17,418.79 430.05,418.93 C430.94,419.08 431.83,419.19 432.75,419.27 C433.66,419.35 434.61,419.4 435.55,419.44 C436.49,419.48 437.45,419.5 438.4,419.51 C439.35,419.53 440.31,419.53 441.26,419.55 C442.22,419.58 443.17,419.6 444.12,419.65 C445.07,419.71 446.02,419.82 446.98,419.9 C447.93,419.97 448.89,420.04 449.85,420.11 C450.81,420.18 451.77,420.26 452.74,420.34 C453.7,420.41 454.67,420.5 455.64,420.59 C456.61,420.68 457.58,420.77 458.55,420.86 C459.52,420.95 460.5,421.04 461.47,421.13 C462.44,421.21 463.41,421.3 464.38,421.38 C465.35,421.46 466.8,421.56 467.29,421.6" fill="none" stroke="#fff" stroke-opacity="0.55" stroke-width="0.6"/>
<path d="M404.79,399.42 C405.5,399.68 407.7,400.5 409.05,400.93 C410.4,401.37 411.65,401.7 412.89,402.04 C414.13,402.39 415.31,402.76 416.47,402.99 C417.63,403.22 418.76,403.33 419.84,403.43 C420.92,403.53 421.97,403.61 422.98,403.6 C423.98,403.58 424.96,403.41 425.88,403.35 C426.8,403.3 427.66,403.19 428.52,403.25 C429.38,403.31 430.18,403.58 431.03,403.7 C431.88,403.83 432.72,403.94 433.6,404.01 C434.48,404.09 435.4,404.13 436.31,404.17 C437.22,404.21 438.14,404.23 439.06,404.24 C439.98,404.26 440.91,404.26 441.83,404.27 C442.76,404.28 443.68,404.28 444.61,404.3 C445.54,404.32 446.46,404.37 447.39,404.4 C448.32,404.42 449.26,404.42 450.2,404.44 C451.14,404.45 452.08,404.46 453.02,404.49 C453.96,404.52 454.91,404.56 455.86,404.61 C456.81,404.66 457.76,404.72 458.72,404.78 C459.67,404.84 460.63,404.9 461.58,404.97 C462.54,405.03 463.5,405.1 464.45,405.17 C465.41,405.24 466.36,405.31 467.31,405.37 C468.27,405.44 469.22,405.51 470.17,405.58 C471.12,405.64 472.07,405.7 473.03,405.76 C473.99,405.82 474.96,405.88 475.93,405.92 C476.91,405.97 477.89,406.07 478.87,406.05 C479.86,406.03 480.85,405.94 481.85,405.82 C482.85,405.69 483.86,405.5 484.87,405.32 C485.88,405.15 487.4,404.86 487.9,404.77" fill="none" stroke="#fff" stroke-opacity="0.55" stroke-width="0.6"/>
<path d="M564.87,388.86 C565.42,388.79 567.09,388.6 568.17,388.43 C569.24,388.26 570.32,388.01 571.31,387.83 C572.29,387.65 573.62,387.42 574.08,387.34" fill="none" stroke="#fff" stroke-opacity="0.55" stroke-width="0.6"/>
<path d="M420.89,386.72 C421.43,386.87 423.11,387.38 424.14,387.59 C425.17,387.79 426.13,387.87 427.05,387.96 C427.96,388.04 428.78,388.01 429.61,388.1 C430.44,388.18 431.2,388.36 432.01,388.47 C432.82,388.58 433.62,388.69 434.46,388.76 C435.3,388.83 436.19,388.86 437.06,388.9 C437.94,388.93 438.83,388.96 439.72,388.97 C440.6,388.99 441.5,388.98 442.4,388.98 C443.3,388.97 444.19,388.96 445.1,388.95 C446,388.93 446.9,388.93 447.81,388.9 C448.72,388.87 449.63,388.81 450.54,388.77 C451.46,388.73 452.38,388.67 453.3,388.65 C454.22,388.63 455.15,388.63 456.08,388.63 C457.01,388.64 457.95,388.67 458.88,388.7 C459.82,388.73 460.76,388.77 461.7,388.81 C462.64,388.85 463.58,388.9 464.52,388.96 C465.46,389.02 466.41,389.08 467.34,389.15 C468.28,389.22 469.21,389.29 470.14,389.37 C471.08,389.45 472.01,389.53 472.95,389.61 C473.9,389.68 474.85,389.77 475.81,389.83 C476.78,389.9 477.76,390.01 478.75,390.01 C479.74,390.01 480.74,389.93 481.75,389.83 C482.77,389.74 483.79,389.58 484.81,389.45 C485.83,389.32 486.86,389.18 487.88,389.05 C488.9,388.92 489.92,388.78 490.93,388.65 C491.95,388.51 492.96,388.37 493.97,388.25 C494.97,388.14 495.97,388.05 496.95,387.94 C497.92,387.82 498.89,387.74 499.84,387.57 C500.79,387.39 501.71,387.12 502.63,386.9 C503.54,386.68 504.43,386.45 505.32,386.24 C506.22,386.03 507.11,385.83 508.01,385.64 C508.91,385.46 509.82,385.3 510.74,385.12 C511.66,384.94 512.59,384.73 513.53,384.56 C514.48,384.38 515.42,384.32 516.39,384.08 C517.36,383.83 518.36,383.41 519.37,383.1 C520.37,382.79 521.4,382.49 522.42,382.2 C523.44,381.91 524.47,381.61 525.48,381.37 C526.49,381.12 527.5,380.9 528.47,380.72 C529.45,380.55 530.41,380.4 531.32,380.31 C532.24,380.22 533.07,380.39 533.95,380.19 C534.83,379.99 535.73,379.49 536.6,379.11 C537.46,378.73 538.3,378.3 539.14,377.9 C539.98,377.51 540.79,377.13 541.63,376.75 C542.47,376.36 543.32,375.96 544.18,375.61 C545.04,375.27 545.9,374.99 546.8,374.67 C547.71,374.36 548.62,374.11 549.62,373.73 C550.62,373.35 551.71,372.86 552.8,372.39 C553.9,371.92 555.07,371.36 556.19,370.9 C557.32,370.43 558.45,370.05 559.58,369.61 C560.7,369.17 561.83,368.75 562.96,368.26 C564.09,367.76 565.79,366.91 566.36,366.65" fill="none" stroke="#fff" stroke-opacity="0.55" stroke-width="0.6"/>
<path d="M435.32,373.5 C435.73,373.52 436.97,373.6 437.82,373.63 C438.66,373.66 439.52,373.69 440.37,373.7 C441.23,373.71 442.1,373.71 442.97,373.69 C443.83,373.67 444.71,373.64 445.59,373.59 C446.46,373.55 447.34,373.48 448.23,373.4 C449.11,373.32 450,373.19 450.89,373.09 C451.79,373 452.68,372.88 453.58,372.81 C454.49,372.74 455.39,372.69 456.3,372.66 C457.21,372.63 458.13,372.63 459.05,372.63 C459.97,372.62 460.89,372.63 461.82,372.65 C462.74,372.67 463.67,372.71 464.59,372.75 C465.52,372.8 466.45,372.85 467.37,372.92 C468.29,372.99 469.2,373.08 470.12,373.17 C471.04,373.25 471.95,373.35 472.87,373.45 C473.8,373.55 474.74,373.66 475.69,373.74 C476.65,373.83 477.63,373.95 478.62,373.97 C479.62,373.99 480.63,373.91 481.65,373.85 C482.68,373.78 483.72,373.66 484.75,373.58 C485.79,373.49 486.83,373.41 487.86,373.33 C488.9,373.25 489.92,373.18 490.95,373.1 C491.98,373.03 493.01,372.94 494.03,372.89 C495.05,372.83 496.06,372.81 497.06,372.78 C498.05,372.74 499.04,372.76 499.99,372.67 C500.95,372.58 501.87,372.38 502.78,372.23 C503.68,372.09 504.54,371.92 505.42,371.79 C506.31,371.66 507.17,371.55 508.07,371.45 C508.97,371.36 509.88,371.38 510.85,371.23 C511.81,371.08 512.82,370.78 513.86,370.56 C514.89,370.34 515.96,370.18 517.05,369.9 C518.15,369.63 519.29,369.21 520.42,368.91 C521.55,368.61 522.67,368.42 523.82,368.09 C524.97,367.75 526.14,367.26 527.3,366.9 C528.46,366.54 529.64,366.22 530.79,365.93 C531.93,365.64 533.08,365.41 534.17,365.16 C535.26,364.92 536.28,364.91 537.34,364.47 C538.4,364.04 539.48,363.26 540.53,362.57 C541.58,361.89 542.59,361.15 543.64,360.37 C544.68,359.59 545.73,358.71 546.81,357.89 C547.89,357.07 549.05,356.11 550.14,355.45 C551.24,354.79 552.27,354.46 553.38,353.93 C554.49,353.4 555.62,352.9 556.82,352.28 C558.01,351.66 559.92,350.57 560.54,350.23" fill="none" stroke="#fff" stroke-opacity="0.55" stroke-width="0.6"/>
<path d="M448.64,357.9 C449.08,357.82 450.37,357.58 451.24,357.42 C452.11,357.27 452.98,357.09 453.87,356.97 C454.75,356.85 455.63,356.75 456.52,356.68 C457.41,356.61 458.31,356.58 459.21,356.55 C460.12,356.52 461.02,356.5 461.93,356.49 C462.84,356.49 463.75,356.51 464.66,356.54 C465.58,356.57 466.49,356.63 467.4,356.7 C468.3,356.77 469.19,356.86 470.09,356.96 C470.99,357.06 471.88,357.18 472.8,357.29 C473.71,357.41 474.63,357.55 475.58,357.65 C476.53,357.76 477.5,357.9 478.5,357.93 C479.49,357.97 480.52,357.9 481.56,357.86 C482.59,357.83 483.65,357.74 484.69,357.7 C485.74,357.66 486.8,357.64 487.85,357.61 C488.89,357.59 489.92,357.58 490.97,357.56 C492.01,357.55 493.06,357.51 494.09,357.52 C495.13,357.53 496.16,357.58 497.17,357.62 C498.18,357.66 499.18,357.78 500.15,357.77 C501.11,357.77 502.04,357.64 502.93,357.57 C503.83,357.5 504.66,357.39 505.52,357.34 C506.39,357.29 507.22,357.27 508.13,357.26 C509.04,357.26 509.95,357.45 510.96,357.33 C511.97,357.22 513.05,356.83 514.18,356.56 C515.31,356.29 516.5,356.04 517.72,355.73 C518.93,355.42 520.22,355.01 521.47,354.72 C522.72,354.43 523.95,354.36 525.23,353.98 C526.5,353.6 527.8,352.9 529.12,352.43 C530.43,351.95 531.78,351.54 533.1,351.14 C534.42,350.74 535.75,350.41 537.02,350.02 C538.29,349.62 539.5,349.43 540.74,348.76 C541.98,348.1 543.23,347.02 544.46,346.03 C545.69,345.04 546.88,344 548.13,342.83 C549.38,341.66 550.66,340.29 551.99,339.04 C553.31,337.78 555.42,335.92 556.1,335.3" fill="none" stroke="#fff" stroke-opacity="0.55" stroke-width="0.6"/>
<path d="M459.38,340.47 C459.83,340.45 461.16,340.36 462.05,340.34 C462.94,340.31 463.84,340.31 464.74,340.33 C465.63,340.35 466.54,340.4 467.43,340.47 C468.31,340.54 469.19,340.64 470.07,340.75 C470.95,340.87 471.82,341 472.72,341.13 C473.61,341.27 474.52,341.44 475.46,341.56 C476.4,341.69 477.37,341.84 478.37,341.89 C479.37,341.94 480.41,341.89 481.46,341.88 C482.5,341.87 483.57,341.83 484.63,341.83 C485.7,341.83 486.77,341.86 487.83,341.89 C488.88,341.93 489.93,341.98 490.98,342.02 C492.04,342.06 493.1,342.08 494.15,342.16 C495.2,342.23 496.26,342.34 497.28,342.46 C498.31,342.58 499.33,342.8 500.3,342.88 C501.27,342.95 502.2,342.9 503.09,342.91 C503.98,342.91 504.77,342.87 505.62,342.9 C506.47,342.92 507.28,342.98 508.19,343.07 C509.1,343.16 510.02,343.53 511.07,343.44 C512.12,343.35 513.28,342.87 514.5,342.56 C515.72,342.24 517.05,341.89 518.38,341.56 C519.72,341.22 521.14,340.81 522.52,340.53 C523.89,340.25 525.23,340.3 526.63,339.87 C528.03,339.44 529.47,338.54 530.93,337.95 C532.4,337.37 533.92,336.86 535.41,336.35 C536.9,335.83 538.42,335.42 539.87,334.87 C541.32,334.32 542.71,333.94 544.13,333.05 C545.55,332.15 547.68,330.09 548.39,329.5" fill="none" stroke="#fff" stroke-opacity="0.55" stroke-width="0.6"/>
<path d="M472.64,324.98 C473.09,325.06 474.4,325.33 475.34,325.47 C476.27,325.62 477.24,325.78 478.25,325.85 C479.25,325.92 480.3,325.88 481.36,325.89 C482.41,325.91 483.5,325.91 484.57,325.96 C485.65,326 486.74,326.09 487.81,326.18 C488.88,326.26 489.93,326.38 491,326.48 C492.06,326.58 493.15,326.66 494.22,326.79 C495.28,326.93 496.36,327.1 497.4,327.3 C498.44,327.5 499.48,327.82 500.45,327.98 C501.43,328.14 502.36,328.16 503.24,328.24 C504.12,328.32 504.89,328.34 505.72,328.45 C506.56,328.55 507.34,328.7 508.25,328.88 C509.16,329.07 510.09,329.6 511.18,329.55 C512.28,329.49 513.51,328.92 514.82,328.56 C516.13,328.2 517.59,327.75 519.05,327.38 C520.5,327.01 522.07,326.61 523.57,326.34 C525.07,326.07 526.5,326.23 528.03,325.76 C529.56,325.28 531.14,324.18 532.75,323.48 C534.37,322.78 536.06,322.18 537.72,321.56 C539.38,320.93 541.89,320.03 542.72,319.72" fill="none" stroke="#fff" stroke-opacity="0.55" stroke-width="0.6"/>
<path d="M487.79,310.46 C488.33,310.54 489.93,310.77 491.01,310.94 C492.09,311.1 493.19,311.23 494.28,311.43 C495.36,311.63 496.46,311.86 497.51,312.14 C498.56,312.41 499.62,312.85 500.6,313.09 C501.58,313.33 502.53,313.43 503.4,313.58 C504.27,313.73 505,313.81 505.82,314 C506.64,314.19 507.4,314.42 508.31,314.69 C509.22,314.97 510.15,315.68 511.29,315.65 C512.43,315.63 513.74,314.96 515.14,314.56 C516.55,314.15 518.13,313.61 519.71,313.21 C521.29,312.81 523,312.42 524.62,312.15 C526.24,311.89 527.78,312.17 529.44,311.64 C531.1,311.12 533.72,309.45 534.57,309.01" fill="none" stroke="#fff" stroke-opacity="0.55" stroke-width="0.6"/>
<defs><linearGradient id="gl0" gradientUnits="userSpaceOnUse" x1="489.92" y1="529.2" x2="474.31" y2="465.71"><stop offset="0" stop-color="#506bcd"/><stop offset="0.17" stop-color="#7897df"/><stop offset="0.33" stop-color="#94acda"/><stop offset="0.5" stop-color="#aab6c9"/><stop offset="0.67" stop-color="#bdb6b2"/><stop offset="0.83" stop-color="#ceac9a"/><stop offset="1" stop-color="#d69b82"/></linearGradient><linearGradient id="gl1" gradientUnits="userSpaceOnUse" x1="492.11" y1="529.68" x2="477.48" y2="465.02"><stop offset="0" stop-color="#4c66ca"/><stop offset="0.17" stop-color="#7695df"/><stop offset="0.33" stop-color="#94acda"/><stop offset="0.5" stop-color="#aab6c9"/><stop offset="0.67" stop-color="#bdb6b2"/><stop offset="0.83" stop-color="#cfab99"/><stop offset="1" stop-color="#d7997f"/></linearGradient><linearGradient id="gl2" gradientUnits="userSpaceOnUse" x1="494.88" y1="530.29" x2="481.48" y2="464.14"><stop offset="0" stop-color="#4a64c9"/><stop offset="0.17" stop-color="#7594df"/><stop offset="0.33" stop-color="#93acdb"/><stop offset="0.5" stop-color="#aab6c9"/><stop offset="0.67" stop-color="#beb5b1"/><stop offset="0.83" stop-color="#cfaa98"/><stop offset="1" stop-color="#d7977d"/></linearGradient><linearGradient id="gl3" gradientUnits="userSpaceOnUse" x1="498.01" y1="530.97" x2="485.71" y2="463.22"><stop offset="0" stop-color="#4861c7"/><stop offset="0.17" stop-color="#7292de"/><stop offset="0.33" stop-color="#92abdb"/><stop offset="0.5" stop-color="#aab6c9"/><stop offset="0.67" stop-color="#bfb5af"/><stop offset="0.83" stop-color="#d0a995"/><stop offset="1" stop-color="#d7947a"/></linearGradient><linearGradient id="gl4" gradientUnits="userSpaceOnUse" x1="501.32" y1="531.62" x2="489.65" y2="462.36"><stop offset="0" stop-color="#455cc3"/><stop offset="0.17" stop-color="#7190de"/><stop offset="0.33" stop-color="#92abdb"/><stop offset="0.5" stop-color="#aab6c9"/><stop offset="0.67" stop-color="#bfb5b0"/><stop offset="0.83" stop-color="#d1a894"/><stop offset="1" stop-color="#d79278"/></linearGradient><linearGradient id="gl5" gradientUnits="userSpaceOnUse" x1="504.58" y1="532.17" x2="493.29" y2="461.59"><stop offset="0" stop-color="#4359c1"/><stop offset="0.17" stop-color="#708fde"/><stop offset="0.33" stop-color="#91aadb"/><stop offset="0.5" stop-color="#aab6c9"/><stop offset="0.67" stop-color="#c0b5ae"/><stop offset="0.83" stop-color="#d1a793"/><stop offset="1" stop-color="#d79177"/></linearGradient><linearGradient id="gl6" gradientUnits="userSpaceOnUse" x1="507.66" y1="532.59" x2="496.88" y2="460.84"><stop offset="0" stop-color="#4055be"/><stop offset="0.17" stop-color="#6e8ddd"/><stop offset="0.33" stop-color="#90a9dc"/><stop offset="0.5" stop-color="#aab6c9"/><stop offset="0.67" stop-color="#c0b5af"/><stop offset="0.83" stop-color="#d2a792"/><stop offset="1" stop-color="#d78f74"/></linearGradient><linearGradient id="gl7" gradientUnits="userSpaceOnUse" x1="510.59" y1="532.98" x2="500.57" y2="460.04"><stop offset="0" stop-color="#3f53bd"/><stop offset="0.17" stop-color="#6d8cdd"/><stop offset="0.33" stop-color="#90aadc"/><stop offset="0.5" stop-color="#abb6c9"/><stop offset="0.67" stop-color="#c1b4ad"/><stop offset="0.83" stop-color="#d2a58f"/><stop offset="1" stop-color="#d78c71"/></linearGradient><linearGradient id="gl8" gradientUnits="userSpaceOnUse" x1="513.51" y1="533.4" x2="504.53" y2="459.1"><stop offset="0" stop-color="#3d50ba"/><stop offset="0.17" stop-color="#6d8cdd"/><stop offset="0.33" stop-color="#90aadc"/><stop offset="0.5" stop-color="#abb6c9"/><stop offset="0.67" stop-color="#c2b4ac"/><stop offset="0.83" stop-color="#d3a48e"/><stop offset="1" stop-color="#d78a6f"/></linearGradient><linearGradient id="gl9" gradientUnits="userSpaceOnUse" x1="516.47" y1="533.72" x2="508.84" y2="457.99"><stop offset="0" stop-color="#3b4db8"/><stop offset="0.17" stop-color="#6c8bdd"/><stop offset="0.33" stop-color="#90aadc"/><stop offset="0.5" stop-color="#acb7c8"/><stop offset="0.67" stop-color="#c3b4ab"/><stop offset="0.83" stop-color="#d4a28c"/><stop offset="1" stop-color="#d7886c"/></linearGradient><linearGradient id="gl10" gradientUnits="userSpaceOnUse" x1="519.49" y1="533.83" x2="513.44" y2="456.74"><stop offset="0" stop-color="#3a4bb6"/><stop offset="0.17" stop-color="#6a8adc"/><stop offset="0.33" stop-color="#90aadc"/><stop offset="0.5" stop-color="#acb7c8"/><stop offset="0.67" stop-color="#c4b3a9"/><stop offset="0.83" stop-color="#d4a189"/><stop offset="1" stop-color="#d7856a"/></linearGradient><linearGradient id="gl11" gradientUnits="userSpaceOnUse" x1="522.61" y1="533.62" x2="518.19" y2="455.41"><stop offset="0" stop-color="#3848b4"/><stop offset="0.17" stop-color="#6a8adc"/><stop offset="0.33" stop-color="#90aadc"/><stop offset="0.5" stop-color="#adb7c7"/><stop offset="0.67" stop-color="#c5b2a8"/><stop offset="0.83" stop-color="#d5a088"/><stop offset="1" stop-color="#d68166"/></linearGradient><linearGradient id="gl12" gradientUnits="userSpaceOnUse" x1="525.87" y1="532.97" x2="522.93" y2="454.08"><stop offset="0" stop-color="#3848b4"/><stop offset="0.17" stop-color="#6a8adc"/><stop offset="0.33" stop-color="#91aadb"/><stop offset="0.5" stop-color="#adb7c6"/><stop offset="0.67" stop-color="#c7b1a6"/><stop offset="0.83" stop-color="#d59e86"/><stop offset="1" stop-color="#d67e64"/></linearGradient><linearGradient id="gl13" gradientUnits="userSpaceOnUse" x1="529.34" y1="531.84" x2="527.67" y2="452.78"><stop offset="0" stop-color="#3b4db8"/><stop offset="0.17" stop-color="#6e8ddd"/><stop offset="0.33" stop-color="#94acda"/><stop offset="0.5" stop-color="#b0b7c3"/><stop offset="0.67" stop-color="#c8b0a4"/><stop offset="0.83" stop-color="#d69b82"/><stop offset="1" stop-color="#d57a60"/></linearGradient><linearGradient id="gl14" gradientUnits="userSpaceOnUse" x1="532.99" y1="530.28" x2="532.45" y2="451.49"><stop offset="0" stop-color="#4055be"/><stop offset="0.17" stop-color="#7393df"/><stop offset="0.33" stop-color="#98aed8"/><stop offset="0.5" stop-color="#b3b7be"/><stop offset="0.67" stop-color="#cbae9f"/><stop offset="0.83" stop-color="#d7987e"/><stop offset="1" stop-color="#d3765c"/></linearGradient><linearGradient id="gl15" gradientUnits="userSpaceOnUse" x1="536.75" y1="528.38" x2="537.22" y2="450.2"><stop offset="0" stop-color="#455cc3"/><stop offset="0.17" stop-color="#7897df"/><stop offset="0.33" stop-color="#9cb1d6"/><stop offset="0.5" stop-color="#b6b7ba"/><stop offset="0.67" stop-color="#cdac9b"/><stop offset="0.83" stop-color="#d79379"/><stop offset="1" stop-color="#d27158"/></linearGradient><linearGradient id="gl16" gradientUnits="userSpaceOnUse" x1="540.54" y1="526.25" x2="541.77" y2="448.93"><stop offset="0" stop-color="#4a64c9"/><stop offset="0.17" stop-color="#7c9bdf"/><stop offset="0.33" stop-color="#a0b2d3"/><stop offset="0.5" stop-color="#b9b7b6"/><stop offset="0.67" stop-color="#d0a997"/><stop offset="0.83" stop-color="#d79075"/><stop offset="1" stop-color="#d16d55"/></linearGradient><linearGradient id="gl17" gradientUnits="userSpaceOnUse" x1="544.28" y1="524" x2="545.94" y2="447.7"><stop offset="0" stop-color="#506bcd"/><stop offset="0.17" stop-color="#829fdf"/><stop offset="0.33" stop-color="#a3b4d0"/><stop offset="0.5" stop-color="#bcb6b3"/><stop offset="0.67" stop-color="#d1a793"/><stop offset="0.83" stop-color="#d78c71"/><stop offset="1" stop-color="#cf6851"/></linearGradient><linearGradient id="gl18" gradientUnits="userSpaceOnUse" x1="547.87" y1="521.72" x2="549.68" y2="446.52"><stop offset="0" stop-color="#5572d1"/><stop offset="0.17" stop-color="#86a3de"/><stop offset="0.33" stop-color="#a7b5cd"/><stop offset="0.5" stop-color="#c0b5ae"/><stop offset="0.67" stop-color="#d3a48e"/><stop offset="0.83" stop-color="#d7896e"/><stop offset="1" stop-color="#cd634e"/></linearGradient><linearGradient id="gl19" gradientUnits="userSpaceOnUse" x1="551.32" y1="519.41" x2="553.11" y2="445.36"><stop offset="0" stop-color="#5b78d5"/><stop offset="0.17" stop-color="#8ca7dd"/><stop offset="0.33" stop-color="#abb6c9"/><stop offset="0.5" stop-color="#c3b3aa"/><stop offset="0.67" stop-color="#d4a28b"/><stop offset="0.83" stop-color="#d68469"/><stop offset="1" stop-color="#cb5e4a"/></linearGradient><linearGradient id="gl20" gradientUnits="userSpaceOnUse" x1="554.67" y1="516.98" x2="556.43" y2="444.22"><stop offset="0" stop-color="#607fd8"/><stop offset="0.17" stop-color="#91aadb"/><stop offset="0.33" stop-color="#aeb7c5"/><stop offset="0.5" stop-color="#c7b1a6"/><stop offset="0.67" stop-color="#d59e86"/><stop offset="0.83" stop-color="#d68065"/><stop offset="1" stop-color="#c95947"/></linearGradient><linearGradient id="gl21" gradientUnits="userSpaceOnUse" x1="557.96" y1="514.43" x2="559.8" y2="443.07"><stop offset="0" stop-color="#6685da"/><stop offset="0.17" stop-color="#95adda"/><stop offset="0.33" stop-color="#b1b7c1"/><stop offset="0.5" stop-color="#caafa1"/><stop offset="0.67" stop-color="#d69a80"/><stop offset="0.83" stop-color="#d57c61"/><stop offset="1" stop-color="#c75443"/></linearGradient><linearGradient id="gl22" gradientUnits="userSpaceOnUse" x1="561.16" y1="511.81" x2="563.26" y2="441.89"><stop offset="0" stop-color="#6d8cdd"/><stop offset="0.17" stop-color="#9ab0d7"/><stop offset="0.33" stop-color="#b5b7bb"/><stop offset="0.5" stop-color="#cdad9d"/><stop offset="0.67" stop-color="#d7977d"/><stop offset="0.83" stop-color="#d4775d"/><stop offset="1" stop-color="#c44e40"/></linearGradient><linearGradient id="gl23" gradientUnits="userSpaceOnUse" x1="564.27" y1="509.16" x2="566.74" y2="440.7"><stop offset="0" stop-color="#7292de"/><stop offset="0.17" stop-color="#9fb2d4"/><stop offset="0.33" stop-color="#b8b7b7"/><stop offset="0.5" stop-color="#cfaa98"/><stop offset="0.67" stop-color="#d79278"/><stop offset="0.83" stop-color="#d27158"/><stop offset="1" stop-color="#c2493c"/></linearGradient><linearGradient id="gl24" gradientUnits="userSpaceOnUse" x1="567.27" y1="506.53" x2="570.22" y2="439.53"><stop offset="0" stop-color="#7897df"/><stop offset="0.17" stop-color="#a3b4d0"/><stop offset="0.33" stop-color="#bcb6b3"/><stop offset="0.5" stop-color="#d1a793"/><stop offset="0.67" stop-color="#d78e73"/><stop offset="0.83" stop-color="#d16d55"/><stop offset="1" stop-color="#c0453a"/></linearGradient><linearGradient id="gl25" gradientUnits="userSpaceOnUse" x1="570.14" y1="503.94" x2="573.7" y2="438.41"><stop offset="0" stop-color="#7d9cdf"/><stop offset="0.17" stop-color="#a7b5cd"/><stop offset="0.33" stop-color="#c0b5ae"/><stop offset="0.5" stop-color="#d3a58f"/><stop offset="0.67" stop-color="#d78a6f"/><stop offset="0.83" stop-color="#cf6851"/><stop offset="1" stop-color="#bd3f37"/></linearGradient><linearGradient id="gl26" gradientUnits="userSpaceOnUse" x1="572.87" y1="501.34" x2="577.17" y2="437.35"><stop offset="0" stop-color="#829fdf"/><stop offset="0.17" stop-color="#a9b6ca"/><stop offset="0.33" stop-color="#c3b4ab"/><stop offset="0.5" stop-color="#d4a18a"/><stop offset="0.67" stop-color="#d7866b"/><stop offset="0.83" stop-color="#cd634e"/><stop offset="1" stop-color="#ba3934"/></linearGradient><linearGradient id="gl27" gradientUnits="userSpaceOnUse" x1="575.47" y1="498.72" x2="580.65" y2="436.34"><stop offset="0" stop-color="#85a2df"/><stop offset="0.17" stop-color="#adb7c7"/><stop offset="0.33" stop-color="#c6b2a7"/><stop offset="0.5" stop-color="#d5a088"/><stop offset="0.67" stop-color="#d68267"/><stop offset="0.83" stop-color="#cc604b"/><stop offset="1" stop-color="#b83432"/></linearGradient><linearGradient id="gl28" gradientUnits="userSpaceOnUse" x1="577.98" y1="496.11" x2="584.13" y2="435.39"><stop offset="0" stop-color="#89a5de"/><stop offset="0.17" stop-color="#afb7c4"/><stop offset="0.33" stop-color="#c8b0a3"/><stop offset="0.5" stop-color="#d69d84"/><stop offset="0.67" stop-color="#d68065"/><stop offset="0.83" stop-color="#ca5b48"/><stop offset="1" stop-color="#b52c2e"/></linearGradient><linearGradient id="gl29" gradientUnits="userSpaceOnUse" x1="580.44" y1="493.54" x2="587.61" y2="434.53"><stop offset="0" stop-color="#8ea8dd"/><stop offset="0.17" stop-color="#b1b7c1"/><stop offset="0.33" stop-color="#cbafa0"/><stop offset="0.5" stop-color="#d79a81"/><stop offset="0.67" stop-color="#d57c61"/><stop offset="0.83" stop-color="#c85644"/><stop offset="1" stop-color="#b2282c"/></linearGradient><linearGradient id="gl30" gradientUnits="userSpaceOnUse" x1="582.88" y1="491.06" x2="591.09" y2="433.79"><stop offset="0" stop-color="#91aadb"/><stop offset="0.17" stop-color="#b4b7bc"/><stop offset="0.33" stop-color="#cdad9d"/><stop offset="0.5" stop-color="#d7977d"/><stop offset="0.67" stop-color="#d4775d"/><stop offset="0.83" stop-color="#c65242"/><stop offset="1" stop-color="#b0212a"/></linearGradient><linearGradient id="gl31" gradientUnits="userSpaceOnUse" x1="585.34" y1="488.69" x2="594.57" y2="433.14"><stop offset="0" stop-color="#95adda"/><stop offset="0.17" stop-color="#b6b7b9"/><stop offset="0.33" stop-color="#ceab99"/><stop offset="0.5" stop-color="#d79379"/><stop offset="0.67" stop-color="#d3745b"/><stop offset="0.83" stop-color="#c44e40"/><stop offset="1" stop-color="#ae1928"/></linearGradient><linearGradient id="gl32" gradientUnits="userSpaceOnUse" x1="587.82" y1="486.38" x2="598.04" y2="432.6"><stop offset="0" stop-color="#97aed9"/><stop offset="0.17" stop-color="#b8b7b7"/><stop offset="0.33" stop-color="#d0a997"/><stop offset="0.5" stop-color="#d79176"/><stop offset="0.67" stop-color="#d27158"/><stop offset="0.83" stop-color="#c34b3d"/><stop offset="1" stop-color="#ab1027"/></linearGradient><linearGradient id="gl33" gradientUnits="userSpaceOnUse" x1="590.29" y1="484.11" x2="601.52" y2="432.21"><stop offset="0" stop-color="#9ab0d7"/><stop offset="0.17" stop-color="#bab7b5"/><stop offset="0.33" stop-color="#d1a894"/><stop offset="0.5" stop-color="#d78f74"/><stop offset="0.67" stop-color="#d16e56"/><stop offset="0.83" stop-color="#c1473b"/><stop offset="1" stop-color="#a80825"/></linearGradient><linearGradient id="gl34" gradientUnits="userSpaceOnUse" x1="592.74" y1="481.92" x2="605" y2="432.04"><stop offset="0" stop-color="#9cb1d6"/><stop offset="0.17" stop-color="#bcb6b3"/><stop offset="0.33" stop-color="#d2a692"/><stop offset="0.5" stop-color="#d78e73"/><stop offset="0.67" stop-color="#d16d55"/><stop offset="0.83" stop-color="#c0453a"/><stop offset="1" stop-color="#a70424"/></linearGradient><linearGradient id="gl35" gradientUnits="userSpaceOnUse" x1="595.14" y1="479.85" x2="608.48" y2="432.12"><stop offset="0" stop-color="#9fb2d4"/><stop offset="0.17" stop-color="#beb5b1"/><stop offset="0.33" stop-color="#d2a691"/><stop offset="0.5" stop-color="#d78c71"/><stop offset="0.67" stop-color="#d16d55"/><stop offset="0.83" stop-color="#c1473b"/><stop offset="1" stop-color="#a80825"/></linearGradient><linearGradient id="gl36" gradientUnits="userSpaceOnUse" x1="597.47" y1="477.95" x2="611.96" y2="432.43"><stop offset="0" stop-color="#a1b3d2"/><stop offset="0.17" stop-color="#c0b5ae"/><stop offset="0.33" stop-color="#d2a58f"/><stop offset="0.5" stop-color="#d78c71"/><stop offset="0.67" stop-color="#d16d55"/><stop offset="0.83" stop-color="#c2493c"/><stop offset="1" stop-color="#ab1027"/></linearGradient><linearGradient id="gl37" gradientUnits="userSpaceOnUse" x1="599.69" y1="476.24" x2="615.43" y2="432.88"><stop offset="0" stop-color="#a2b3d1"/><stop offset="0.17" stop-color="#c1b4ad"/><stop offset="0.33" stop-color="#d3a58f"/><stop offset="0.5" stop-color="#d78c71"/><stop offset="0.67" stop-color="#d16e56"/><stop offset="0.83" stop-color="#c34b3d"/><stop offset="1" stop-color="#ae1928"/></linearGradient><linearGradient id="gl38" gradientUnits="userSpaceOnUse" x1="601.8" y1="474.77" x2="618.91" y2="433.35"><stop offset="0" stop-color="#a4b4d0"/><stop offset="0.17" stop-color="#c2b4ac"/><stop offset="0.33" stop-color="#d3a58f"/><stop offset="0.5" stop-color="#d78e73"/><stop offset="0.67" stop-color="#d27057"/><stop offset="0.83" stop-color="#c44d3f"/><stop offset="1" stop-color="#b0212a"/></linearGradient><linearGradient id="gl39" gradientUnits="userSpaceOnUse" x1="603.8" y1="473.5" x2="622.45" y2="433.82"><stop offset="0" stop-color="#a5b5cf"/><stop offset="0.17" stop-color="#c2b4ac"/><stop offset="0.33" stop-color="#d3a58f"/><stop offset="0.5" stop-color="#d78e73"/><stop offset="0.67" stop-color="#d27158"/><stop offset="0.83" stop-color="#c55041"/><stop offset="1" stop-color="#b2282c"/></linearGradient><linearGradient id="gl40" gradientUnits="userSpaceOnUse" x1="605.71" y1="472.41" x2="626.05" y2="434.33"><stop offset="0" stop-color="#a6b5ce"/><stop offset="0.17" stop-color="#c2b4ac"/><stop offset="0.33" stop-color="#d2a691"/><stop offset="0.5" stop-color="#d79075"/><stop offset="0.67" stop-color="#d3745b"/><stop offset="0.83" stop-color="#c85644"/><stop offset="1" stop-color="#b62f30"/></linearGradient><linearGradient id="gl41" gradientUnits="userSpaceOnUse" x1="607.58" y1="471.46" x2="629.62" y2="434.87"><stop offset="0" stop-color="#a8b5cc"/><stop offset="0.17" stop-color="#c2b4ac"/><stop offset="0.33" stop-color="#d2a691"/><stop offset="0.5" stop-color="#d79176"/><stop offset="0.67" stop-color="#d4775d"/><stop offset="0.83" stop-color="#c95947"/><stop offset="1" stop-color="#b93633"/></linearGradient><linearGradient id="gl42" gradientUnits="userSpaceOnUse" x1="609.41" y1="470.6" x2="633" y2="435.44"><stop offset="0" stop-color="#a9b6cb"/><stop offset="0.17" stop-color="#c3b4ab"/><stop offset="0.33" stop-color="#d2a792"/><stop offset="0.5" stop-color="#d79278"/><stop offset="0.67" stop-color="#d57a60"/><stop offset="0.83" stop-color="#cb5e4a"/><stop offset="1" stop-color="#bc3d36"/></linearGradient><linearGradient id="gl43" gradientUnits="userSpaceOnUse" x1="611.25" y1="469.81" x2="636.09" y2="436.02"><stop offset="0" stop-color="#a9b6ca"/><stop offset="0.17" stop-color="#c3b4ab"/><stop offset="0.33" stop-color="#d2a692"/><stop offset="0.5" stop-color="#d7957a"/><stop offset="0.67" stop-color="#d57d62"/><stop offset="0.83" stop-color="#cd624c"/><stop offset="1" stop-color="#c0453a"/></linearGradient><linearGradient id="gl44" gradientUnits="userSpaceOnUse" x1="613.05" y1="469.09" x2="638.9" y2="436.62"><stop offset="0" stop-color="#aab6ca"/><stop offset="0.17" stop-color="#c2b4ac"/><stop offset="0.33" stop-color="#d1a894"/><stop offset="0.5" stop-color="#d7977d"/><stop offset="0.67" stop-color="#d68166"/><stop offset="0.83" stop-color="#cf6851"/><stop offset="1" stop-color="#c44d3f"/></linearGradient><linearGradient id="gl45" gradientUnits="userSpaceOnUse" x1="614.78" y1="468.44" x2="641.51" y2="437.23"><stop offset="0" stop-color="#aab6c9"/><stop offset="0.17" stop-color="#c2b4ac"/><stop offset="0.33" stop-color="#d0a995"/><stop offset="0.5" stop-color="#d7997f"/><stop offset="0.67" stop-color="#d7856a"/><stop offset="0.83" stop-color="#d16d55"/><stop offset="1" stop-color="#c75443"/></linearGradient><linearGradient id="gl46" gradientUnits="userSpaceOnUse" x1="616.45" y1="467.9" x2="643.9" y2="437.88"><stop offset="0" stop-color="#abb6c9"/><stop offset="0.17" stop-color="#c1b4ad"/><stop offset="0.33" stop-color="#cfaa98"/><stop offset="0.5" stop-color="#d69b82"/><stop offset="0.67" stop-color="#d7896e"/><stop offset="0.83" stop-color="#d3735a"/><stop offset="1" stop-color="#ca5b48"/></linearGradient><linearGradient id="gl47" gradientUnits="userSpaceOnUse" x1="618.14" y1="467.43" x2="646.1" y2="438.52"><stop offset="0" stop-color="#abb6c9"/><stop offset="0.17" stop-color="#c0b5af"/><stop offset="0.33" stop-color="#ceab99"/><stop offset="0.5" stop-color="#d69d84"/><stop offset="0.67" stop-color="#d78b70"/><stop offset="0.83" stop-color="#d4795f"/><stop offset="1" stop-color="#cd624c"/></linearGradient><linearGradient id="gl48" gradientUnits="userSpaceOnUse" x1="619.92" y1="467.04" x2="648.08" y2="439.05"><stop offset="0" stop-color="#abb6c9"/><stop offset="0.17" stop-color="#c0b5ae"/><stop offset="0.33" stop-color="#cdac9b"/><stop offset="0.5" stop-color="#d59f87"/><stop offset="0.67" stop-color="#d78f74"/><stop offset="0.83" stop-color="#d57d62"/><stop offset="1" stop-color="#cf6851"/></linearGradient><linearGradient id="gl49" gradientUnits="userSpaceOnUse" x1="621.87" y1="466.71" x2="649.85" y2="439.52"><stop offset="0" stop-color="#acb7c8"/><stop offset="0.17" stop-color="#bfb5b0"/><stop offset="0.33" stop-color="#cdad9d"/><stop offset="0.5" stop-color="#d4a28b"/><stop offset="0.67" stop-color="#d79278"/><stop offset="0.83" stop-color="#d68267"/><stop offset="1" stop-color="#d16e56"/></linearGradient><linearGradient id="gl50" gradientUnits="userSpaceOnUse" x1="624.04" y1="466.41" x2="651.45" y2="440.21"><stop offset="0" stop-color="#acb7c8"/><stop offset="0.17" stop-color="#beb5b1"/><stop offset="0.33" stop-color="#cbae9f"/><stop offset="0.5" stop-color="#d3a38d"/><stop offset="0.67" stop-color="#d7967b"/><stop offset="0.83" stop-color="#d7866b"/><stop offset="1" stop-color="#d3765c"/></linearGradient><linearGradient id="gl51" gradientUnits="userSpaceOnUse" x1="626.42" y1="466.13" x2="652.93" y2="441.4"><stop offset="0" stop-color="#abb6c9"/><stop offset="0.17" stop-color="#bcb6b3"/><stop offset="0.33" stop-color="#caafa1"/><stop offset="0.5" stop-color="#d2a691"/><stop offset="0.67" stop-color="#d69a81"/><stop offset="0.83" stop-color="#d78c72"/><stop offset="1" stop-color="#d57d62"/></linearGradient><linearGradient id="gl52" gradientUnits="userSpaceOnUse" x1="628.95" y1="465.87" x2="654.26" y2="443.3"><stop offset="0" stop-color="#aab6c9"/><stop offset="0.17" stop-color="#bab6b5"/><stop offset="0.33" stop-color="#c7b1a6"/><stop offset="0.5" stop-color="#d0a997"/><stop offset="0.67" stop-color="#d5a088"/><stop offset="0.83" stop-color="#d7947a"/><stop offset="1" stop-color="#d7886c"/></linearGradient><linearGradient id="gl53" gradientUnits="userSpaceOnUse" x1="631.61" y1="465.7" x2="655.4" y2="445.84"><stop offset="0" stop-color="#a9b6ca"/><stop offset="0.17" stop-color="#b6b7b9"/><stop offset="0.33" stop-color="#c3b4ab"/><stop offset="0.5" stop-color="#cbae9f"/><stop offset="0.67" stop-color="#d2a692"/><stop offset="0.83" stop-color="#d59e86"/><stop offset="1" stop-color="#d7957a"/></linearGradient><linearGradient id="gl54" gradientUnits="userSpaceOnUse" x1="634.38" y1="465.63" x2="656.47" y2="448.74"><stop offset="0" stop-color="#a9b6ca"/><stop offset="0.17" stop-color="#b4b7bc"/><stop offset="0.33" stop-color="#beb5b1"/><stop offset="0.5" stop-color="#c7b1a6"/><stop offset="0.67" stop-color="#cdac9b"/><stop offset="0.83" stop-color="#d2a792"/><stop offset="1" stop-color="#d59f87"/></linearGradient><linearGradient id="gl55" gradientUnits="userSpaceOnUse" x1="637.23" y1="465.74" x2="657.61" y2="451.69"><stop offset="0" stop-color="#a9b6cb"/><stop offset="0.17" stop-color="#b2b7c0"/><stop offset="0.33" stop-color="#b9b7b6"/><stop offset="0.5" stop-color="#c1b4ad"/><stop offset="0.67" stop-color="#c8b1a5"/><stop offset="0.83" stop-color="#cdad9d"/><stop offset="1" stop-color="#d1a894"/></linearGradient><linearGradient id="gl56" gradientUnits="userSpaceOnUse" x1="640.15" y1="466.04" x2="658.91" y2="454.48"><stop offset="0" stop-color="#a7b5cd"/><stop offset="0.17" stop-color="#b0b7c3"/><stop offset="0.33" stop-color="#b5b7bb"/><stop offset="0.5" stop-color="#bbb6b4"/><stop offset="0.67" stop-color="#c1b4ad"/><stop offset="0.83" stop-color="#c6b2a7"/><stop offset="1" stop-color="#cbafa0"/></linearGradient><linearGradient id="gl57" gradientUnits="userSpaceOnUse" x1="643.16" y1="466.53" x2="660.36" y2="457.16"><stop offset="0" stop-color="#a5b5cf"/><stop offset="0.17" stop-color="#adb7c7"/><stop offset="0.33" stop-color="#b1b7c1"/><stop offset="0.5" stop-color="#b5b7ba"/><stop offset="0.67" stop-color="#bab7b5"/><stop offset="0.83" stop-color="#bfb5b0"/><stop offset="1" stop-color="#c4b3aa"/></linearGradient><linearGradient id="gl58" gradientUnits="userSpaceOnUse" x1="646.29" y1="467.18" x2="661.9" y2="459.86"><stop offset="0" stop-color="#a2b4d1"/><stop offset="0.17" stop-color="#a8b6cb"/><stop offset="0.33" stop-color="#aeb7c6"/><stop offset="0.5" stop-color="#b1b7c1"/><stop offset="0.67" stop-color="#b4b7bc"/><stop offset="0.83" stop-color="#b7b7b8"/><stop offset="1" stop-color="#bbb6b4"/></linearGradient><linearGradient id="gl59" gradientUnits="userSpaceOnUse" x1="649.5" y1="467.98" x2="663.52" y2="462.58"><stop offset="0" stop-color="#a0b2d3"/><stop offset="0.17" stop-color="#a5b5cf"/><stop offset="0.33" stop-color="#a9b6cb"/><stop offset="0.5" stop-color="#acb7c8"/><stop offset="0.67" stop-color="#afb7c4"/><stop offset="0.83" stop-color="#b1b7c1"/><stop offset="1" stop-color="#b3b7bd"/></linearGradient><linearGradient id="gl60" gradientUnits="userSpaceOnUse" x1="652.77" y1="468.94" x2="665.24" y2="465.39"><stop offset="0" stop-color="#9db1d5"/><stop offset="0.17" stop-color="#a2b3d2"/><stop offset="0.33" stop-color="#a4b4cf"/><stop offset="0.5" stop-color="#a7b5cd"/><stop offset="0.67" stop-color="#a9b6ca"/><stop offset="0.83" stop-color="#acb7c8"/><stop offset="1" stop-color="#adb7c6"/></linearGradient><linearGradient id="gl61" gradientUnits="userSpaceOnUse" x1="656.03" y1="470.08" x2="667.11" y2="468.36"><stop offset="0" stop-color="#9bb0d6"/><stop offset="0.17" stop-color="#9eb2d5"/><stop offset="0.33" stop-color="#a0b2d3"/><stop offset="0.5" stop-color="#a2b4d1"/><stop offset="0.67" stop-color="#a4b4d0"/><stop offset="0.83" stop-color="#a6b5ce"/><stop offset="1" stop-color="#a8b5cc"/></linearGradient><linearGradient id="gl62" gradientUnits="userSpaceOnUse" x1="659.27" y1="471.41" x2="669.09" y2="471.45"><stop offset="0" stop-color="#98afd8"/><stop offset="0.17" stop-color="#9ab0d7"/><stop offset="0.33" stop-color="#9cb1d6"/><stop offset="0.5" stop-color="#9db1d5"/><stop offset="0.67" stop-color="#9fb2d4"/><stop offset="0.83" stop-color="#a0b2d3"/><stop offset="1" stop-color="#a2b3d2"/></linearGradient><linearGradient id="gl63" gradientUnits="userSpaceOnUse" x1="662.64" y1="473.06" x2="671.07" y2="474.41"><stop offset="0" stop-color="#94acda"/><stop offset="0.17" stop-color="#95adda"/><stop offset="0.33" stop-color="#97aed9"/><stop offset="0.5" stop-color="#98afd8"/><stop offset="0.67" stop-color="#99afd8"/><stop offset="0.83" stop-color="#9ab0d7"/><stop offset="1" stop-color="#9aafd7"/></linearGradient><linearGradient id="gl64" gradientUnits="userSpaceOnUse" x1="666.23" y1="475.13" x2="672.95" y2="477"><stop offset="0" stop-color="#90aadc"/><stop offset="0.17" stop-color="#91aadb"/><stop offset="0.33" stop-color="#91aadb"/><stop offset="0.5" stop-color="#92abdb"/><stop offset="0.67" stop-color="#93acdb"/><stop offset="0.83" stop-color="#93abdb"/><stop offset="1" stop-color="#94acda"/></linearGradient><linearGradient id="gl65" gradientUnits="userSpaceOnUse" x1="669.91" y1="477.44" x2="674.76" y2="479.18"><stop offset="0" stop-color="#8ca7dd"/><stop offset="0.17" stop-color="#8ca7dd"/><stop offset="0.33" stop-color="#8da8dd"/><stop offset="0.5" stop-color="#8da7dd"/><stop offset="0.67" stop-color="#8da7dd"/><stop offset="0.83" stop-color="#8ea8dd"/><stop offset="1" stop-color="#8ea8dd"/></linearGradient><linearGradient id="gl66" gradientUnits="userSpaceOnUse" x1="673.42" y1="479.77" x2="676.55" y2="481.03"><stop offset="0" stop-color="#87a4de"/><stop offset="0.17" stop-color="#87a4de"/><stop offset="0.33" stop-color="#87a3de"/><stop offset="0.5" stop-color="#88a4de"/><stop offset="0.67" stop-color="#88a4de"/><stop offset="0.83" stop-color="#88a4de"/><stop offset="1" stop-color="#88a4de"/></linearGradient><linearGradient id="gl67" gradientUnits="userSpaceOnUse" x1="676.52" y1="481.87" x2="678.18" y2="482.55"><stop offset="0" stop-color="#83a0df"/><stop offset="0.17" stop-color="#83a0df"/><stop offset="0.33" stop-color="#83a0df"/><stop offset="0.5" stop-color="#83a0df"/><stop offset="0.67" stop-color="#83a0df"/><stop offset="0.83" stop-color="#83a0df"/><stop offset="1" stop-color="#84a1df"/></linearGradient><linearGradient id="gl68" gradientUnits="userSpaceOnUse" x1="678.97" y1="483.52" x2="679.47" y2="483.71"><stop offset="0" stop-color="#7f9ddf"/><stop offset="0.17" stop-color="#7f9ddf"/><stop offset="0.33" stop-color="#7f9ddf"/><stop offset="0.5" stop-color="#7f9ddf"/><stop offset="0.67" stop-color="#7f9ddf"/><stop offset="0.83" stop-color="#7f9ddf"/><stop offset="1" stop-color="#7f9ddf"/></linearGradient></defs>
<path d="M489,529L490.85,529.39L493.37,529.96L479.35,464.61L475.62,465.43L473,466Z" fill="url(#gl0)"/>
<path d="M490.85,529.39L493.37,529.96L496.38,530.63L483.61,463.68L479.35,464.61L475.62,465.43Z" fill="url(#gl1)"/>
<path d="M493.37,529.96L496.38,530.63L499.65,531.31L487.8,462.76L483.61,463.68L479.35,464.61Z" fill="url(#gl2)"/>
<path d="M496.38,530.63L499.65,531.31L502.99,531.93L491.51,461.96L487.8,462.76L483.61,463.68Z" fill="url(#gl3)"/>
<path d="M499.65,531.31L502.99,531.93L506.18,532.4L495.07,461.22L491.51,461.96L487.8,462.76Z" fill="url(#gl4)"/>
<path d="M502.99,531.93L506.18,532.4L509.13,532.77L498.68,460.47L495.07,461.22L491.51,461.96Z" fill="url(#gl5)"/>
<path d="M506.18,532.4L509.13,532.77L512.05,533.2L502.47,459.61L498.68,460.47L495.07,461.22Z" fill="url(#gl6)"/>
<path d="M509.13,532.77L512.05,533.2L514.98,533.59L506.59,458.59L502.47,459.61L498.68,460.47Z" fill="url(#gl7)"/>
<path d="M512.05,533.2L514.98,533.59L517.95,533.84L511.08,457.39L506.59,458.59L502.47,459.61Z" fill="url(#gl8)"/>
<path d="M514.98,533.59L517.95,533.84L521.02,533.82L515.79,456.08L511.08,457.39L506.59,458.59Z" fill="url(#gl9)"/>
<path d="M517.95,533.84L521.02,533.82L524.2,533.42L520.58,454.73L515.79,456.08L511.08,457.39Z" fill="url(#gl10)"/>
<path d="M521.02,533.82L524.2,533.42L527.55,532.53L525.29,453.42L520.58,454.73L515.79,456.08Z" fill="url(#gl11)"/>
<path d="M524.2,533.42L527.55,532.53L531.12,531.16L530.04,452.13L525.29,453.42L520.58,454.73Z" fill="url(#gl12)"/>
<path d="M527.55,532.53L531.12,531.16L534.85,529.4L534.86,450.84L530.04,452.13L525.29,453.42Z" fill="url(#gl13)"/>
<path d="M531.12,531.16L534.85,529.4L538.65,527.36L539.57,449.56L534.86,450.84L530.04,452.13Z" fill="url(#gl14)"/>
<path d="M534.85,529.4L538.65,527.36L542.43,525.14L543.97,448.31L539.57,449.56L534.86,450.84Z" fill="url(#gl15)"/>
<path d="M538.65,527.36L542.43,525.14L546.12,522.85L547.91,447.1L543.97,448.31L539.57,449.56Z" fill="url(#gl16)"/>
<path d="M542.43,525.14L546.12,522.85L549.62,520.59L551.45,445.94L547.91,447.1L543.97,448.31Z" fill="url(#gl17)"/>
<path d="M546.12,522.85L549.62,520.59L553.01,518.23L554.77,444.79L551.45,445.94L547.91,447.1Z" fill="url(#gl18)"/>
<path d="M549.62,520.59L553.01,518.23L556.34,515.73L558.08,443.65L554.77,444.79L551.45,445.94Z" fill="url(#gl19)"/>
<path d="M553.01,518.23L556.34,515.73L559.58,513.13L561.52,442.49L558.08,443.65L554.77,444.79Z" fill="url(#gl20)"/>
<path d="M556.34,515.73L559.58,513.13L562.74,510.48L565,441.3L561.52,442.49L558.08,443.65Z" fill="url(#gl21)"/>
<path d="M559.58,513.13L562.74,510.48L565.8,507.83L568.48,440.1L565,441.3L561.52,442.49Z" fill="url(#gl22)"/>
<path d="M562.74,510.48L565.8,507.83L568.74,505.23L571.96,438.95L568.48,440.1L565,441.3Z" fill="url(#gl23)"/>
<path d="M565.8,507.83L568.74,505.23L571.54,502.65L575.43,437.87L571.96,438.95L568.48,440.1Z" fill="url(#gl24)"/>
<path d="M568.74,505.23L571.54,502.65L574.2,500.03L578.91,436.83L575.43,437.87L571.96,438.95Z" fill="url(#gl25)"/>
<path d="M571.54,502.65L574.2,500.03L576.74,497.41L582.39,435.84L578.91,436.83L575.43,437.87Z" fill="url(#gl26)"/>
<path d="M574.2,500.03L576.74,497.41L579.22,494.81L585.87,434.93L582.39,435.84L578.91,436.83Z" fill="url(#gl27)"/>
<path d="M576.74,497.41L579.22,494.81L581.66,492.28L589.35,434.13L585.87,434.93L582.39,435.84Z" fill="url(#gl28)"/>
<path d="M579.22,494.81L581.66,492.28L584.1,489.85L592.83,433.45L589.35,434.13L585.87,434.93Z" fill="url(#gl29)"/>
<path d="M581.66,492.28L584.1,489.85L586.58,487.53L596.3,432.84L592.83,433.45L589.35,434.13Z" fill="url(#gl30)"/>
<path d="M584.1,489.85L586.58,487.53L589.06,485.23L599.78,432.36L596.3,432.84L592.83,433.45Z" fill="url(#gl31)"/>
<path d="M586.58,487.53L589.06,485.23L591.53,482.99L603.26,432.06L599.78,432.36L596.3,432.84Z" fill="url(#gl32)"/>
<path d="M589.06,485.23L591.53,482.99L593.96,480.85L606.74,432.01L603.26,432.06L599.78,432.36Z" fill="url(#gl33)"/>
<path d="M591.53,482.99L593.96,480.85L596.33,478.85L610.22,432.23L606.74,432.01L603.26,432.06Z" fill="url(#gl34)"/>
<path d="M593.96,480.85L596.33,478.85L598.61,477.04L613.7,432.63L610.22,432.23L606.74,432.01Z" fill="url(#gl35)"/>
<path d="M596.33,478.85L598.61,477.04L600.77,475.45L617.17,433.12L613.7,432.63L610.22,432.23Z" fill="url(#gl36)"/>
<path d="M598.61,477.04L600.77,475.45L602.82,474.09L620.66,433.58L617.17,433.12L613.7,432.63Z" fill="url(#gl37)"/>
<path d="M600.77,475.45L602.82,474.09L604.77,472.92L624.24,434.06L620.66,433.58L617.17,433.12Z" fill="url(#gl38)"/>
<path d="M602.82,474.09L604.77,472.92L606.65,471.91L627.86,434.59L624.24,434.06L620.66,433.58Z" fill="url(#gl39)"/>
<path d="M604.77,472.92L606.65,471.91L608.5,471.01L631.37,435.15L627.86,434.59L624.24,434.06Z" fill="url(#gl40)"/>
<path d="M606.65,471.91L608.5,471.01L610.32,470.2L634.62,435.73L631.37,435.15L627.86,434.59Z" fill="url(#gl41)"/>
<path d="M608.5,471.01L610.32,470.2L612.17,469.43L637.55,436.31L634.62,435.73L631.37,435.15Z" fill="url(#gl42)"/>
<path d="M610.32,470.2L612.17,469.43L613.94,468.74L640.26,436.92L637.55,436.31L634.62,435.73Z" fill="url(#gl43)"/>
<path d="M612.17,469.43L613.94,468.74L615.62,468.15L642.76,437.55L640.26,436.92L637.55,436.31Z" fill="url(#gl44)"/>
<path d="M613.94,468.74L615.62,468.15L617.28,467.65L645.05,438.2L642.76,437.55L640.26,436.92Z" fill="url(#gl45)"/>
<path d="M615.62,468.15L617.28,467.65L619,467.22L647.15,438.83L645.05,438.2L642.76,437.55Z" fill="url(#gl46)"/>
<path d="M617.28,467.65L619,467.22L620.85,466.86L649.01,439.27L647.15,438.83L645.05,438.2Z" fill="url(#gl47)"/>
<path d="M619,467.22L620.85,466.86L622.9,466.55L650.68,439.78L649.01,439.27L647.15,438.83Z" fill="url(#gl48)"/>
<path d="M620.85,466.86L622.9,466.55L625.19,466.27L652.21,440.64L650.68,439.78L649.01,439.27Z" fill="url(#gl49)"/>
<path d="M622.9,466.55L625.19,466.27L627.65,465.99L653.65,442.16L652.21,440.64L650.68,439.78Z" fill="url(#gl50)"/>
<path d="M625.19,466.27L627.65,465.99L630.25,465.76L654.87,444.45L653.65,442.16L652.21,440.64Z" fill="url(#gl51)"/>
<path d="M627.65,465.99L630.25,465.76L632.97,465.63L655.94,447.24L654.87,444.45L653.65,442.16Z" fill="url(#gl52)"/>
<path d="M630.25,465.76L632.97,465.63L635.79,465.64L657,450.24L655.94,447.24L654.87,444.45Z" fill="url(#gl53)"/>
<path d="M632.97,465.63L635.79,465.64L638.67,465.84L658.22,453.13L657,450.24L655.94,447.24Z" fill="url(#gl54)"/>
<path d="M635.79,465.64L638.67,465.84L641.62,466.25L659.61,455.82L658.22,453.13L657,450.24Z" fill="url(#gl55)"/>
<path d="M638.67,465.84L641.62,466.25L644.7,466.82L661.11,458.51L659.61,455.82L658.22,453.13Z" fill="url(#gl56)"/>
<path d="M641.62,466.25L644.7,466.82L647.88,467.54L662.69,461.21L661.11,458.51L659.61,455.82Z" fill="url(#gl57)"/>
<path d="M644.7,466.82L647.88,467.54L651.13,468.42L664.35,463.95L662.69,461.21L661.11,458.51Z" fill="url(#gl58)"/>
<path d="M647.88,467.54L651.13,468.42L654.4,469.47L666.13,466.82L664.35,463.95L662.69,461.21Z" fill="url(#gl59)"/>
<path d="M651.13,468.42L654.4,469.47L657.66,470.69L668.08,469.91L666.13,466.82L664.35,463.95Z" fill="url(#gl60)"/>
<path d="M654.4,469.47L657.66,470.69L660.89,472.12L670.09,472.99L668.08,469.91L666.13,466.82Z" fill="url(#gl61)"/>
<path d="M657.66,470.69L660.89,472.12L664.39,474L672.05,475.83L670.09,472.99L668.08,469.91Z" fill="url(#gl62)"/>
<path d="M660.89,472.12L664.39,474L668.08,476.25L673.85,478.18L672.05,475.83L670.09,472.99Z" fill="url(#gl63)"/>
<path d="M664.39,474L668.08,476.25L671.74,478.63L675.67,480.18L673.85,478.18L672.05,475.83Z" fill="url(#gl64)"/>
<path d="M668.08,476.25L671.74,478.63L675.1,480.9L677.43,481.87L675.67,480.18L673.85,478.18Z" fill="url(#gl65)"/>
<path d="M671.74,478.63L675.1,480.9L677.94,482.84L678.94,483.22L677.43,481.87L675.67,480.18Z" fill="url(#gl66)"/>
<path d="M675.1,480.9L677.94,482.84L680,484.2L680,484.2L678.94,483.22L677.43,481.87Z" fill="url(#gl67)"/>
<path d="M677.94,482.84L680,484.2L680,484.2L680,484.2L680,484.2L678.94,483.22Z" fill="url(#gl68)"/>
<path d="M490.76,529.03 C491.16,529.04 492.3,529.07 493.19,529.1 C494.08,529.14 495.09,529.18 496.11,529.22 C497.13,529.25 498.23,529.29 499.31,529.3 C500.38,529.32 501.5,529.33 502.56,529.31 C503.62,529.28 504.67,529.21 505.68,529.16 C506.68,529.12 507.62,529.06 508.6,529.04 C509.57,529.02 510.53,529.04 511.51,529.03 C512.49,529.02 513.46,529.03 514.46,528.98 C515.46,528.94 516.47,528.9 517.5,528.79 C518.53,528.68 519.58,528.55 520.65,528.34 C521.72,528.13 522.8,527.75 523.93,527.53 C525.05,527.31 526.2,527.13 527.39,527.04 C528.58,526.96 529.82,527.1 531.07,527.02 C532.31,526.94 533.58,526.78 534.85,526.56 C536.12,526.35 537.4,526.07 538.67,525.73 C539.93,525.4 541.82,524.76 542.44,524.57" fill="none" stroke="#fff" stroke-opacity="0.55" stroke-width="0.6"/>
<path d="M487.22,522 C487.52,521.95 488.29,521.78 489.01,521.7 C489.74,521.62 490.63,521.58 491.56,521.53 C492.5,521.48 493.56,521.46 494.62,521.42 C495.68,521.39 496.83,521.37 497.93,521.33 C499.03,521.29 500.15,521.26 501.23,521.2 C502.31,521.14 503.37,521.03 504.4,520.96 C505.42,520.89 506.4,520.82 507.4,520.78 C508.41,520.74 509.4,520.74 510.42,520.71 C511.44,520.68 512.47,520.65 513.52,520.59 C514.58,520.54 515.65,520.48 516.74,520.36 C517.83,520.24 518.95,520.1 520.08,519.89 C521.21,519.67 522.36,519.29 523.54,519.1 C524.72,518.9 525.92,518.73 527.15,518.7 C528.39,518.67 529.67,518.89 530.95,518.9 C532.24,518.9 533.55,518.84 534.85,518.75 C536.15,518.65 537.47,518.5 538.76,518.32 C540.04,518.14 541.33,517.92 542.58,517.69 C543.83,517.46 545.07,517.19 546.26,516.93 C547.45,516.67 548.59,516.41 549.73,516.13 C550.87,515.85 551.98,515.58 553.08,515.24 C554.19,514.89 555.29,514.5 556.38,514.06 C557.46,513.62 559.06,512.84 559.6,512.6" fill="none" stroke="#fff" stroke-opacity="0.55" stroke-width="0.6"/>
<path d="M484.77,512.35 C485.1,512.31 485.94,512.17 486.73,512.09 C487.51,512.02 488.49,511.96 489.5,511.9 C490.51,511.84 491.65,511.79 492.78,511.75 C493.9,511.7 495.1,511.66 496.25,511.61 C497.39,511.56 498.52,511.52 499.63,511.46 C500.74,511.4 501.82,511.3 502.88,511.24 C503.94,511.17 504.95,511.12 506,511.08 C507.04,511.04 508.08,511.03 509.16,510.99 C510.23,510.95 511.32,510.92 512.44,510.86 C513.56,510.8 514.7,510.75 515.87,510.63 C517.03,510.52 518.22,510.38 519.43,510.19 C520.63,509.99 521.85,509.64 523.1,509.46 C524.34,509.29 525.59,509.14 526.88,509.13 C528.17,509.13 529.5,509.37 530.82,509.42 C532.15,509.47 533.51,509.46 534.85,509.43 C536.19,509.39 537.55,509.31 538.86,509.21 C540.18,509.11 541.49,508.97 542.76,508.83 C544.03,508.68 545.26,508.51 546.46,508.35 C547.66,508.2 548.8,508.05 549.93,507.88 C551.07,507.72 552.17,507.57 553.27,507.37 C554.38,507.17 555.47,506.93 556.56,506.67 C557.64,506.41 558.72,506.12 559.78,505.81 C560.85,505.5 561.9,505.16 562.93,504.81 C563.96,504.46 564.97,504.08 565.96,503.71 C566.95,503.33 567.92,503 568.87,502.53 C569.82,502.07 570.74,501.49 571.64,500.92 C572.54,500.35 573.41,499.74 574.27,499.11 C575.12,498.48 576.35,497.47 576.77,497.15" fill="none" stroke="#fff" stroke-opacity="0.55" stroke-width="0.6"/>
<path d="M481.98,501.37 C482.34,501.34 483.27,501.27 484.14,501.22 C485,501.17 486.08,501.12 487.17,501.06 C488.27,501.01 489.51,500.96 490.71,500.91 C491.91,500.87 493.18,500.82 494.37,500.78 C495.56,500.74 496.72,500.71 497.86,500.67 C499,500.62 500.1,500.55 501.2,500.5 C502.3,500.45 503.36,500.42 504.45,500.39 C505.55,500.35 506.64,500.34 507.77,500.31 C508.9,500.28 510.05,500.25 511.24,500.2 C512.43,500.14 513.67,500.1 514.91,500 C516.16,499.9 517.43,499.77 518.72,499.6 C520,499.43 521.3,499.12 522.61,498.97 C523.93,498.82 525.24,498.69 526.58,498.7 C527.93,498.71 529.3,498.95 530.68,499.02 C532.06,499.09 533.47,499.12 534.86,499.12 C536.24,499.12 537.63,499.08 538.98,499.04 C540.33,498.99 541.67,498.91 542.96,498.83 C544.24,498.75 545.49,498.65 546.69,498.56 C547.89,498.47 549.03,498.39 550.17,498.3 C551.3,498.21 552.4,498.14 553.5,498.03 C554.6,497.91 555.69,497.76 556.77,497.6 C557.86,497.44 558.95,497.24 560.02,497.04 C561.1,496.84 562.16,496.61 563.2,496.38 C564.24,496.15 565.27,495.9 566.28,495.65 C567.29,495.4 568.27,495.22 569.24,494.9 C570.21,494.58 571.16,494.14 572.08,493.72 C573,493.3 573.89,492.83 574.77,492.37 C575.64,491.91 576.5,491.43 577.34,490.96 C578.18,490.48 579,489.99 579.81,489.51 C580.62,489.02 581.42,488.53 582.22,488.05 C583.02,487.57 583.81,487.11 584.61,486.61 C585.41,486.1 586.21,485.58 587.02,485.03 C587.83,484.48 588.64,483.9 589.45,483.33 C590.25,482.76 591.05,482.19 591.84,481.63 C592.63,481.07 593.42,480.51 594.19,479.96 C594.96,479.42 595.73,478.88 596.47,478.37 C597.21,477.86 598.29,477.14 598.66,476.89" fill="none" stroke="#fff" stroke-opacity="0.55" stroke-width="0.6"/>
<path d="M648.5,467.27 C649.3,467.34 651.54,467.49 653.31,467.68 C655.09,467.87 656.91,468.01 659.15,468.4 C661.39,468.78 665.5,469.74 666.76,470.01" fill="none" stroke="#fff" stroke-opacity="0.55" stroke-width="0.6"/>
<path d="M478.94,489.41 C479.34,489.41 480.37,489.43 481.33,489.42 C482.28,489.4 483.46,489.37 484.66,489.33 C485.85,489.3 487.2,489.25 488.48,489.21 C489.77,489.18 491.11,489.14 492.36,489.11 C493.6,489.08 494.78,489.08 495.95,489.05 C497.13,489.03 498.26,489 499.4,488.98 C500.54,488.95 501.65,488.94 502.79,488.93 C503.94,488.91 505.08,488.91 506.28,488.88 C507.48,488.86 508.7,488.83 509.97,488.79 C511.24,488.75 512.56,488.72 513.89,488.64 C515.22,488.56 516.59,488.45 517.96,488.31 C519.33,488.17 520.71,487.91 522.1,487.79 C523.48,487.67 524.86,487.55 526.27,487.56 C527.67,487.58 529.1,487.81 530.53,487.89 C531.96,487.97 533.43,488.01 534.86,488.04 C536.29,488.07 537.73,488.07 539.11,488.06 C540.5,488.06 541.87,488.03 543.18,488 C544.48,487.97 545.74,487.92 546.94,487.89 C548.15,487.85 549.29,487.83 550.42,487.79 C551.56,487.76 552.65,487.75 553.74,487.7 C554.84,487.64 555.93,487.57 557.02,487.48 C558.11,487.39 559.21,487.28 560.3,487.15 C561.38,487.03 562.46,486.88 563.52,486.73 C564.58,486.58 565.62,486.42 566.65,486.26 C567.68,486.1 568.69,486.01 569.68,485.78 C570.68,485.56 571.65,485.24 572.61,484.92 C573.56,484.61 574.49,484.24 575.4,483.88 C576.32,483.53 577.21,483.16 578.09,482.79 C578.96,482.42 579.83,482.05 580.68,481.68 C581.53,481.31 582.37,480.95 583.21,480.58 C584.05,480.22 584.87,479.88 585.71,479.49 C586.54,479.1 587.39,478.68 588.23,478.26 C589.07,477.83 589.91,477.36 590.75,476.91 C591.58,476.47 592.41,476.04 593.23,475.6 C594.05,475.16 594.87,474.7 595.68,474.26 C596.49,473.82 597.3,473.37 598.08,472.96 C598.86,472.56 599.63,472.19 600.38,471.83 C601.13,471.46 601.86,471.13 602.58,470.79 C603.3,470.45 604.02,470.09 604.72,469.78 C605.42,469.47 606.11,469.17 606.78,468.9 C607.46,468.63 608.13,468.39 608.78,468.17 C609.43,467.94 610.08,467.74 610.71,467.54 C611.35,467.34 611.96,467.17 612.59,466.98 C613.22,466.8 613.84,466.62 614.48,466.42 C615.11,466.22 615.76,465.99 616.38,465.79 C617,465.6 617.59,465.42 618.18,465.26 C618.78,465.09 619.36,464.94 619.96,464.8 C620.56,464.66 621.16,464.54 621.78,464.42 C622.4,464.29 623.03,464.17 623.7,464.07 C624.37,463.96 625.02,463.89 625.79,463.77 C626.55,463.65 627.4,463.48 628.28,463.33 C629.15,463.19 630.05,463.04 631.04,462.88 C632.03,462.71 633.12,462.48 634.22,462.32 C635.32,462.16 636.45,462.01 637.64,461.89 C638.83,461.77 640.04,461.69 641.36,461.6 C642.68,461.51 644.05,461.43 645.55,461.37 C647.05,461.3 648.59,461.24 650.35,461.19 C652.12,461.13 655.17,461.05 656.13,461.03" fill="none" stroke="#fff" stroke-opacity="0.55" stroke-width="0.6"/>
<path d="M475.71,476.67 C476.15,476.7 477.29,476.83 478.34,476.86 C479.38,476.9 480.69,476.88 481.98,476.87 C483.28,476.87 484.75,476.83 486.12,476.81 C487.49,476.78 488.92,476.76 490.22,476.75 C491.52,476.74 492.72,476.76 493.94,476.77 C495.15,476.78 496.32,476.79 497.5,476.8 C498.69,476.81 499.84,476.83 501.05,476.83 C502.25,476.84 503.45,476.84 504.71,476.82 C505.97,476.81 507.27,476.79 508.63,476.76 C509.98,476.74 511.39,476.73 512.81,476.67 C514.24,476.61 515.7,476.52 517.16,476.42 C518.62,476.31 520.1,476.12 521.56,476.03 C523.02,475.93 524.46,475.83 525.93,475.85 C527.4,475.87 528.88,476.06 530.37,476.15 C531.86,476.23 533.38,476.29 534.86,476.33 C536.34,476.38 537.83,476.41 539.25,476.44 C540.68,476.46 542.08,476.47 543.41,476.48 C544.73,476.49 546,476.5 547.21,476.51 C548.43,476.52 549.56,476.54 550.7,476.56 C551.83,476.57 552.91,476.61 554.01,476.61 C555.11,476.61 556.19,476.59 557.28,476.56 C558.38,476.53 559.49,476.49 560.59,476.43 C561.69,476.37 562.78,476.29 563.86,476.21 C564.94,476.13 566.01,476.04 567.06,475.95 C568.11,475.87 569.15,475.83 570.17,475.69 C571.2,475.55 572.21,475.34 573.2,475.12 C574.19,474.9 575.16,474.61 576.11,474.35 C577.07,474.09 578.01,473.81 578.93,473.54 C579.86,473.27 580.77,473 581.67,472.73 C582.58,472.46 583.46,472.21 584.35,471.94 C585.24,471.67 586.11,471.42 587,471.13 C587.88,470.84 588.77,470.52 589.66,470.19 C590.55,469.86 591.44,469.5 592.32,469.17 C593.2,468.84 594.06,468.54 594.94,468.2 C595.81,467.86 596.68,467.49 597.55,467.13 C598.42,466.76 599.3,466.36 600.15,466.02 C601,465.68 601.84,465.38 602.67,465.08 C603.5,464.79 604.31,464.52 605.12,464.24 C605.93,463.96 606.73,463.66 607.53,463.39 C608.34,463.12 609.15,462.84 609.94,462.6 C610.74,462.36 611.54,462.14 612.32,461.93 C613.11,461.73 613.89,461.54 614.65,461.37 C615.41,461.19 616.15,461.04 616.9,460.86 C617.66,460.68 618.41,460.49 619.17,460.29 C619.94,460.08 620.72,459.84 621.47,459.63 C622.22,459.43 622.95,459.24 623.68,459.05 C624.42,458.87 625.14,458.71 625.87,458.54 C626.6,458.38 627.33,458.23 628.07,458.07 C628.82,457.9 629.56,457.73 630.34,457.56 C631.11,457.4 631.87,457.26 632.71,457.1 C633.55,456.94 634.43,456.77 635.38,456.6 C636.33,456.44 637.25,456.34 638.43,456.11 C639.6,455.88 641.03,455.48 642.42,455.22 C643.82,454.96 645.24,454.75 646.81,454.55 C648.37,454.36 649.95,454.22 651.79,454.02 C653.64,453.83 656.85,453.47 657.86,453.36" fill="none" stroke="#fff" stroke-opacity="0.55" stroke-width="0.6"/>
<path d="M483.64,463.79 C484.36,463.79 486.62,463.78 487.98,463.8 C489.35,463.82 490.57,463.87 491.83,463.91 C493.08,463.95 494.29,464.01 495.52,464.06 C496.75,464.11 497.96,464.16 499.22,464.19 C500.48,464.21 501.74,464.22 503.07,464.22 C504.4,464.23 505.78,464.21 507.22,464.21 C508.66,464.2 510.17,464.21 511.69,464.18 C513.21,464.14 514.77,464.08 516.32,464.01 C517.88,463.94 519.45,463.82 520.99,463.76 C522.54,463.69 524.05,463.6 525.58,463.62 C527.12,463.64 528.66,463.8 530.2,463.88 C531.75,463.95 533.33,464.02 534.86,464.08 C536.39,464.14 537.93,464.19 539.39,464.25 C540.86,464.3 542.3,464.34 543.65,464.39 C545,464.44 546.27,464.49 547.49,464.54 C548.72,464.59 549.85,464.65 550.99,464.71 C552.12,464.77 553.2,464.84 554.29,464.89 C555.39,464.93 556.46,464.97 557.56,465 C558.67,465.02 559.79,465.03 560.9,465.03 C562.01,465.03 563.13,465.01 564.23,465 C565.32,464.98 566.42,464.95 567.5,464.92 C568.57,464.9 569.64,464.91 570.7,464.85 C571.75,464.79 572.8,464.69 573.83,464.55 C574.86,464.42 575.88,464.22 576.88,464.04 C577.89,463.87 578.88,463.68 579.85,463.5 C580.83,463.32 581.8,463.14 582.76,462.97 C583.71,462.8 584.66,462.65 585.6,462.47 C586.55,462.3 587.48,462.12 588.42,461.92 C589.36,461.72 590.31,461.5 591.25,461.27 C592.19,461.05 593.13,460.8 594.06,460.57 C594.99,460.35 595.91,460.19 596.84,459.94 C597.77,459.7 598.7,459.42 599.64,459.12 C600.58,458.83 601.55,458.47 602.48,458.19 C603.42,457.91 604.35,457.67 605.27,457.43 C606.19,457.2 607.1,457 608.01,456.77 C608.92,456.55 609.82,456.32 610.75,456.08 C611.68,455.85 612.63,455.58 613.57,455.36 C614.51,455.14 615.47,454.94 616.41,454.75 C617.35,454.56 618.29,454.39 619.21,454.22 C620.13,454.05 621.01,453.93 621.92,453.75 C622.83,453.56 623.75,453.35 624.67,453.13 C625.58,452.91 626.52,452.65 627.43,452.43 C628.34,452.2 629.23,451.99 630.13,451.79 C631.03,451.58 631.91,451.39 632.8,451.19 C633.69,450.99 634.59,450.81 635.48,450.6 C636.37,450.38 637.26,450.13 638.16,449.9 C639.06,449.67 639.95,449.43 640.88,449.22 C641.81,449.02 642.71,448.85 643.74,448.67 C644.78,448.49 645.71,448.46 647.09,448.17 C648.47,447.87 651.2,447.12 652.02,446.91" fill="none" stroke="#fff" stroke-opacity="0.55" stroke-width="0.6"/>
<path d="M534.86,451.35 C535.64,451.38 538.04,451.49 539.54,451.56 C541.05,451.64 542.53,451.72 543.9,451.8 C545.27,451.88 546.56,451.97 547.79,452.06 C549.02,452.15 550.16,452.24 551.29,452.34 C552.42,452.43 553.49,452.53 554.59,452.62 C555.68,452.71 556.75,452.8 557.86,452.87 C558.96,452.95 560.11,453.01 561.23,453.06 C562.36,453.12 563.49,453.15 564.61,453.19 C565.73,453.23 566.85,453.25 567.96,453.29 C569.06,453.32 570.16,453.38 571.26,453.39 C572.35,453.4 573.43,453.4 574.5,453.36 C575.58,453.31 576.64,453.19 577.7,453.1 C578.75,453.01 579.8,452.91 580.83,452.82 C581.87,452.73 582.89,452.64 583.91,452.56 C584.93,452.48 585.93,452.44 586.94,452.35 C587.95,452.27 588.95,452.17 589.95,452.06 C590.95,451.95 591.95,451.81 592.95,451.69 C593.95,451.57 594.95,451.43 595.94,451.32 C596.93,451.21 597.89,451.18 598.89,451.04 C599.88,450.9 600.89,450.7 601.91,450.47 C602.93,450.25 603.98,449.93 605.01,449.7 C606.04,449.48 607.07,449.3 608.09,449.12 C609.12,448.95 610.13,448.81 611.16,448.64 C612.19,448.47 613.2,448.31 614.26,448.11 C615.32,447.91 616.43,447.65 617.53,447.45 C618.64,447.25 619.76,447.06 620.88,446.89 C621.99,446.71 623.11,446.55 624.2,446.39 C625.29,446.23 626.34,446.13 627.42,445.94 C628.51,445.75 629.61,445.49 630.7,445.25 C631.8,445.01 632.9,444.74 633.99,444.5 C635.08,444.26 636.15,444.02 637.23,443.78 C638.3,443.55 639.37,443.33 640.44,443.09 C641.51,442.86 642.58,442.64 643.64,442.37 C644.7,442.1 645.75,441.76 646.79,441.45 C647.83,441.15 649.38,440.69 649.89,440.54" fill="none" stroke="#fff" stroke-opacity="0.55" stroke-width="0.6"/>
<path d="M568.44,441.13 C569,441.17 570.71,441.31 571.84,441.39 C572.97,441.47 574.09,441.59 575.21,441.62 C576.33,441.66 577.45,441.62 578.56,441.62 C579.67,441.61 580.77,441.6 581.86,441.6 C582.96,441.6 584.05,441.6 585.13,441.61 C586.21,441.63 587.28,441.68 588.35,441.69 C589.42,441.69 590.49,441.67 591.56,441.64 C592.63,441.62 593.69,441.58 594.75,441.56 C595.81,441.54 596.87,441.52 597.92,441.52 C598.98,441.53 600,441.64 601.06,441.6 C602.13,441.56 603.2,441.45 604.31,441.3 C605.41,441.14 606.57,440.86 607.7,440.69 C608.83,440.52 609.96,440.4 611.1,440.28 C612.23,440.16 613.37,440.09 614.52,439.97 C615.67,439.86 616.8,439.77 618,439.61 C619.21,439.45 620.49,439.2 621.76,439.01 C623.04,438.82 624.35,438.65 625.65,438.49 C626.94,438.32 628.26,438.17 629.54,438.02 C630.82,437.87 632.04,437.78 633.31,437.58 C634.58,437.38 636.52,436.94 637.16,436.82" fill="none" stroke="#fff" stroke-opacity="0.55" stroke-width="0.6"/>
<path d="M424,448.3L534,421.4" stroke="#5c5c56" stroke-width="2.6" fill="none"/><path d="M424,448.3L534,421.4" stroke="#8e8e88" stroke-width="1.4" fill="none"/>
<path d="M534.2,380V421.6" stroke="#000" stroke-width="2.2"/>
<path d="M534.2,397.6L567.5,412L622.6,494.4" stroke="#000" stroke-width="1.1" fill="none"/>
<path d="M424,448.3 C427.17,446.58 436.72,441.72 443,438 C449.28,434.28 455.53,430.25 461.7,426 C467.87,421.75 473.83,417.12 480,412.5 C486.17,407.88 492.7,402.55 498.7,398.3 C504.7,394.05 510.05,390.02 516,387 C521.95,383.98 529.07,381.03 534.4,380.2 C539.73,379.37 543.07,380.53 548,382 C552.93,383.47 558.4,386.03 564,389 C569.6,391.97 578.67,398 581.6,399.8" fill="none" stroke="#000" stroke-width="2.6" stroke-linecap="round"/>
<path d="M376.5,439 C379.08,439.92 386.75,442.92 392,444.5 C397.25,446.08 402.67,447.67 408,448.5 C413.33,449.33 418.67,450.42 424,449.5 C429.33,448.58 435.33,445.75 440,443 C444.67,440.25 448,436.97 452,433 C456,429.03 462,421.5 464,419.2" fill="none" stroke="#b01c1c" stroke-width="2.4" stroke-linecap="round"/>
<path d="M424,448.3 C423.25,445.58 421.13,437.72 419.5,432 C417.87,426.28 415.08,417 414.2,414" fill="none" stroke="#b01c1c" stroke-width="2.2" stroke-linecap="round"/>
<defs><radialGradient id="rbu" cx="0.38" cy="0.35" r="0.7"><stop offset="0" stop-color="#e03030"/><stop offset="1" stop-color="#8e1010"/></radialGradient></defs>
<circle cx="424" cy="448.3" r="6.6" fill="url(#rbu)"/>
<path d="M428.5,449 C428.62,448.17 428.98,445.33 429.2,444 C429.42,442.67 429.7,441.5 429.8,441" fill="none" stroke="#7a1010" stroke-width="2.2" stroke-linecap="round"/>
<path d="M521.6,319.3 C522.08,323.58 523.35,337.22 524.5,345 C525.65,352.78 526.85,360.33 528.5,366 C530.15,371.67 532.32,379 534.4,379 C536.48,379 538.98,371.17 541,366 C543.02,360.83 544.9,353.45 546.5,348 C548.1,342.55 549.92,335.75 550.6,333.3" fill="none" stroke="#1a6f1a" stroke-width="2.8" stroke-linecap="round"/>
<defs><radialGradient id="gbu" cx="0.38" cy="0.35" r="0.7"><stop offset="0" stop-color="#38a838"/><stop offset="1" stop-color="#125812"/></radialGradient></defs>
<circle cx="534.4" cy="380.2" r="7" fill="url(#gbu)"/>
<path d="M540.5,378.8L555.66,375.77" stroke="#000" stroke-width="2.8"/>
<path d="M563.5,374.2L556.48,379.89L554.83,371.65Z" fill="#000"/>
<path d="M526,533L623.3,508.4" stroke="#5c5c56" stroke-width="2.6" fill="none"/><path d="M526,533L623.3,508.4" stroke="#8e8e88" stroke-width="1.4" fill="none"/>
<path d="M623.3,466V508.6" stroke="#000" stroke-width="2.2"/>
<path d="M526,533 C529.83,531 541.83,525.67 549,521 C556.17,516.33 563,510.33 569,505 C575,499.67 579.83,493.83 585,489 C590.17,484.17 595.5,479.25 600,476 C604.5,472.75 608.12,471.08 612,469.5 C615.88,467.92 618.63,467.08 623.3,466.5 C627.97,465.92 633.88,465.13 640,466 C646.12,466.87 653.25,468.62 660,471.7 C666.75,474.78 677.08,482.37 680.5,484.5" fill="none" stroke="#000" stroke-width="2.6" stroke-linecap="round"/>
<path d="M476,502 C477.67,504.17 482.67,511.17 486,515 C489.33,518.83 492,522.17 496,525 C500,527.83 505,530.5 510,532 C515,533.5 523.33,533.67 526,534" fill="none" stroke="#b01c1c" stroke-width="2.4" stroke-linecap="round"/>
<path d="M526,533 C525,528.33 522.17,515.27 520,505 C517.83,494.73 514.17,477 513,471.4" fill="none" stroke="#b01c1c" stroke-width="2.2" stroke-linecap="round"/>
<path d="M526,533 C528,531 534,525.17 538,521 C542,516.83 546.67,512.17 550,508 C553.33,503.83 555.67,500.1 558,496 C560.33,491.9 563,485.5 564,483.4" fill="none" stroke="#b01c1c" stroke-width="2.4" stroke-linecap="round"/>
<defs><radialGradient id="rbl" cx="0.38" cy="0.35" r="0.7"><stop offset="0" stop-color="#e03030"/><stop offset="1" stop-color="#8e1010"/></radialGradient></defs>
<circle cx="526" cy="533" r="6.8" fill="url(#rbl)"/>
<path d="M528.5,533 C528.58,529.17 528.92,516.33 529,510 C529.08,503.67 529,497.5 529,495" fill="none" stroke="#7a1010" stroke-width="2.2" stroke-linecap="round"/>
<path d="M610.8,450.8 C611.67,452 613.92,455.42 616,458 C618.08,460.58 620.97,464.3 623.3,466.3 C625.63,468.3 627.55,469.43 630,470 C632.45,470.57 636.67,469.75 638,469.7" fill="none" stroke="#1a6f1a" stroke-width="2.4" stroke-linecap="round"/>
<defs><radialGradient id="gbl" cx="0.38" cy="0.35" r="0.7"><stop offset="0" stop-color="#38a838"/><stop offset="1" stop-color="#136013"/></radialGradient></defs>
<circle cx="623.3" cy="466.3" r="6.2" fill="url(#gbl)"/>
<path d="M628,463.2L644.86,461.16" stroke="#000" stroke-width="2.8"/>
<path d="M652.8,460.2L645.36,465.33L644.35,456.99Z" fill="#000"/>
<text x="438.6" y="381.3" font-size="12.4" fill="#000" textLength="48.86" lengthAdjust="spacingAndGlyphs">small <tspan font-style="italic">&#957;</tspan><tspan font-size="8.5" dy="2.5">0</tspan></text>
<text x="579.4" y="368" font-size="12.4" fill="#2ca02c" textLength="72.13" lengthAdjust="spacingAndGlyphs">saddle point</text>
<text x="567.6" y="410.4" font-size="12.4" fill="#000" textLength="50.98" lengthAdjust="spacingAndGlyphs">same &#916;<tspan font-style="italic">E</tspan></text>
<text x="604.5" y="537.6" font-size="12.4" fill="#000" textLength="47.35" lengthAdjust="spacingAndGlyphs">large <tspan font-style="italic">&#957;</tspan><tspan font-size="8.5" dy="2.5">0</tspan></text>
<text x="445.2" y="546.5" font-size="12.4" fill="#d62728" textLength="55.52" lengthAdjust="spacingAndGlyphs">minimum</text>
</svg>
</body></html>
